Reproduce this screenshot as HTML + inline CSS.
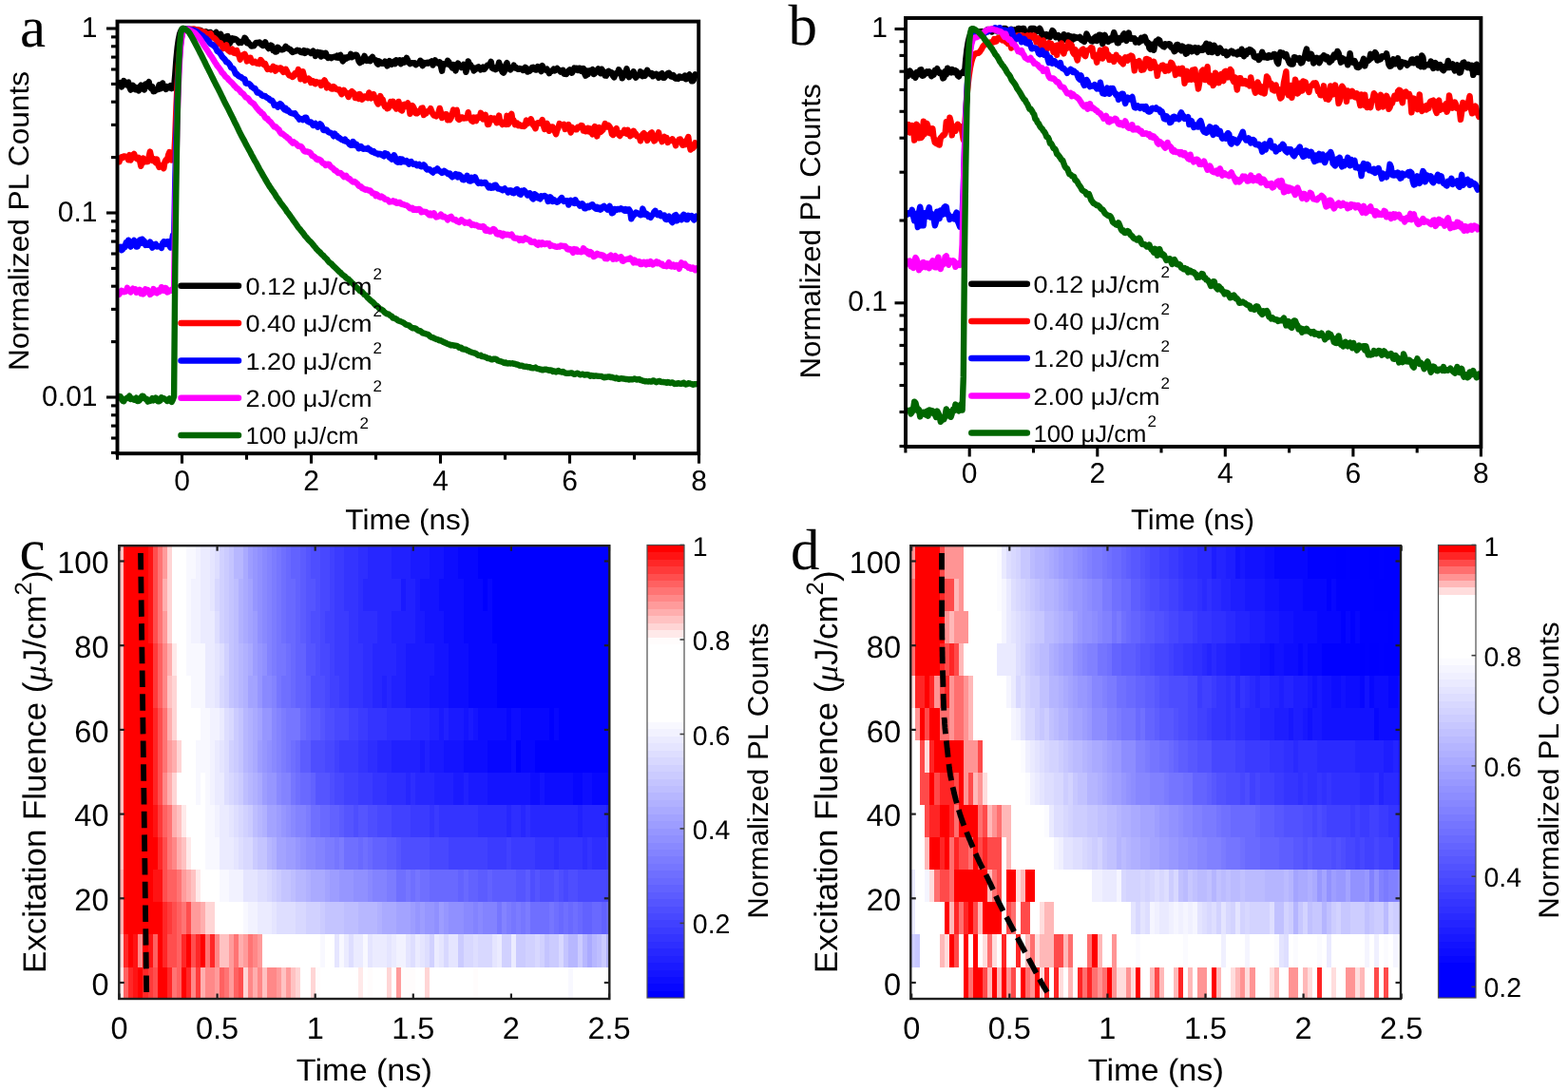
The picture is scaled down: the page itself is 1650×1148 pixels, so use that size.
<!DOCTYPE html>
<html><head><meta charset="utf-8"><title>PL decay figure</title>
<style>
html,body{margin:0;padding:0;background:#fff;}
body{width:1650px;height:1148px;overflow:hidden;}
svg{display:block;}
svg text{font-family:"Liberation Sans",sans-serif;fill:#000;text-rendering:geometricPrecision;}
</style></head><body>
<svg width="1650" height="1148" viewBox="0 0 1650 1148">
<rect width="1650" height="1148" fill="#fff"/>
<polyline points="125.5,88.7 126.7,87.1 127.9,91.5 129.1,88.8 130.3,85.1 131.5,87.7 132.7,89.1 133.9,86.9 135.1,86.6 136.3,91.7 137.5,94.6 138.7,91.4 139.9,89.9 141.1,93.1 142.3,94.2 143.5,92 144.7,94.2 145.9,95.4 147.1,91.5 148.3,89.7 149.5,92.6 150.7,93.8 151.9,94.5 153.1,88.5 154.3,88.4 155.5,87.7 156.7,86.2 157.9,91.5 159.1,93.1 160.3,91.2 161.5,96.2 162.7,96 163.9,94.8 165.1,94.4 166.3,94.2 167.5,89.2 168.7,93.3 169.9,93 171.1,87.4 172.3,91.5 173.5,92.1 174.7,93.8 175.9,91.2 177.1,91.9 178.3,92.4 179.5,90.1 180.7,93.1 181.9,92.5 183.1,92 184.3,78.4 185.5,62 186.7,49.8 187.9,41.3 189.1,35.7 190.3,32.5 191.5,31 192.7,30.5 193.9,30.5 195.1,30.6 196.3,30.6 197.5,30.8 198.7,31 199.9,31 201.1,31.5 202.3,31.8 203.5,31.3 204.7,31.5 205.9,31.5 207.1,32.5 208.3,33.8 209.5,34 210.7,31.8 211.9,32.4 213.1,34.1 214.3,35.3 215.5,34.4 216.7,33.3 217.9,34.3 219.1,34.4 220.3,34.2 221.5,34 222.7,35.7 223.9,36.1 225.1,35.7 226.3,35.2 227.5,34 228.7,35.9 229.9,39 231.1,37.1 232.3,35.9 233.5,40.2 234.7,41.1 235.9,43 237.1,40.2 238.3,38.3 239.5,38 240.7,43.3 241.9,45.6 243.1,40.6 244.3,40.2 245.5,42.1 246.7,40.7 247.9,41.2 249.1,41.8 250.3,43.4 251.5,45 252.7,44.1 253.9,44.9 255.1,43.5 256.3,43.3 257.5,39.7 258.7,41.1 259.9,45.1 261.1,44.4 262.3,46.1 263.5,47.2 264.7,48.6 265.9,48.4 267.1,48.3 268.3,46.3 269.5,44.9 270.7,44.9 271.9,45.2 273.1,44.6 274.3,45.7 275.5,47.2 276.7,47.9 277.9,46.4 279.1,44.3 280.3,47.3 281.5,49.3 282.7,51 283.9,50.1 285.1,47.7 286.3,48.5 287.5,53.1 288.7,52.8 289.9,54.6 291.1,54.4 292.3,49.8 293.5,51 294.7,51.9 295.9,52.3 297.1,52.4 298.3,51.9 299.5,51.1 300.7,48.8 301.9,50.4 303.1,50.6 304.3,51.9 305.5,51.9 306.7,54 307.9,54.9 309.1,54.2 310.3,54.1 311.5,53.6 312.7,52.8 313.9,53.2 315.1,53.3 316.3,54.9 317.5,55.1 318.7,55.3 319.9,53.1 321.1,55.9 322.3,54 323.5,53.7 324.7,54.7 325.9,54.9 327.1,56.1 328.3,54.8 329.5,53.7 330.7,55.1 331.9,59 333.1,57.1 334.3,54.9 335.5,56 336.7,55.3 337.9,59.6 339.1,55.9 340.3,58.4 341.5,58.7 342.7,55.8 343.9,58.8 345.1,60.9 346.3,60.2 347.5,60.1 348.7,61.1 349.9,60.1 351.1,60 352.3,59.6 353.5,60.3 354.7,58.5 355.9,60.7 357.1,58.8 358.3,57.9 359.5,61.3 360.7,64.4 361.9,63 363.1,60.5 364.3,61.7 365.5,60.3 366.7,60.6 367.9,60.1 369.1,56.8 370.3,60.2 371.5,59.3 372.7,59.1 373.9,57.8 375.1,57.7 376.3,59.8 377.5,64.2 378.7,66.1 379.9,63.8 381.1,64.6 382.3,61.7 383.5,58.9 384.7,62.4 385.9,63.8 387.1,62.6 388.3,63.9 389.5,64.2 390.7,61.2 391.9,59.9 393.1,62.3 394.3,63 395.5,63.4 396.7,66.5 397.9,67.7 399.1,64.4 400.3,65.8 401.5,66.8 402.7,66.7 403.9,66.6 405.1,64.5 406.3,66.8 407.5,69.4 408.7,66.9 409.9,64.1 411.1,66.2 412.3,67.8 413.5,65.9 414.7,64.7 415.9,67.1 417.1,63.4 418.3,65.4 419.5,64.7 420.7,63.3 421.9,67.2 423.1,65.9 424.3,63.3 425.5,65.7 426.7,63.8 427.9,60.9 429.1,63.2 430.3,66 431.5,67.1 432.7,66.3 433.9,66.1 435.1,66.6 436.3,66.2 437.5,68.2 438.7,67 439.9,66.9 441.1,66.7 442.3,63.8 443.5,64.9 444.7,69.2 445.9,67.6 447.1,66.1 448.3,66.7 449.5,65.8 450.7,66.6 451.9,65.6 453.1,66.1 454.3,64.4 455.5,68.6 456.7,65.8 457.9,63.4 459.1,65.7 460.3,66.4 461.5,66.9 462.7,65.3 463.9,69.6 465.1,74.7 466.3,67.1 467.5,67.7 468.7,67.5 469.9,67.3 471.1,63.8 472.3,65.1 473.5,68.6 474.7,69.4 475.9,71.5 477.1,68 478.3,70.1 479.5,74.5 480.7,68.2 481.9,66.6 483.1,68.4 484.3,69.4 485.5,71 486.7,69.5 487.9,67.9 489.1,70.8 490.3,75.8 491.5,72.1 492.7,64.4 493.9,67.5 495.1,68.2 496.3,70.6 497.5,70.9 498.7,74.4 499.9,73.4 501.1,72.5 502.3,70.9 503.5,70.3 504.7,71.6 505.9,73.4 507.1,71.9 508.3,70.6 509.5,73 510.7,71.5 511.9,70 513.1,68.5 514.3,68.6 515.5,67.5 516.7,64.9 517.9,71.6 519.1,72.3 520.3,71.1 521.5,73.1 522.7,72.5 523.9,70.6 525.1,65.7 526.3,69.4 527.5,72.8 528.7,75.7 529.9,76.6 531.1,74.5 532.3,68.3 533.5,66.2 534.7,71.3 535.9,72.2 537.1,73.4 538.3,71.8 539.5,71.1 540.7,68.7 541.9,71.5 543.1,71.1 544.3,72.5 545.5,72.9 546.7,72 547.9,72.5 549.1,72.5 550.3,73.9 551.5,73.2 552.7,70.9 553.9,71.5 555.1,75.6 556.3,73.5 557.5,74.6 558.7,73.5 559.9,71.1 561.1,70.7 562.3,72.6 563.5,73.6 564.7,73.5 565.9,70.1 567.1,70.8 568.3,73.2 569.5,75.1 570.7,69.1 571.9,72.5 573.1,72.5 574.3,73.6 575.5,72.7 576.7,74.7 577.9,77.2 579.1,75.3 580.3,74.9 581.5,74.2 582.7,72.6 583.9,74.4 585.1,73.2 586.3,72 587.5,73.3 588.7,73.9 589.9,75.5 591.1,74.2 592.3,73.8 593.5,77.6 594.7,77.9 595.9,78 597.1,76.4 598.3,74.4 599.5,73.4 600.7,74.3 601.9,76.7 603.1,74.7 604.3,71.6 605.5,73.2 606.7,71.9 607.9,73.9 609.1,71.8 610.3,71.8 611.5,74.7 612.7,74.2 613.9,72 615.1,77.3 616.3,79.7 617.5,74.4 618.7,78.3 619.9,74.8 621.1,74.1 622.3,74.3 623.5,73.2 624.7,78.1 625.9,77.3 627.1,74.4 628.3,74.2 629.5,72.4 630.7,75 631.9,77.1 633.1,72.7 634.3,74.5 635.5,77 636.7,79.5 637.9,79.7 639.1,75.8 640.3,74.9 641.5,77 642.7,76 643.9,76.5 645.1,79.9 646.3,81.3 647.5,78.3 648.7,77 649.9,77.2 651.1,73.3 652.3,75.5 653.5,76.2 654.7,82.3 655.9,80.3 657.1,78 658.3,75.7 659.5,72.3 660.7,78.7 661.9,81.2 663.1,77.4 664.3,79.3 665.5,78.9 666.7,75.4 667.9,79.9 669.1,81.6 670.3,79.3 671.5,78.6 672.7,79.1 673.9,75.3 675.1,78.3 676.3,80.1 677.5,76.8 678.7,79.8 679.9,77.1 681.1,73.8 682.3,76.8 683.5,76.8 684.7,78.4 685.9,77.1 687.1,80.3 688.3,78.2 689.5,79.2 690.7,77.9 691.9,78.9 693.1,81.9 694.3,80.3 695.5,78 696.7,77.2 697.9,81.9 699.1,81.8 700.3,79.6 701.5,79.6 702.7,77.2 703.9,76.7 705.1,77.9 706.3,80.6 707.5,80.7 708.7,79.2 709.9,82 711.1,82.7 712.3,81.9 713.5,82.9 714.7,80.5 715.9,80.6 717.1,81.8 718.3,81.5 719.5,82 720.7,79.5 721.9,83.2 723.1,80.2 724.3,79.7 725.5,78.5 726.7,82.7 727.9,85.3 729.1,85.2 730.3,83.3 731.5,78.3 732.7,78.9" fill="none" stroke="#000" stroke-width="6.4" stroke-linejoin="round" stroke-linecap="round"/>
<polyline points="125.5,170.2 126.7,166.4 127.9,165.2 129.1,166 130.3,164.5 131.5,164.4 132.7,165.2 133.9,165.2 135.1,168.2 136.3,163 137.5,168.5 138.7,165.4 139.9,163.6 141.1,161.8 142.3,165.5 143.5,166.6 144.7,167.5 145.9,165.8 147.1,169.1 148.3,174.8 149.5,170.2 150.7,166.6 151.9,170.4 153.1,168.5 154.3,170.2 155.5,170 156.7,164.8 157.9,159.5 159.1,164.9 160.3,168.9 161.5,167 162.7,169.7 163.9,171.1 165.1,167.5 166.3,173.2 167.5,175.8 168.7,174.2 169.9,173.9 171.1,174.9 172.3,177.2 173.5,170.3 174.7,168.2 175.9,168.9 177.1,163.2 178.3,160 179.5,163.1 180.7,168.5 181.9,168.2 183.1,167.5 184.3,143.9 185.5,111.7 186.7,86.9 187.9,67.8 189.1,53.5 190.3,43.5 191.5,36.9 192.7,33 193.9,31.2 195.1,30.6 196.3,30.5 197.5,30.5 198.7,30.6 199.9,30.6 201.1,30.7 202.3,30.8 203.5,30.5 204.7,30.7 205.9,31.3 207.1,31.5 208.3,31.2 209.5,32.5 210.7,32.5 211.9,32.9 213.1,33.8 214.3,34.4 215.5,33.8 216.7,35.9 217.9,36.1 219.1,35.8 220.3,36.3 221.5,35.3 222.7,37.6 223.9,39.6 225.1,39.6 226.3,40.6 227.5,41.9 228.7,43.5 229.9,45.7 231.1,45.1 232.3,45.4 233.5,48.2 234.7,51 235.9,48.6 237.1,48.9 238.3,47.5 239.5,52.3 240.7,53.4 241.9,54.4 243.1,52.4 244.3,51.6 245.5,55.4 246.7,56 247.9,53.4 249.1,53.1 250.3,56.8 251.5,58.6 252.7,62.7 253.9,58.6 255.1,58 256.3,58.7 257.5,56.9 258.7,59.4 259.9,64.4 261.1,62.5 262.3,60.9 263.5,60.8 264.7,64.6 265.9,65.9 267.1,65.3 268.3,64.7 269.5,66.2 270.7,66.7 271.9,65.7 273.1,67 274.3,63 275.5,64.3 276.7,67.3 277.9,68.1 279.1,67.2 280.3,70.5 281.5,72.8 282.7,72.2 283.9,72.1 285.1,73.3 286.3,72.3 287.5,69.8 288.7,72 289.9,74.7 291.1,71.4 292.3,72.7 293.5,72.4 294.7,71.4 295.9,71.8 297.1,74.5 298.3,75.9 299.5,75.4 300.7,72.7 301.9,74.9 303.1,77.5 304.3,79.3 305.5,79.5 306.7,80.2 307.9,81 309.1,80 310.3,77.2 311.5,78.1 312.7,76.4 313.9,73.1 315.1,76.1 316.3,83.3 317.5,78.1 318.7,75.2 319.9,79.7 321.1,84.7 322.3,83 323.5,83.2 324.7,82.5 325.9,83.6 327.1,86.9 328.3,86.5 329.5,85.3 330.7,87.5 331.9,88.2 333.1,86.2 334.3,87 335.5,87.2 336.7,86.7 337.9,90 339.1,88.3 340.3,86.4 341.5,84.4 342.7,86.8 343.9,92.4 345.1,89.2 346.3,91.3 347.5,91.3 348.7,93.3 349.9,93.6 351.1,91.1 352.3,92 353.5,93.6 354.7,94.2 355.9,94.1 357.1,94.2 358.3,97 359.5,99.1 360.7,97.3 361.9,94.8 363.1,96.9 364.3,97.4 365.5,99.3 366.7,102 367.9,98.3 369.1,97.4 370.3,96.1 371.5,97.1 372.7,98.5 373.9,103.1 375.1,101 376.3,100 377.5,103.9 378.7,99.1 379.9,102.8 381.1,104.6 382.3,103.4 383.5,101.5 384.7,101.5 385.9,102 387.1,103.1 388.3,97.5 389.5,100.8 390.7,103.4 391.9,101.5 393.1,99.2 394.3,102.4 395.5,103.3 396.7,107.6 397.9,109.5 399.1,105.6 400.3,101.1 401.5,104.1 402.7,104.6 403.9,109.2 405.1,112.2 406.3,110.7 407.5,114.2 408.7,113.8 409.9,110.7 411.1,107.1 412.3,108.2 413.5,106.8 414.7,111.9 415.9,112.2 417.1,114.5 418.3,111.4 419.5,106.9 420.7,112.6 421.9,115.8 423.1,116.5 424.3,110.4 425.5,109.8 426.7,111.9 427.9,109.7 429.1,108.5 430.3,111.7 431.5,119.8 432.7,113.7 433.9,111.1 435.1,112.9 436.3,115.6 437.5,119.3 438.7,119.4 439.9,118.5 441.1,116.7 442.3,116.2 443.5,113.8 444.7,113.5 445.9,121 447.1,117.9 448.3,119.5 449.5,117.2 450.7,117.1 451.9,116.5 453.1,114.2 454.3,117.4 455.5,120 456.7,121.5 457.9,121.5 459.1,122.4 460.3,120.8 461.5,118.3 462.7,113.9 463.9,118.1 465.1,124 466.3,122.1 467.5,122.5 468.7,120.1 469.9,120.2 471.1,126.3 472.3,124.5 473.5,126 474.7,123.8 475.9,119.6 477.1,115.5 478.3,119.6 479.5,116.3 480.7,115.9 481.9,124.9 483.1,126 484.3,125.1 485.5,123.5 486.7,123.4 487.9,124.6 489.1,124.2 490.3,124.4 491.5,124.2 492.7,118.2 493.9,124.4 495.1,123.7 496.3,127.1 497.5,127.8 498.7,123.6 499.9,127 501.1,127.2 502.3,123.2 503.5,123.2 504.7,123.6 505.9,118.8 507.1,122.7 508.3,125.4 509.5,123.4 510.7,120.7 511.9,124.7 513.1,131 514.3,130.9 515.5,126.3 516.7,124 517.9,125.9 519.1,126.2 520.3,124.6 521.5,125.9 522.7,129.2 523.9,128.5 525.1,121.6 526.3,128.5 527.5,129.4 528.7,131 529.9,128.8 531.1,130.2 532.3,130.8 533.5,121.8 534.7,130.8 535.9,128.7 537.1,121.4 538.3,119.8 539.5,126.9 540.7,126.8 541.9,131.2 543.1,130.3 544.3,129.7 545.5,132.2 546.7,131.2 547.9,132.4 549.1,132.8 550.3,131.9 551.5,133 552.7,131.9 553.9,126.5 555.1,128.4 556.3,129.6 557.5,128.2 558.7,125.3 559.9,128.2 561.1,131.6 562.3,132.9 563.5,135.2 564.7,130.2 565.9,129.2 567.1,129.2 568.3,129.8 569.5,128.3 570.7,126.1 571.9,132.3 573.1,136 574.3,135.4 575.5,129.8 576.7,132.4 577.9,137.8 579.1,133.9 580.3,133.6 581.5,133.4 582.7,136.6 583.9,138.4 585.1,141.2 586.3,136.9 587.5,134.3 588.7,130 589.9,131.1 591.1,131.2 592.3,131.5 593.5,130.8 594.7,136 595.9,132.3 597.1,133.5 598.3,131.2 599.5,136 600.7,139.4 601.9,133.9 603.1,135.4 604.3,135.4 605.5,136.4 606.7,136.4 607.9,133.8 609.1,134.1 610.3,133.2 611.5,132 612.7,132.4 613.9,137.5 615.1,135.2 616.3,138.2 617.5,137.8 618.7,134.7 619.9,138.4 621.1,135.4 622.3,139.2 623.5,141.3 624.7,135.3 625.9,133.1 627.1,135.5 628.3,143.4 629.5,137.1 630.7,134.1 631.9,139.1 633.1,137.9 634.3,136.9 635.5,133.3 636.7,130 637.9,133.5 639.1,133.3 640.3,131.9 641.5,133.3 642.7,135.5 643.9,141 645.1,142 646.3,140.7 647.5,136.9 648.7,135.2 649.9,139.6 651.1,141.8 652.3,143 653.5,140.2 654.7,139.6 655.9,140 657.1,136.8 658.3,137.4 659.5,140.7 660.7,136.9 661.9,139.9 663.1,143.2 664.3,142.4 665.5,141.6 666.7,137.8 667.9,139.7 669.1,140.8 670.3,143.4 671.5,143.4 672.7,143.6 673.9,148.3 675.1,145 676.3,141.2 677.5,140.2 678.7,141.5 679.9,142.1 681.1,147.9 682.3,145.8 683.5,142.1 684.7,140.1 685.9,139.3 687.1,142.9 688.3,148.4 689.5,147.6 690.7,144.7 691.9,143.2 693.1,139.3 694.3,145.4 695.5,145.8 696.7,149.1 697.9,145.4 699.1,143.9 700.3,145.4 701.5,145 702.7,150 703.9,148.5 705.1,148.1 706.3,147.7 707.5,146.3 708.7,148.4 709.9,149.6 711.1,153.2 712.3,149.5 713.5,148.7 714.7,146.6 715.9,146.5 717.1,148.3 718.3,152.8 719.5,151.1 720.7,152.2 721.9,149.1 723.1,146.7 724.3,144 725.5,152.9 726.7,157.6 727.9,152.7 729.1,156 730.3,154.5 731.5,150.3 732.7,152.7" fill="none" stroke="#f00" stroke-width="6.4" stroke-linejoin="round" stroke-linecap="round"/>
<polyline points="125.5,260.2 126.7,259.7 127.9,263.3 129.1,262.3 130.3,259.2 131.5,260 132.7,255.2 133.9,258 135.1,252.7 136.3,256.7 137.5,259.6 138.7,257.2 139.9,254.5 141.1,253 142.3,255.2 143.5,259.6 144.7,259.3 145.9,254.9 147.1,252.5 148.3,256 149.5,251.7 150.7,252.8 151.9,253.9 153.1,257.9 154.3,257.6 155.5,257.8 156.7,256.7 157.9,254.6 159.1,258.2 160.3,260.6 161.5,257.4 162.7,257.8 163.9,256.9 165.1,259.5 166.3,259.4 167.5,259.4 168.7,258.9 169.9,260.9 171.1,255.9 172.3,254.3 173.5,254.4 174.7,256.9 175.9,254.1 177.1,254.1 178.3,258.6 179.5,260.5 180.7,256.6 181.9,247.6 183.1,254.9 184.3,190.4 185.5,142.4 186.7,105.1 187.9,77.2 189.1,57.3 190.3,44 191.5,36.1 192.7,32.1 193.9,30.7 195.1,30.5 196.3,30.5 197.5,30.7 198.7,30.8 199.9,31 201.1,31.3 202.3,31.6 203.5,31.9 204.7,32.2 205.9,32.8 207.1,33.3 208.3,34.1 209.5,35.2 210.7,35.9 211.9,36.9 213.1,37.6 214.3,38.8 215.5,40 216.7,40.3 217.9,41.5 219.1,42.8 220.3,44.3 221.5,46 222.7,46.7 223.9,46.9 225.1,48.4 226.3,49.5 227.5,51.2 228.7,54 229.9,54.1 231.1,55.7 232.3,57 233.5,59.3 234.7,60.7 235.9,61.8 237.1,63.3 238.3,65.3 239.5,65.5 240.7,66.7 241.9,68.3 243.1,71.1 244.3,71.6 245.5,72.3 246.7,74.5 247.9,77.7 249.1,77.8 250.3,79.3 251.5,80.3 252.7,80.8 253.9,81.3 255.1,82.4 256.3,83.1 257.5,83.4 258.7,87.5 259.9,87.9 261.1,87.8 262.3,88.3 263.5,89.2 264.7,91.3 265.9,92 267.1,92.9 268.3,92.9 269.5,95.3 270.7,97.5 271.9,97 273.1,98.1 274.3,98.7 275.5,100.3 276.7,101 277.9,100.8 279.1,101.1 280.3,102.4 281.5,103.1 282.7,103.5 283.9,105.1 285.1,105.9 286.3,105.7 287.5,107.6 288.7,110.8 289.9,110.3 291.1,110.5 292.3,112.6 293.5,110.8 294.7,109.1 295.9,110 297.1,111.6 298.3,114.2 299.5,115.3 300.7,113.9 301.9,116.4 303.1,115.9 304.3,117.5 305.5,118.6 306.7,119.1 307.9,119.3 309.1,119.7 310.3,119.3 311.5,121.1 312.7,122.7 313.9,123.8 315.1,125.6 316.3,125 317.5,125.1 318.7,126.1 319.9,125.1 321.1,123.6 322.3,123.7 323.5,127.4 324.7,128.3 325.9,128.7 327.1,128.4 328.3,129.8 329.5,131.9 330.7,131 331.9,130 333.1,131.5 334.3,133.7 335.5,131.9 336.7,130.4 337.9,131.3 339.1,133.7 340.3,136.8 341.5,137.1 342.7,136.5 343.9,136.7 345.1,138.5 346.3,139.3 347.5,139.6 348.7,140.3 349.9,141.1 351.1,143.3 352.3,140.6 353.5,142.5 354.7,143 355.9,144.9 357.1,145 358.3,146.1 359.5,146.9 360.7,147.3 361.9,148 363.1,146.7 364.3,148.9 365.5,149 366.7,150.2 367.9,152.1 369.1,152.8 370.3,152.9 371.5,149.1 372.7,150.4 373.9,153 375.1,151.8 376.3,153.4 377.5,156.2 378.7,155.7 379.9,154.1 381.1,155.8 382.3,156.8 383.5,156.5 384.7,156.7 385.9,156.9 387.1,155.9 388.3,157.5 389.5,157.5 390.7,159.3 391.9,159.8 393.1,159.1 394.3,160.9 395.5,161.4 396.7,161.5 397.9,162.4 399.1,161.8 400.3,162 401.5,162.8 402.7,163.6 403.9,164.3 405.1,161.3 406.3,162.6 407.5,162 408.7,163.9 409.9,165.7 411.1,166.3 412.3,167.6 413.5,166.5 414.7,163.2 415.9,165.5 417.1,169.8 418.3,170.6 419.5,168.5 420.7,167.4 421.9,170.7 423.1,167.5 424.3,169.5 425.5,170.2 426.7,170.4 427.9,169.2 429.1,170.5 430.3,172.6 431.5,171 432.7,170.1 433.9,172 435.1,172.8 436.3,172.7 437.5,172.5 438.7,174.2 439.9,173.7 441.1,172.9 442.3,174.7 443.5,175.2 444.7,175.1 445.9,173.3 447.1,174.7 448.3,177.2 449.5,178.4 450.7,178 451.9,178.1 453.1,179.3 454.3,180.4 455.5,181.5 456.7,180 457.9,178.8 459.1,179.4 460.3,177.4 461.5,179.5 462.7,180 463.9,180.9 465.1,182 466.3,181.4 467.5,179.8 468.7,181 469.9,181.3 471.1,182.8 472.3,183.4 473.5,182.6 474.7,185.1 475.9,186.3 477.1,184.9 478.3,185.3 479.5,183.1 480.7,184.6 481.9,186.4 483.1,183.8 484.3,184.8 485.5,185.7 486.7,188.9 487.9,189.3 489.1,187.3 490.3,187.1 491.5,184.9 492.7,189.2 493.9,190.4 495.1,190.6 496.3,186.8 497.5,189.5 498.7,189 499.9,186.4 501.1,188.9 502.3,191.2 503.5,192.9 504.7,192.4 505.9,191.7 507.1,193 508.3,192.7 509.5,191.9 510.7,191.9 511.9,193.8 513.1,195.3 514.3,197.3 515.5,195.5 516.7,197.7 517.9,197.2 519.1,197.5 520.3,194.9 521.5,194.7 522.7,196.4 523.9,198.5 525.1,198.4 526.3,199.1 527.5,199.3 528.7,200.2 529.9,199.2 531.1,198.4 532.3,199.9 533.5,200.5 534.7,202.5 535.9,200.5 537.1,200.3 538.3,200.6 539.5,202.9 540.7,203.3 541.9,202.3 543.1,199.4 544.3,199.2 545.5,202.3 546.7,204.3 547.9,204.7 549.1,200.7 550.3,201.6 551.5,200.4 552.7,201.5 553.9,203.7 555.1,205.5 556.3,203.8 557.5,203.3 558.7,204.8 559.9,208.2 561.1,209.4 562.3,204.2 563.5,204.8 564.7,205.9 565.9,208.4 567.1,208.6 568.3,209.3 569.5,206.2 570.7,206.9 571.9,206.5 573.1,205.9 574.3,207 575.5,207.3 576.7,212 577.9,210.1 579.1,207.4 580.3,208.7 581.5,212 582.7,210 583.9,211.2 585.1,212 586.3,212.8 587.5,212.1 588.7,210.6 589.9,209.3 591.1,208.1 592.3,210.8 593.5,211.9 594.7,211.4 595.9,211.3 597.1,211.3 598.3,215.6 599.5,212.5 600.7,210.9 601.9,211.8 603.1,213.3 604.3,213.9 605.5,210.3 606.7,213.7 607.9,213.4 609.1,214.4 610.3,216.7 611.5,216.4 612.7,214.3 613.9,215.7 615.1,219.3 616.3,219.3 617.5,218 618.7,216.9 619.9,218.2 621.1,217.4 622.3,215.5 623.5,215.2 624.7,217.8 625.9,218.7 627.1,219.6 628.3,218 629.5,220 630.7,218.6 631.9,220.6 633.1,219.7 634.3,217.5 635.5,216.9 636.7,218.3 637.9,219.1 639.1,220.6 640.3,218.1 641.5,216.8 642.7,220.1 643.9,224.3 645.1,223.8 646.3,220 647.5,220 648.7,221 649.9,219.9 651.1,220.3 652.3,220.3 653.5,219.3 654.7,219.9 655.9,220.8 657.1,221.7 658.3,220.2 659.5,221.6 660.7,220.5 661.9,220.3 663.1,222.3 664.3,230.3 665.5,227.9 666.7,226.7 667.9,225.5 669.1,223.6 670.3,224 671.5,224.7 672.7,225.3 673.9,226.2 675.1,226.1 676.3,219.6 677.5,222.7 678.7,225.7 679.9,224.6 681.1,225.4 682.3,228 683.5,227.3 684.7,228.9 685.9,226.5 687.1,225.8 688.3,223.2 689.5,221.8 690.7,224.6 691.9,226.1 693.1,225.3 694.3,224.3 695.5,227.4 696.7,227.3 697.9,226.7 699.1,226.5 700.3,230.6 701.5,231 702.7,228.7 703.9,227.7 705.1,229 706.3,232.5 707.5,234 708.7,229.3 709.9,226.6 711.1,226.1 712.3,232.3 713.5,228.3 714.7,230.1 715.9,230.8 717.1,231.3 718.3,227.3 719.5,225.8 720.7,229 721.9,230.8 723.1,231.1 724.3,226.8 725.5,227.9 726.7,228.5 727.9,227.2 729.1,229.4 730.3,231.5 731.5,229.8 732.7,227.7" fill="none" stroke="#00f" stroke-width="6.4" stroke-linejoin="round" stroke-linecap="round"/>
<polyline points="125.5,309.6 126.7,307.3 127.9,305.8 129.1,306.9 130.3,307.2 131.5,306.9 132.7,306.5 133.9,302.9 135.1,306 136.3,305.3 137.5,307.4 138.7,305.8 139.9,303.7 141.1,304.7 142.3,304.3 143.5,307.7 144.7,307 145.9,307.3 147.1,304.9 148.3,308.9 149.5,307 150.7,309.4 151.9,308.1 153.1,304.2 154.3,305.8 155.5,305.2 156.7,307.4 157.9,309.9 159.1,309 160.3,308.1 161.5,304.1 162.7,306 163.9,307.5 165.1,308.3 166.3,305.5 167.5,307.2 168.7,306.4 169.9,302.2 171.1,303 172.3,305.8 173.5,302.9 174.7,303.1 175.9,307.5 177.1,307 178.3,305.7 179.5,305.9 180.7,304.8 181.9,304.3 183.1,304.7 184.3,225.9 185.5,167.2 186.7,121.7 187.9,87.6 189.1,63.2 190.3,47 191.5,37.3 192.7,32.4 193.9,30.7 195.1,30.5 196.3,30.6 197.5,30.9 198.7,31.3 199.9,31.8 201.1,32.4 202.3,33.1 203.5,33.8 204.7,34.5 205.9,35.5 207.1,36.9 208.3,38.2 209.5,39.7 210.7,41.2 211.9,43.1 213.1,45 214.3,47.1 215.5,48.9 216.7,50.7 217.9,52.5 219.1,54.3 220.3,56.3 221.5,58.1 222.7,59.7 223.9,61.6 225.1,63.7 226.3,65.7 227.5,67.3 228.7,69.4 229.9,70.7 231.1,72.3 232.3,73.9 233.5,76.2 234.7,77.2 235.9,78.6 237.1,80.5 238.3,81.3 239.5,82.4 240.7,84.1 241.9,85.1 243.1,86.4 244.3,87.3 245.5,88.9 246.7,90.3 247.9,91.3 249.1,93 250.3,93.4 251.5,94.5 252.7,95.9 253.9,97.5 255.1,98.1 256.3,99.2 257.5,100.8 258.7,102.4 259.9,102.8 261.1,103.5 262.3,105.2 263.5,106.8 264.7,107.6 265.9,108.7 267.1,109.2 268.3,111.1 269.5,112.7 270.7,114.2 271.9,115.5 273.1,116.9 274.3,117.6 275.5,119.3 276.7,119.7 277.9,121.5 279.1,123.8 280.3,124.7 281.5,124.8 282.7,126.8 283.9,127.8 285.1,128.8 286.3,130.4 287.5,131.9 288.7,133.4 289.9,133.2 291.1,134.6 292.3,135.8 293.5,136.4 294.7,139.1 295.9,140.6 297.1,140.5 298.3,141.7 299.5,142.5 300.7,143.6 301.9,144.3 303.1,145.7 304.3,146.1 305.5,148.1 306.7,149.1 307.9,150.5 309.1,149.4 310.3,150.4 311.5,151 312.7,152.5 313.9,153.7 315.1,153.6 316.3,153.8 317.5,154.7 318.7,156.9 319.9,158.8 321.1,159.5 322.3,159.4 323.5,159.4 324.7,160.3 325.9,160.3 327.1,161.4 328.3,163.7 329.5,164.2 330.7,165 331.9,165.8 333.1,167.6 334.3,168.3 335.5,167.6 336.7,168.2 337.9,169.1 339.1,171.2 340.3,172 341.5,172.1 342.7,174 343.9,173.3 345.1,172.6 346.3,172.8 347.5,174.9 348.7,176.1 349.9,176.5 351.1,177.9 352.3,179.3 353.5,179.4 354.7,180.8 355.9,182.1 357.1,182 358.3,181.9 359.5,183.2 360.7,184.6 361.9,186.2 363.1,185 364.3,184.8 365.5,186.8 366.7,187.9 367.9,188.2 369.1,189.6 370.3,190.6 371.5,191.6 372.7,190.9 373.9,191.5 375.1,192.7 376.3,193.6 377.5,195.6 378.7,196 379.9,196.4 381.1,198.1 382.3,198.4 383.5,199.3 384.7,199.7 385.9,199.5 387.1,200 388.3,200.5 389.5,200.4 390.7,201.7 391.9,203.4 393.1,203.5 394.3,203.6 395.5,206.1 396.7,204.7 397.9,206 399.1,207.1 400.3,207.7 401.5,206.6 402.7,207.4 403.9,208.2 405.1,209.7 406.3,209.8 407.5,210.1 408.7,211 409.9,212.5 411.1,212.2 412.3,212.1 413.5,211.3 414.7,212.4 415.9,211.9 417.1,213.7 418.3,213.7 419.5,212.9 420.7,213 421.9,214.4 423.1,215.1 424.3,215 425.5,215.5 426.7,215.9 427.9,216.1 429.1,216.9 430.3,218.1 431.5,219.4 432.7,219.1 433.9,218.7 435.1,220.8 436.3,220.9 437.5,220.1 438.7,221 439.9,220.1 441.1,219.9 442.3,220.8 443.5,223.2 444.7,222.7 445.9,222.8 447.1,222.9 448.3,222.9 449.5,224.1 450.7,225.2 451.9,226.2 453.1,224.6 454.3,226.5 455.5,225.9 456.7,224.3 457.9,227 459.1,228.5 460.3,228.2 461.5,227.6 462.7,227 463.9,225.7 465.1,227.8 466.3,228.3 467.5,227.8 468.7,228.7 469.9,229.2 471.1,231.4 472.3,229 473.5,228.4 474.7,227.9 475.9,229.8 477.1,231.1 478.3,231.3 479.5,231.3 480.7,232.8 481.9,233.1 483.1,233.9 484.3,232.7 485.5,231.3 486.7,232.7 487.9,233 489.1,234.6 490.3,234 491.5,234.4 492.7,234.7 493.9,233.7 495.1,235.2 496.3,236.8 497.5,236 498.7,236.5 499.9,237.1 501.1,236.7 502.3,237.4 503.5,238.5 504.7,238.3 505.9,238.8 507.1,238.8 508.3,238.1 509.5,238.8 510.7,242.6 511.9,242.8 513.1,241.6 514.3,242.8 515.5,243.6 516.7,243.5 517.9,242.1 519.1,240.9 520.3,241.5 521.5,243.5 522.7,246 523.9,246.5 525.1,244.9 526.3,245.1 527.5,247.4 528.7,248.3 529.9,245.9 531.1,246.8 532.3,247.1 533.5,246.8 534.7,246.9 535.9,247.3 537.1,247.6 538.3,246.6 539.5,248.5 540.7,250.2 541.9,250.7 543.1,250.9 544.3,250.6 545.5,251.1 546.7,252.8 547.9,251.2 549.1,251.6 550.3,252.9 551.5,251.7 552.7,250.3 553.9,251.1 555.1,251.8 556.3,252.4 557.5,252.8 558.7,254.7 559.9,255 561.1,254.6 562.3,254.2 563.5,255.9 564.7,256.9 565.9,257.8 567.1,255.2 568.3,255.7 569.5,257.2 570.7,255.3 571.9,256.5 573.1,257 574.3,256.8 575.5,256.1 576.7,256.8 577.9,256.3 579.1,258.8 580.3,258.1 581.5,258.5 582.7,258.8 583.9,259.3 585.1,259.6 586.3,259.9 587.5,259.4 588.7,259.6 589.9,258.5 591.1,258.6 592.3,259 593.5,259 594.7,259 595.9,260.4 597.1,262.4 598.3,262.5 599.5,261.9 600.7,262.8 601.9,264 603.1,265.9 604.3,262 605.5,262.8 606.7,262.4 607.9,264.9 609.1,264.3 610.3,264.9 611.5,265.2 612.7,264.8 613.9,261.2 615.1,262.9 616.3,264.8 617.5,264.2 618.7,266.6 619.9,267.5 621.1,265 622.3,265.9 623.5,268.1 624.7,270 625.9,269.5 627.1,268.6 628.3,266.9 629.5,267.8 630.7,268.2 631.9,267.9 633.1,269 634.3,268.5 635.5,269.2 636.7,272 637.9,270.7 639.1,272.1 640.3,270.1 641.5,269.6 642.7,268.6 643.9,270 645.1,272.8 646.3,271 647.5,269.1 648.7,272.4 649.9,270.9 651.1,271 652.3,271.3 653.5,270.3 654.7,274.4 655.9,274.8 657.1,273 658.3,273.3 659.5,272.8 660.7,272.5 661.9,272.7 663.1,271.7 664.3,272.8 665.5,273.9 666.7,276.3 667.9,273.6 669.1,276.2 670.3,276.3 671.5,275.3 672.7,275.1 673.9,278.1 675.1,278.1 676.3,276.1 677.5,275.7 678.7,276.8 679.9,278.4 681.1,275.7 682.3,276.7 683.5,277.7 684.7,275.2 685.9,276.7 687.1,278.4 688.3,277 689.5,276.5 690.7,275.5 691.9,277.2 693.1,276.1 694.3,277.1 695.5,278.2 696.7,277.8 697.9,279.6 699.1,279.9 700.3,279.8 701.5,280.2 702.7,278.2 703.9,276.2 705.1,279.8 706.3,280.4 707.5,278.6 708.7,278.5 709.9,280.7 711.1,279.3 712.3,278.9 713.5,280 714.7,282.9 715.9,279 717.1,276.3 718.3,278.9 719.5,278.3 720.7,277.7 721.9,279.9 723.1,280.2 724.3,281.6 725.5,281 726.7,282.7 727.9,282.7 729.1,281.7 730.3,282.8 731.5,284.2 732.7,282.4" fill="none" stroke="#f0f" stroke-width="6.4" stroke-linejoin="round" stroke-linecap="round"/>
<polyline points="125.5,417 126.7,417.1 127.9,420 129.1,421.7 130.3,422.2 131.5,419.6 132.7,419.6 133.9,418.6 135.1,418.2 136.3,416.7 137.5,420 138.7,419.2 139.9,419.8 141.1,420.8 142.3,420.2 143.5,418.7 144.7,422.1 145.9,421.9 147.1,420.8 148.3,418.6 149.5,416.7 150.7,416.9 151.9,419.1 153.1,419.9 154.3,419.7 155.5,422.6 156.7,421.5 157.9,422 159.1,421.3 160.3,419.1 161.5,421.3 162.7,420.6 163.9,418.5 165.1,421 166.3,422.3 167.5,422.3 168.7,421.4 169.9,418.2 171.1,418.9 172.3,419.1 173.5,419.9 174.7,420.6 175.9,422 177.1,421.2 178.3,419.4 179.5,421.7 180.7,422.9 181.9,420.5 183.1,417.1 184.3,280.7 185.5,185.9 186.7,118.6 187.9,74.1 189.1,47.7 190.3,34.7 191.5,30.2 192.7,29.8 193.9,30.1 195.1,30.7 196.3,31.6 197.5,32.6 198.7,33.8 199.9,35.6 201.1,37.7 202.3,39.7 203.5,41.9 204.7,44.1 205.9,46.4 207.1,48.7 208.3,51 209.5,53.4 210.7,55.8 211.9,58.1 213.1,60.5 214.3,62.9 215.5,65.3 216.7,67.8 217.9,70.2 219.1,72.6 220.3,75 221.5,77.4 222.7,79.9 223.9,82.3 225.1,84.7 226.3,87.1 227.5,89.5 228.7,91.8 229.9,94.1 231.1,96.4 232.3,98.9 233.5,101.4 234.7,103.8 235.9,106.3 237.1,108.7 238.3,111 239.5,113.3 240.7,115.6 241.9,118.1 243.1,120.5 244.3,122.9 245.5,125.3 246.7,127.8 247.9,130.3 249.1,132.6 250.3,135.1 251.5,137.7 252.7,140.1 253.9,142.4 255.1,144.7 256.3,146.9 257.5,149.1 258.7,151.6 259.9,153.8 261.1,156 262.3,158.1 263.5,160.3 264.7,162.7 265.9,164.9 267.1,167.1 268.3,169.4 269.5,171.3 270.7,173.5 271.9,175.9 273.1,178.1 274.3,180.1 275.5,182.2 276.7,184.3 277.9,186.3 279.1,188.5 280.3,190.5 281.5,192.6 282.7,194.5 283.9,196.5 285.1,198.1 286.3,200.1 287.5,201.7 288.7,203.4 289.9,205.3 291.1,207.4 292.3,209 293.5,210.5 294.7,212.6 295.9,214.2 297.1,215.7 298.3,217.3 299.5,218.9 300.7,220.5 301.9,222.6 303.1,224 304.3,225.6 305.5,227.3 306.7,229 307.9,230.7 309.1,232.6 310.3,234.1 311.5,235.7 312.7,237.5 313.9,239.3 315.1,240.6 316.3,242.1 317.5,243.7 318.7,245 319.9,246.6 321.1,248.3 322.3,249.6 323.5,251 324.7,252.5 325.9,253.6 327.1,254.8 328.3,256 329.5,257.7 330.7,259.1 331.9,260.4 333.1,262.1 334.3,263.3 335.5,264.5 336.7,265.4 337.9,266.8 339.1,268.1 340.3,268.9 341.5,270.4 342.7,271.6 343.9,272.6 345.1,274.3 346.3,275.9 347.5,276.8 348.7,277.5 349.9,278.8 351.1,280.2 352.3,281.1 353.5,282.4 354.7,283.5 355.9,284.7 357.1,286 358.3,286.7 359.5,288.2 360.7,289.2 361.9,290.1 363.1,290.9 364.3,292.4 365.5,293.3 366.7,293.8 367.9,295.1 369.1,296.3 370.3,297.5 371.5,298.6 372.7,299.8 373.9,301.5 375.1,302.5 376.3,303.3 377.5,304.7 378.7,306 379.9,306.6 381.1,307.2 382.3,308.7 383.5,310 384.7,310.6 385.9,311.9 387.1,313.4 388.3,314.6 389.5,315.7 390.7,316.7 391.9,317.6 393.1,318.7 394.3,320.2 395.5,321.3 396.7,321.9 397.9,323 399.1,324.5 400.3,325.4 401.5,325.7 402.7,326.4 403.9,327.7 405.1,328.9 406.3,329.8 407.5,330.4 408.7,330.5 409.9,331.5 411.1,332.2 412.3,333 413.5,334.6 414.7,334.7 415.9,335.2 417.1,335.8 418.3,336.8 419.5,337.6 420.7,337.8 421.9,338.4 423.1,338.9 424.3,339.4 425.5,340.3 426.7,341.2 427.9,341.7 429.1,342.1 430.3,342.3 431.5,343.5 432.7,344.4 433.9,345.2 435.1,345.1 436.3,345.3 437.5,345.7 438.7,346.7 439.9,347.6 441.1,348.2 442.3,348.3 443.5,349.2 444.7,350.3 445.9,350.6 447.1,351 448.3,351.4 449.5,351.6 450.7,352.2 451.9,353.2 453.1,354.4 454.3,355 455.5,355.2 456.7,355.8 457.9,356.4 459.1,357 460.3,357.1 461.5,357.8 462.7,358.4 463.9,358.3 465.1,359.1 466.3,359.8 467.5,360.3 468.7,360.8 469.9,361.3 471.1,361.9 472.3,362.4 473.5,362.7 474.7,363.4 475.9,363 477.1,363.3 478.3,363.8 479.5,363.8 480.7,363.9 481.9,364.5 483.1,365.7 484.3,365.6 485.5,365.9 486.7,367.4 487.9,367.5 489.1,367.7 490.3,367.8 491.5,368.6 492.7,369 493.9,369.7 495.1,370.2 496.3,370.6 497.5,371.1 498.7,371.3 499.9,371.8 501.1,372.3 502.3,373.2 503.5,373.9 504.7,374.1 505.9,373.8 507.1,375.1 508.3,375.1 509.5,375.3 510.7,375.7 511.9,376.2 513.1,377 514.3,377.1 515.5,377.4 516.7,378.1 517.9,378.4 519.1,377.8 520.3,377.7 521.5,377.8 522.7,378.2 523.9,379.4 525.1,379.8 526.3,380.1 527.5,380.5 528.7,380.9 529.9,381.6 531.1,382 532.3,381.5 533.5,382.4 534.7,382.5 535.9,382.1 537.1,382.5 538.3,382.4 539.5,382.3 540.7,382.9 541.9,382.8 543.1,383.5 544.3,383.5 545.5,384 546.7,384.7 547.9,384.7 549.1,384.6 550.3,385.2 551.5,385.7 552.7,385.9 553.9,385.6 555.1,386.3 556.3,386.1 557.5,386.2 558.7,387 559.9,387.2 561.1,387.3 562.3,387.1 563.5,386.6 564.7,387.6 565.9,388 567.1,388.1 568.3,388.8 569.5,388.7 570.7,389.3 571.9,389.3 573.1,388.6 574.3,388.6 575.5,389 576.7,389.4 577.9,389.8 579.1,389.4 580.3,389.6 581.5,390.9 582.7,390.5 583.9,390.7 585.1,391.4 586.3,390.7 587.5,390 588.7,391 589.9,391.1 591.1,391.6 592.3,390.9 593.5,391.7 594.7,392.4 595.9,392.8 597.1,392.9 598.3,392.8 599.5,392.6 600.7,392.5 601.9,392.4 603.1,393.4 604.3,393.9 605.5,393.6 606.7,392.9 607.9,392.7 609.1,393.4 610.3,394.4 611.5,394.1 612.7,393.6 613.9,394 615.1,394.6 616.3,394.2 617.5,394.3 618.7,394.3 619.9,394.6 621.1,395.7 622.3,395 623.5,395.4 624.7,395.9 625.9,395.5 627.1,395.4 628.3,395.6 629.5,395.8 630.7,395.9 631.9,395.9 633.1,396 634.3,396.6 635.5,397.2 636.7,396.7 637.9,397 639.1,396.7 640.3,396.4 641.5,396.5 642.7,397 643.9,396.8 645.1,397.4 646.3,397.6 647.5,398.2 648.7,397.6 649.9,398.4 651.1,398.8 652.3,398.6 653.5,398.1 654.7,398.4 655.9,398.5 657.1,398.6 658.3,399 659.5,398.9 660.7,399.1 661.9,399.5 663.1,399.1 664.3,399.1 665.5,399.3 666.7,399 667.9,398.4 669.1,399.1 670.3,399.5 671.5,399.1 672.7,399 673.9,400 675.1,400 676.3,400.6 677.5,400.9 678.7,401.3 679.9,401.2 681.1,401.4 682.3,401.5 683.5,401.1 684.7,401.6 685.9,401.6 687.1,400.4 688.3,400.7 689.5,401.6 690.7,402.3 691.9,401.6 693.1,400.9 694.3,401 695.5,401.9 696.7,402.1 697.9,401.9 699.1,402.3 700.3,402.3 701.5,402.8 702.7,402 703.9,402.4 705.1,403.1 706.3,402.6 707.5,402.4 708.7,403 709.9,404 711.1,403.7 712.3,403.9 713.5,403.1 714.7,403.4 715.9,403.9 717.1,403.8 718.3,403.3 719.5,402.8 720.7,404 721.9,404.5 723.1,404.2 724.3,403.3 725.5,403.4 726.7,403.8 727.9,404.1 729.1,404.8 730.3,404.2 731.5,404.3 732.7,404.1" fill="none" stroke="#060" stroke-width="6.4" stroke-linejoin="round" stroke-linecap="round"/>
<line x1="190.5" y1="300.8" x2="251" y2="300.8" stroke="#000" stroke-width="6.5" stroke-linecap="round"/>
<text x="258.5" y="310" font-size="25" textLength="133" lengthAdjust="spacingAndGlyphs">0.12 μJ/cm</text>
<text x="392.5" y="293.8" font-size="17">2</text>
<line x1="190.5" y1="340.1" x2="251" y2="340.1" stroke="#f00" stroke-width="6.5" stroke-linecap="round"/>
<text x="258.5" y="349.3" font-size="25" textLength="133" lengthAdjust="spacingAndGlyphs">0.40 μJ/cm</text>
<text x="392.5" y="333.1" font-size="17">2</text>
<line x1="190.5" y1="379.4" x2="251" y2="379.4" stroke="#00f" stroke-width="6.5" stroke-linecap="round"/>
<text x="258.5" y="388.6" font-size="25" textLength="133" lengthAdjust="spacingAndGlyphs">1.20 μJ/cm</text>
<text x="392.5" y="372.4" font-size="17">2</text>
<line x1="190.5" y1="418.7" x2="251" y2="418.7" stroke="#f0f" stroke-width="6.5" stroke-linecap="round"/>
<text x="258.5" y="427.9" font-size="25" textLength="133" lengthAdjust="spacingAndGlyphs">2.00 μJ/cm</text>
<text x="392.5" y="411.7" font-size="17">2</text>
<line x1="190.5" y1="458" x2="251" y2="458" stroke="#060" stroke-width="6.5" stroke-linecap="round"/>
<text x="258.5" y="467.2" font-size="25" textLength="119" lengthAdjust="spacingAndGlyphs">100 μJ/cm</text>
<text x="378.5" y="451" font-size="17">2</text>
<rect x="123.5" y="22.6" width="611.7" height="454.6" fill="none" stroke="#000" stroke-width="3.9"/>
<line x1="117" y1="476.4" x2="123.5" y2="476.4" stroke="#000" stroke-width="3.1"/>
<line x1="117" y1="461" x2="123.5" y2="461" stroke="#000" stroke-width="3.1"/>
<line x1="117" y1="448.1" x2="123.5" y2="448.1" stroke="#000" stroke-width="3.1"/>
<line x1="117" y1="436.8" x2="123.5" y2="436.8" stroke="#000" stroke-width="3.1"/>
<line x1="117" y1="426.9" x2="123.5" y2="426.9" stroke="#000" stroke-width="3.1"/>
<line x1="112" y1="418" x2="123.5" y2="418" stroke="#000" stroke-width="3.1"/>
<line x1="117" y1="359.6" x2="123.5" y2="359.6" stroke="#000" stroke-width="3.1"/>
<line x1="117" y1="325.4" x2="123.5" y2="325.4" stroke="#000" stroke-width="3.1"/>
<line x1="117" y1="301.2" x2="123.5" y2="301.2" stroke="#000" stroke-width="3.1"/>
<line x1="117" y1="282.4" x2="123.5" y2="282.4" stroke="#000" stroke-width="3.1"/>
<line x1="117" y1="267" x2="123.5" y2="267" stroke="#000" stroke-width="3.1"/>
<line x1="117" y1="254.1" x2="123.5" y2="254.1" stroke="#000" stroke-width="3.1"/>
<line x1="117" y1="242.8" x2="123.5" y2="242.8" stroke="#000" stroke-width="3.1"/>
<line x1="117" y1="232.9" x2="123.5" y2="232.9" stroke="#000" stroke-width="3.1"/>
<line x1="112" y1="224" x2="123.5" y2="224" stroke="#000" stroke-width="3.1"/>
<line x1="117" y1="165.6" x2="123.5" y2="165.6" stroke="#000" stroke-width="3.1"/>
<line x1="117" y1="131.4" x2="123.5" y2="131.4" stroke="#000" stroke-width="3.1"/>
<line x1="117" y1="107.2" x2="123.5" y2="107.2" stroke="#000" stroke-width="3.1"/>
<line x1="117" y1="88.4" x2="123.5" y2="88.4" stroke="#000" stroke-width="3.1"/>
<line x1="117" y1="73" x2="123.5" y2="73" stroke="#000" stroke-width="3.1"/>
<line x1="117" y1="60.1" x2="123.5" y2="60.1" stroke="#000" stroke-width="3.1"/>
<line x1="117" y1="48.8" x2="123.5" y2="48.8" stroke="#000" stroke-width="3.1"/>
<line x1="117" y1="38.9" x2="123.5" y2="38.9" stroke="#000" stroke-width="3.1"/>
<line x1="112" y1="30" x2="123.5" y2="30" stroke="#000" stroke-width="3.1"/>
<line x1="123.5" y1="477.2" x2="123.5" y2="483.7" stroke="#000" stroke-width="3.1"/>
<line x1="191.5" y1="477.2" x2="191.5" y2="487.7" stroke="#000" stroke-width="3.1"/>
<text x="191.5" y="516.2" font-size="30" text-anchor="middle">0</text>
<line x1="259.5" y1="477.2" x2="259.5" y2="483.7" stroke="#000" stroke-width="3.1"/>
<line x1="327.5" y1="477.2" x2="327.5" y2="487.7" stroke="#000" stroke-width="3.1"/>
<text x="327.5" y="516.2" font-size="30" text-anchor="middle">2</text>
<line x1="395.5" y1="477.2" x2="395.5" y2="483.7" stroke="#000" stroke-width="3.1"/>
<line x1="463.5" y1="477.2" x2="463.5" y2="487.7" stroke="#000" stroke-width="3.1"/>
<text x="463.5" y="516.2" font-size="30" text-anchor="middle">4</text>
<line x1="531.5" y1="477.2" x2="531.5" y2="483.7" stroke="#000" stroke-width="3.1"/>
<line x1="599.5" y1="477.2" x2="599.5" y2="487.7" stroke="#000" stroke-width="3.1"/>
<text x="599.5" y="516.2" font-size="30" text-anchor="middle">6</text>
<line x1="667.5" y1="477.2" x2="667.5" y2="483.7" stroke="#000" stroke-width="3.1"/>
<line x1="735.5" y1="477.2" x2="735.5" y2="487.7" stroke="#000" stroke-width="3.1"/>
<text x="735.5" y="516.2" font-size="30" text-anchor="middle">8</text>
<text x="102.5" y="39" font-size="30" text-anchor="end">1</text>
<text x="102.5" y="233" font-size="30" text-anchor="end">0.1</text>
<text x="102.5" y="427" font-size="30" text-anchor="end">0.01</text>
<text x="429.3" y="557" font-size="30" text-anchor="middle" textLength="132" lengthAdjust="spacingAndGlyphs">Time (ns)</text>
<text transform="translate(29.6,232.5) rotate(-90)" font-size="30" text-anchor="middle" textLength="315" lengthAdjust="spacingAndGlyphs">Normalized PL  Counts</text>
<text x="21" y="49" font-size="61" style="font-family:'Liberation Serif',serif">a</text>
<polyline points="955,80.3 956.2,77.6 957.4,74.5 958.6,76.2 959.8,77.3 961,79.9 962.2,79.4 963.4,81.7 964.6,76.1 965.8,78.3 967,78.3 968.2,73.6 969.4,73.2 970.6,79.8 971.8,79.4 973,77.2 974.2,77.6 975.4,75.3 976.6,76.7 977.8,75.4 979,77.9 980.2,80.1 981.4,77.4 982.6,78.7 983.8,74 985,74.1 986.2,72.2 987.4,75.6 988.6,77 989.8,76.2 991,77.1 992.2,82.4 993.4,81.8 994.6,75.1 995.8,78.5 997,71.7 998.2,73 999.4,75.9 1000.6,76.4 1001.8,73 1003,73.8 1004.2,76.1 1005.4,74.2 1006.6,74.9 1007.8,79.4 1009,80.6 1010.2,77.6 1011.4,77 1012.6,76.6 1013.8,75.1 1015,77 1016.2,63.2 1017.4,52.6 1018.6,44.9 1019.8,39.6 1021,36.3 1022.2,34.4 1023.4,33.7 1024.6,33.5 1025.8,33.5 1027,33.4 1028.2,33.3 1029.4,33.3 1030.6,33.4 1031.8,33.3 1033,33 1034.2,33.3 1035.4,33.6 1036.6,33.2 1037.8,32.1 1039,31.1 1040.2,33 1041.4,32.1 1042.6,31.5 1043.8,33.5 1045,32.7 1046.2,30.1 1047.4,31.4 1048.6,32.2 1049.8,33.2 1051,30 1052.2,30.2 1053.4,32.5 1054.6,34.9 1055.8,30 1057,30 1058.2,30 1059.4,32.4 1060.6,35.9 1061.8,37.9 1063,33.9 1064.2,30.7 1065.4,34 1066.6,32.5 1067.8,31.4 1069,32.8 1070.2,35 1071.4,30 1072.6,30 1073.8,31 1075,31.2 1076.2,30 1077.4,30 1078.6,33.8 1079.8,37.2 1081,36.3 1082.2,36.4 1083.4,35.9 1084.6,30 1085.8,30 1087,30 1088.2,30 1089.4,30.8 1090.6,33.3 1091.8,31 1093,31.6 1094.2,30 1095.4,32.4 1096.6,38.8 1097.8,35.7 1099,37.4 1100.2,38.4 1101.4,36.2 1102.6,38.4 1103.8,38.6 1105,39 1106.2,35 1107.4,32.1 1108.6,33.3 1109.8,36 1111,39.2 1112.2,37.8 1113.4,37 1114.6,38.6 1115.8,41.5 1117,39.1 1118.2,42.2 1119.4,36.2 1120.6,37.3 1121.8,41.9 1123,41 1124.2,37.3 1125.4,38.2 1126.6,38.2 1127.8,42.2 1129,41.6 1130.2,38.5 1131.4,40.4 1132.6,39.2 1133.8,39.7 1135,39.9 1136.2,38.9 1137.4,41.5 1138.6,42.4 1139.8,42.8 1141,43.9 1142.2,39.4 1143.4,35.6 1144.6,38.2 1145.8,40.9 1147,41.3 1148.2,43.1 1149.4,43.5 1150.6,41 1151.8,39.7 1153,38.7 1154.2,43.1 1155.4,40.2 1156.6,36.8 1157.8,36.7 1159,40.3 1160.2,46.2 1161.4,43.5 1162.6,36.8 1163.8,40 1165,42.6 1166.2,43.9 1167.4,42.6 1168.6,40.3 1169.8,42.1 1171,38.8 1172.2,34.2 1173.4,37.7 1174.6,40.2 1175.8,45.3 1177,45.3 1178.2,40.1 1179.4,42.2 1180.6,41.8 1181.8,36.8 1183,35.4 1184.2,41.1 1185.4,42.8 1186.6,39.3 1187.8,34.5 1189,40.7 1190.2,40.9 1191.4,40.1 1192.6,41.1 1193.8,40.4 1195,44.6 1196.2,43.9 1197.4,42.6 1198.6,44.6 1199.8,43.2 1201,39.7 1202.2,42.6 1203.4,41.9 1204.6,38.7 1205.8,42 1207,45.5 1208.2,44.9 1209.4,50.7 1210.6,51.8 1211.8,46.7 1213,49.1 1214.2,52.6 1215.4,46.4 1216.6,43.4 1217.8,43.9 1219,41.6 1220.2,42.4 1221.4,46.9 1222.6,46.9 1223.8,48.9 1225,49.4 1226.2,46.3 1227.4,47.3 1228.6,47.4 1229.8,46.2 1231,46.4 1232.2,49.7 1233.4,49.8 1234.6,51.6 1235.8,54.2 1237,53.3 1238.2,47.1 1239.4,46.9 1240.6,49.4 1241.8,51.8 1243,53.3 1244.2,48.6 1245.4,49.4 1246.6,52.8 1247.8,56.6 1249,56.1 1250.2,49.5 1251.4,49.7 1252.6,49.8 1253.8,54.3 1255,53.8 1256.2,50.8 1257.4,50.2 1258.6,53.4 1259.8,55 1261,50.4 1262.2,50.9 1263.4,52.6 1264.6,52.9 1265.8,52.8 1267,49.3 1268.2,48.4 1269.4,45.7 1270.6,52.1 1271.8,54.6 1273,46.7 1274.2,50 1275.4,55.1 1276.6,51.8 1277.8,47.9 1279,54.1 1280.2,50.6 1281.4,55.9 1282.6,51.9 1283.8,50.6 1285,52.8 1286.2,53.8 1287.4,55.7 1288.6,55.4 1289.8,54.5 1291,58.2 1292.2,57.2 1293.4,55.3 1294.6,54.4 1295.8,53.6 1297,54.2 1298.2,56.4 1299.4,56.2 1300.6,55.5 1301.8,57.3 1303,54.7 1304.2,56.4 1305.4,56.8 1306.6,51.7 1307.8,54.5 1309,59.3 1310.2,54.3 1311.4,57.3 1312.6,53.3 1313.8,55.1 1315,52.1 1316.2,52.7 1317.4,53.8 1318.6,54.8 1319.8,59.6 1321,60.5 1322.2,60.1 1323.4,59.3 1324.6,63 1325.8,61.8 1327,58.1 1328.2,54.7 1329.4,59.2 1330.6,60.2 1331.8,59 1333,60.7 1334.2,60.7 1335.4,58.1 1336.6,60 1337.8,60 1339,59.3 1340.2,57.2 1341.4,56.9 1342.6,59.8 1343.8,65.3 1345,67.1 1346.2,58.7 1347.4,55 1348.6,56.4 1349.8,55.8 1351,57.5 1352.2,59.5 1353.4,57.2 1354.6,61.2 1355.8,63.7 1357,66.5 1358.2,67.4 1359.4,66.1 1360.6,67.4 1361.8,60.2 1363,60.4 1364.2,61 1365.4,62.3 1366.6,63.4 1367.8,61.2 1369,66.4 1370.2,65.9 1371.4,62.7 1372.6,61.3 1373.8,55.5 1375,51.5 1376.2,58.4 1377.4,61.6 1378.6,60.6 1379.8,56.8 1381,59.7 1382.2,66.5 1383.4,65 1384.6,63.1 1385.8,60.9 1387,64 1388.2,66.2 1389.4,64.1 1390.6,60.5 1391.8,60.9 1393,58.2 1394.2,59.9 1395.4,62.4 1396.6,59.8 1397.8,61.3 1399,65.6 1400.2,62.6 1401.4,63.5 1402.6,60.2 1403.8,57.6 1405,60.4 1406.2,58.8 1407.4,53.9 1408.6,55.9 1409.8,60.6 1411,65.7 1412.2,61.1 1413.4,61.8 1414.6,64.1 1415.8,63.1 1417,62.5 1418.2,68.3 1419.4,65.8 1420.6,56.1 1421.8,63.7 1423,65.5 1424.2,65.9 1425.4,64 1426.6,66.6 1427.8,70.7 1429,71 1430.2,70.5 1431.4,68.1 1432.6,67.2 1433.8,65.5 1435,61.7 1436.2,69.4 1437.4,65.7 1438.6,64.2 1439.8,64 1441,62.9 1442.2,56.8 1443.4,61.1 1444.6,58.5 1445.8,57.5 1447,55.1 1448.2,56.8 1449.4,63.6 1450.6,62.3 1451.8,62.7 1453,62.1 1454.2,59.2 1455.4,59.5 1456.6,58.9 1457.8,60.1 1459,56.2 1460.2,61.7 1461.4,67.8 1462.6,69.8 1463.8,69.4 1465,66.1 1466.2,62.3 1467.4,67.1 1468.6,67.3 1469.8,65 1471,61.4 1472.2,66.3 1473.4,70.5 1474.6,68.4 1475.8,65.4 1477,66.8 1478.2,65.9 1479.4,66.7 1480.6,68.7 1481.8,67.5 1483,66.5 1484.2,66.4 1485.4,62.7 1486.6,62.4 1487.8,66.3 1489,65 1490.2,66.1 1491.4,61.7 1492.6,68.8 1493.8,68.5 1495,70 1496.2,58.5 1497.4,60.4 1498.6,70.3 1499.8,68.9 1501,68.3 1502.2,68 1503.4,68.4 1504.6,68.5 1505.8,64.5 1507,67.3 1508.2,72 1509.4,69 1510.6,66.1 1511.8,68.7 1513,71.5 1514.2,68.3 1515.4,68 1516.6,70.7 1517.8,73.1 1519,74.2 1520.2,69.9 1521.4,70.9 1522.6,71.3 1523.8,63.9 1525,68.6 1526.2,71 1527.4,69 1528.6,67.3 1529.8,72.1 1531,74.5 1532.2,70.4 1533.4,68.3 1534.6,70.5 1535.8,76.5 1537,76.1 1538.2,71 1539.4,66.2 1540.6,65.6 1541.8,68.7 1543,70.2 1544.2,71.1 1545.4,67.9 1546.6,70.8 1547.8,72.1 1549,68.7 1550.2,78.9 1551.4,76.6 1552.6,73.5 1553.8,67.7 1555,69 1556.2,76.1" fill="none" stroke="#000" stroke-width="6.4" stroke-linejoin="round" stroke-linecap="round"/>
<polyline points="955,135.7 956.2,131 957.4,139.6 958.6,136.7 959.8,132.1 961,134.6 962.2,147.6 963.4,139.5 964.6,130.8 965.8,132.9 967,145.2 968.2,138 969.4,144.9 970.6,143.5 971.8,127.8 973,141.1 974.2,136.2 975.4,129.8 976.6,133.2 977.8,139.9 979,140.5 980.2,138.9 981.4,135.3 982.6,145.3 983.8,149.9 985,150.9 986.2,147.9 987.4,152.1 988.6,152.5 989.8,145.2 991,143.8 992.2,142.3 993.4,142.2 994.6,140.3 995.8,128.1 997,133.4 998.2,136.3 999.4,123.7 1000.6,128.1 1001.8,142.4 1003,132.6 1004.2,133.4 1005.4,137.8 1006.6,133.6 1007.8,130.7 1009,132.3 1010.2,133 1011.4,133.4 1012.6,139.5 1013.8,146.9 1015,137 1016.2,117.9 1017.4,102.1 1018.6,89.2 1019.8,79 1021,71.1 1022.2,65.3 1023.4,61.2 1024.6,58.5 1025.8,57 1027,56.2 1028.2,56 1029.4,55.9 1030.6,55 1031.8,53.4 1033,51.5 1034.2,49.1 1035.4,47.7 1036.6,46.5 1037.8,46.4 1039,45.8 1040.2,46.1 1041.4,45 1042.6,44.3 1043.8,44 1045,44.4 1046.2,41 1047.4,43.9 1048.6,43.3 1049.8,40.2 1051,40.1 1052.2,39.3 1053.4,40.7 1054.6,42.3 1055.8,39 1057,42.3 1058.2,44 1059.4,44.1 1060.6,45.9 1061.8,41.4 1063,44.8 1064.2,50.5 1065.4,42 1066.6,39 1067.8,40.1 1069,41.4 1070.2,37.5 1071.4,37.4 1072.6,37.4 1073.8,37.4 1075,37.4 1076.2,37.4 1077.4,37.9 1078.6,42.4 1079.8,38.2 1081,37.4 1082.2,40.7 1083.4,40.6 1084.6,37.4 1085.8,39.6 1087,37.4 1088.2,37.5 1089.4,39.4 1090.6,44.5 1091.8,40 1093,41.2 1094.2,45 1095.4,49.6 1096.6,49.1 1097.8,42.5 1099,48.9 1100.2,48.8 1101.4,51.8 1102.6,50.8 1103.8,44.9 1105,45.6 1106.2,45.9 1107.4,50.2 1108.6,55.1 1109.8,49.2 1111,48.2 1112.2,57.9 1113.4,47.5 1114.6,48.4 1115.8,48.4 1117,45.5 1118.2,53.8 1119.4,56.3 1120.6,52.1 1121.8,51.5 1123,49.3 1124.2,44.5 1125.4,50.2 1126.6,46.4 1127.8,47.8 1129,54.9 1130.2,57 1131.4,52.1 1132.6,59.9 1133.8,63.4 1135,57 1136.2,54.6 1137.4,55.2 1138.6,52.5 1139.8,51.7 1141,58.2 1142.2,59.1 1143.4,54.1 1144.6,53.1 1145.8,52.4 1147,51.8 1148.2,50.1 1149.4,50.3 1150.6,59.4 1151.8,57.2 1153,59.8 1154.2,65.7 1155.4,58.9 1156.6,59.2 1157.8,52.8 1159,55.6 1160.2,61.5 1161.4,57.6 1162.6,51.4 1163.8,51.9 1165,59 1166.2,57.4 1167.4,63 1168.6,62.6 1169.8,59.9 1171,61.5 1172.2,64.8 1173.4,61.6 1174.6,57.9 1175.8,62 1177,60.6 1178.2,61.4 1179.4,65.1 1180.6,65.8 1181.8,67.4 1183,62.6 1184.2,60.3 1185.4,61.4 1186.6,63.6 1187.8,59.7 1189,60 1190.2,58.5 1191.4,59.1 1192.6,64.9 1193.8,74.4 1195,65.5 1196.2,65.2 1197.4,65.1 1198.6,64.1 1199.8,67.1 1201,73.8 1202.2,68.2 1203.4,73.3 1204.6,69.7 1205.8,62.2 1207,62 1208.2,62.7 1209.4,62.9 1210.6,71.8 1211.8,71.5 1213,69.7 1214.2,64.8 1215.4,69.1 1216.6,69.9 1217.8,79.9 1219,72.5 1220.2,71.9 1221.4,72.3 1222.6,68.8 1223.8,68.5 1225,70.4 1226.2,74.8 1227.4,69.9 1228.6,71.7 1229.8,74.1 1231,70.5 1232.2,65.8 1233.4,66.7 1234.6,70.3 1235.8,71.2 1237,78.9 1238.2,77 1239.4,74.8 1240.6,72.3 1241.8,77.6 1243,74.9 1244.2,71.7 1245.4,76.3 1246.6,87.7 1247.8,77 1249,74.9 1250.2,83.9 1251.4,83.4 1252.6,80.2 1253.8,83.8 1255,73.6 1256.2,73.7 1257.4,73.1 1258.6,84.7 1259.8,85.2 1261,93.5 1262.2,86.6 1263.4,82.4 1264.6,74.9 1265.8,73.7 1267,78.8 1268.2,84.1 1269.4,75 1270.6,70.2 1271.8,84.4 1273,86.5 1274.2,79.6 1275.4,84.9 1276.6,90 1277.8,87.9 1279,76.8 1280.2,80.6 1281.4,80.7 1282.6,87.2 1283.8,83.6 1285,78 1286.2,83.5 1287.4,85 1288.6,75.5 1289.8,74.8 1291,78.9 1292.2,81.3 1293.4,79.1 1294.6,73 1295.8,74.7 1297,83.2 1298.2,85.8 1299.4,81.4 1300.6,87.2 1301.8,94.5 1303,86.1 1304.2,82.2 1305.4,82.2 1306.6,87.5 1307.8,87.9 1309,87.1 1310.2,85.1 1311.4,88.4 1312.6,88.8 1313.8,87.7 1315,90.3 1316.2,81.4 1317.4,88.3 1318.6,88.3 1319.8,93.4 1321,97.7 1322.2,89.7 1323.4,86.5 1324.6,88.9 1325.8,96.4 1327,97.3 1328.2,91.4 1329.4,93.6 1330.6,98.5 1331.8,91.2 1333,80.5 1334.2,81.9 1335.4,85.6 1336.6,89.3 1337.8,88.1 1339,94.5 1340.2,90.3 1341.4,95.5 1342.6,89.5 1343.8,95.5 1345,93.9 1346.2,99.4 1347.4,103.5 1348.6,102.4 1349.8,96.5 1351,86.7 1352.2,81.2 1353.4,75.2 1354.6,95.6 1355.8,100.2 1357,96.1 1358.2,90 1359.4,102.8 1360.6,92.4 1361.8,92.9 1363,83.6 1364.2,88 1365.4,98.5 1366.6,97.3 1367.8,87.7 1369,91.8 1370.2,95.5 1371.4,85.4 1372.6,92.1 1373.8,86.5 1375,93.7 1376.2,93.6 1377.4,97 1378.6,91.3 1379.8,90.3 1381,89.8 1382.2,87.7 1383.4,89.5 1384.6,87.3 1385.8,90.4 1387,96.2 1388.2,94.5 1389.4,100.1 1390.6,100.3 1391.8,98.1 1393,90.3 1394.2,97.2 1395.4,104 1396.6,103.2 1397.8,104.7 1399,102.9 1400.2,90.4 1401.4,97.5 1402.6,99.3 1403.8,94.2 1405,89.5 1406.2,95.5 1407.4,98.7 1408.6,108.8 1409.8,106.2 1411,95.8 1412.2,90.7 1413.4,92.3 1414.6,96.1 1415.8,97.4 1417,106.9 1418.2,95.5 1419.4,97.7 1420.6,101 1421.8,101.3 1423,95.8 1424.2,98.5 1425.4,102.1 1426.6,102.4 1427.8,98.4 1429,99.6 1430.2,105.3 1431.4,111.1 1432.6,99.5 1433.8,106.9 1435,110.4 1436.2,99.7 1437.4,111 1438.6,113 1439.8,107.2 1441,111.1 1442.2,113.1 1443.4,105.7 1444.6,104 1445.8,98.2 1447,99.7 1448.2,104.2 1449.4,106.8 1450.6,113.4 1451.8,104.7 1453,99.8 1454.2,110 1455.4,112.4 1456.6,109 1457.8,104.7 1459,100.8 1460.2,103.7 1461.4,114.7 1462.6,112.8 1463.8,108.7 1465,108.6 1466.2,104.2 1467.4,100.7 1468.6,103.1 1469.8,103.9 1471,96.2 1472.2,94.8 1473.4,95.3 1474.6,103.3 1475.8,108.2 1477,99.4 1478.2,97.2 1479.4,96.5 1480.6,101.2 1481.8,99.1 1483,99 1484.2,103.3 1485.4,118.4 1486.6,109.5 1487.8,103.6 1489,105.8 1490.2,113.5 1491.4,115 1492.6,108.4 1493.8,99.4 1495,112.7 1496.2,116.9 1497.4,115.1 1498.6,112.7 1499.8,111.7 1501,115.4 1502.2,110.7 1503.4,114.1 1504.6,107.8 1505.8,106.3 1507,106.1 1508.2,105.6 1509.4,107.7 1510.6,115.8 1511.8,119 1513,107.3 1514.2,105.6 1515.4,115.7 1516.6,111.1 1517.8,112.2 1519,113.6 1520.2,115.2 1521.4,109.3 1522.6,117.7 1523.8,114.6 1525,100.5 1526.2,107.4 1527.4,110.2 1528.6,113.6 1529.8,111.4 1531,107.6 1532.2,110 1533.4,114.1 1534.6,113.3 1535.8,115.2 1537,125.9 1538.2,117.6 1539.4,108 1540.6,113 1541.8,114.2 1543,108.8 1544.2,111.9 1545.4,106.4 1546.6,101 1547.8,114 1549,119.3 1550.2,118.7 1551.4,113.9 1552.6,111.7 1553.8,116.1 1555,119.1 1556.2,122.9" fill="none" stroke="#f00" stroke-width="6.4" stroke-linejoin="round" stroke-linecap="round"/>
<polyline points="955,225.5 956.2,224.3 957.4,223.8 958.6,225.1 959.8,220.8 961,227.2 962.2,232.3 963.4,224.9 964.6,229.2 965.8,239.1 967,223.7 968.2,217.7 969.4,225.2 970.6,237.4 971.8,237.3 973,224.3 974.2,228.3 975.4,227 976.6,221.9 977.8,218.3 979,228.5 980.2,224.5 981.4,227.5 982.6,229.9 983.8,237.3 985,233.4 986.2,222.6 987.4,225.6 988.6,230 989.8,221.5 991,223.9 992.2,225.7 993.4,218.2 994.6,217.3 995.8,217.8 997,225.7 998.2,225.8 999.4,230.9 1000.6,229.3 1001.8,229.7 1003,228.2 1004.2,230.3 1005.4,226.2 1006.6,223.6 1007.8,232.6 1009,235.7 1010.2,238.7 1011.4,228.3 1012.6,227 1013.8,198.3 1015,155.8 1016.2,123.1 1017.4,97 1018.6,76.9 1019.8,61.8 1021,51.1 1022.2,44.1 1023.4,39.9 1024.6,37.8 1025.8,37.1 1027,37 1028.2,36.8 1029.4,36.5 1030.6,36.2 1031.8,35.9 1033,35.4 1034.2,35.3 1035.4,35 1036.6,34.7 1037.8,33.6 1039,33.5 1040.2,32.8 1041.4,31.3 1042.6,31.4 1043.8,31 1045,30.2 1046.2,29.8 1047.4,29.2 1048.6,30.1 1049.8,31 1051,29.7 1052.2,29.2 1053.4,32.2 1054.6,31.5 1055.8,31.7 1057,31.7 1058.2,31.9 1059.4,33.7 1060.6,32.9 1061.8,33.2 1063,31.1 1064.2,31.2 1065.4,35.1 1066.6,39.7 1067.8,39 1069,41.4 1070.2,40 1071.4,39.4 1072.6,38.2 1073.8,40.2 1075,44.3 1076.2,43.8 1077.4,40.8 1078.6,41.8 1079.8,45.3 1081,44.1 1082.2,46 1083.4,44.7 1084.6,48.2 1085.8,51.3 1087,51 1088.2,50.4 1089.4,50.7 1090.6,51.2 1091.8,52.7 1093,56.1 1094.2,57.2 1095.4,55.7 1096.6,53.2 1097.8,55.1 1099,57.9 1100.2,57.9 1101.4,56.7 1102.6,62.1 1103.8,66 1105,60.6 1106.2,62.9 1107.4,66.7 1108.6,64.1 1109.8,64.2 1111,66.4 1112.2,67.9 1113.4,67.6 1114.6,69.4 1115.8,66.1 1117,70.8 1118.2,72.1 1119.4,71.9 1120.6,73.4 1121.8,74.4 1123,76.8 1124.2,74.6 1125.4,74.6 1126.6,72.8 1127.8,73.9 1129,76 1130.2,74.8 1131.4,76.1 1132.6,76.6 1133.8,79.3 1135,82.4 1136.2,83.7 1137.4,79.3 1138.6,83 1139.8,87.4 1141,89.9 1142.2,89.3 1143.4,83.9 1144.6,85.7 1145.8,89.5 1147,91.2 1148.2,90.4 1149.4,90.5 1150.6,90.4 1151.8,89.1 1153,91.5 1154.2,93.4 1155.4,92.4 1156.6,93.4 1157.8,86.7 1159,92 1160.2,98.2 1161.4,98.3 1162.6,98.8 1163.8,95.7 1165,92.6 1166.2,95.1 1167.4,98.8 1168.6,93 1169.8,93.1 1171,93 1172.2,96 1173.4,98.1 1174.6,100.2 1175.8,99.5 1177,104.8 1178.2,103.6 1179.4,100.4 1180.6,98.7 1181.8,98.7 1183,104.1 1184.2,108.9 1185.4,104.8 1186.6,102.5 1187.8,104.6 1189,104.4 1190.2,103.1 1191.4,102 1192.6,107.5 1193.8,112.9 1195,113.6 1196.2,112.9 1197.4,111.4 1198.6,112.4 1199.8,113.8 1201,112.1 1202.2,112.3 1203.4,112.2 1204.6,114.8 1205.8,112 1207,115.3 1208.2,117.2 1209.4,117.6 1210.6,117 1211.8,114.2 1213,113.7 1214.2,114.4 1215.4,114.5 1216.6,113.4 1217.8,115 1219,115.1 1220.2,115.4 1221.4,118.3 1222.6,117.3 1223.8,120.4 1225,124.8 1226.2,125.4 1227.4,122.2 1228.6,123.6 1229.8,124.1 1231,129.1 1232.2,128.6 1233.4,126.2 1234.6,122.8 1235.8,122.6 1237,124.7 1238.2,123.9 1239.4,124 1240.6,125.4 1241.8,120.7 1243,118.4 1244.2,120.8 1245.4,122.2 1246.6,124.9 1247.8,124.4 1249,124.8 1250.2,123.1 1251.4,131.1 1252.6,130.1 1253.8,127.1 1255,130.5 1256.2,134 1257.4,133.4 1258.6,131.5 1259.8,133.4 1261,133.6 1262.2,128.3 1263.4,127.2 1264.6,130.9 1265.8,136.7 1267,138.7 1268.2,136.7 1269.4,139.7 1270.6,139 1271.8,135.6 1273,133.4 1274.2,134.2 1275.4,137.7 1276.6,142 1277.8,140.2 1279,134.2 1280.2,134.8 1281.4,140.7 1282.6,140 1283.8,137.8 1285,142.6 1286.2,145.7 1287.4,144.5 1288.6,143.4 1289.8,145.6 1291,141.8 1292.2,140 1293.4,141.4 1294.6,149.9 1295.8,151.4 1297,146.1 1298.2,146.6 1299.4,147.3 1300.6,149.2 1301.8,150.3 1303,148.7 1304.2,146.1 1305.4,144.2 1306.6,141.6 1307.8,138.7 1309,144.7 1310.2,145.4 1311.4,147.6 1312.6,147.5 1313.8,145.3 1315,147.2 1316.2,150.4 1317.4,149.9 1318.6,147 1319.8,147.8 1321,151.9 1322.2,152.3 1323.4,152.2 1324.6,151.8 1325.8,154 1327,154.8 1328.2,159.7 1329.4,152.6 1330.6,151.7 1331.8,157.6 1333,153.9 1334.2,151.7 1335.4,153 1336.6,148 1337.8,154.2 1339,155.5 1340.2,155.4 1341.4,154.2 1342.6,159.4 1343.8,157.9 1345,156.7 1346.2,157 1347.4,154.4 1348.6,154.9 1349.8,151.8 1351,153.3 1352.2,158 1353.4,159.3 1354.6,160.3 1355.8,157.1 1357,157.5 1358.2,157.2 1359.4,160.3 1360.6,163.1 1361.8,164.3 1363,162.1 1364.2,158.6 1365.4,159.9 1366.6,156.4 1367.8,154.5 1369,160.5 1370.2,162.6 1371.4,164.9 1372.6,164.4 1373.8,158.5 1375,158.9 1376.2,162.2 1377.4,163.7 1378.6,163.8 1379.8,159.7 1381,162.7 1382.2,167.6 1383.4,170 1384.6,163.6 1385.8,169 1387,164.6 1388.2,161.9 1389.4,168.2 1390.6,162.9 1391.8,162.5 1393,169 1394.2,171 1395.4,167.8 1396.6,164.2 1397.8,162.7 1399,165.5 1400.2,159.9 1401.4,163.1 1402.6,171.8 1403.8,173.2 1405,174.4 1406.2,171.3 1407.4,167.2 1408.6,169.6 1409.8,165.8 1411,172.8 1412.2,175.4 1413.4,170.1 1414.6,174.3 1415.8,172.8 1417,170.1 1418.2,165.8 1419.4,171.3 1420.6,174.3 1421.8,167.9 1423,169.9 1424.2,169.6 1425.4,168.9 1426.6,176.3 1427.8,175.4 1429,175.6 1430.2,177.5 1431.4,176.1 1432.6,185.1 1433.8,175.8 1435,172.1 1436.2,177.5 1437.4,177.3 1438.6,172.9 1439.8,173.7 1441,179.3 1442.2,179.3 1443.4,179.8 1444.6,180.5 1445.8,177.7 1447,181.9 1448.2,180.2 1449.4,180.3 1450.6,177 1451.8,181.1 1453,182.9 1454.2,187.9 1455.4,182.5 1456.6,185.5 1457.8,184.9 1459,186.3 1460.2,183.1 1461.4,180.7 1462.6,172.8 1463.8,175.9 1465,184.1 1466.2,184.5 1467.4,184.5 1468.6,182.4 1469.8,184.3 1471,181.7 1472.2,183.1 1473.4,187.7 1474.6,187.3 1475.8,182.6 1477,183.4 1478.2,184.3 1479.4,183.5 1480.6,182.8 1481.8,181.5 1483,184.8 1484.2,180.9 1485.4,181.9 1486.6,190.4 1487.8,194.4 1489,194 1490.2,188.4 1491.4,185.4 1492.6,190 1493.8,192.9 1495,188.5 1496.2,184.6 1497.4,180.1 1498.6,182.1 1499.8,191.3 1501,184.2 1502.2,184.7 1503.4,187.4 1504.6,188.5 1505.8,185.4 1507,190.8 1508.2,192.2 1509.4,190 1510.6,187.6 1511.8,186.6 1513,183.8 1514.2,190.5 1515.4,188.1 1516.6,185.4 1517.8,189.9 1519,192.9 1520.2,193.3 1521.4,194.7 1522.6,195.4 1523.8,190.7 1525,191.9 1526.2,191.3 1527.4,187.7 1528.6,194 1529.8,191.9 1531,192.8 1532.2,192.6 1533.4,190.3 1534.6,195.3 1535.8,196.7 1537,191.4 1538.2,183.8 1539.4,194.9 1540.6,193.1 1541.8,190.2 1543,189.7 1544.2,188.8 1545.4,191.9 1546.6,194.8 1547.8,190.9 1549,193.6 1550.2,192.5 1551.4,193.1 1552.6,193.9 1553.8,197.1 1555,199.6 1556.2,197.7" fill="none" stroke="#00f" stroke-width="6.4" stroke-linejoin="round" stroke-linecap="round"/>
<polyline points="955,275.2 956.2,277.6 957.4,274.5 958.6,280.4 959.8,280.9 961,281.9 962.2,275.9 963.4,271 964.6,272.9 965.8,278.1 967,284.2 968.2,282.3 969.4,281.9 970.6,276.5 971.8,276 973,277.9 974.2,281.1 975.4,277.4 976.6,278.3 977.8,282.2 979,277.1 980.2,276.7 981.4,274.4 982.6,277.4 983.8,281.4 985,281.4 986.2,273.5 987.4,270.7 988.6,279.3 989.8,283 991,277.8 992.2,278.7 993.4,277.1 994.6,270.4 995.8,269.3 997,276.7 998.2,278.7 999.4,274.2 1000.6,275.8 1001.8,275.2 1003,274.2 1004.2,274.9 1005.4,280.8 1006.6,279.1 1007.8,277.4 1009,277.1 1010.2,278.8 1011.4,277.3 1012.6,257.5 1013.8,201.4 1015,160.6 1016.2,127.2 1017.4,100.7 1018.6,80 1019.8,64.7 1021,53.8 1022.2,46.6 1023.4,42.3 1024.6,40.2 1025.8,39.5 1027,39.4 1028.2,39 1029.4,38.4 1030.6,37.7 1031.8,36.8 1033,35.8 1034.2,34.9 1035.4,33.9 1036.6,33 1037.8,31.9 1039,31.4 1040.2,30.9 1041.4,30.6 1042.6,30.9 1043.8,30.3 1045,30.9 1046.2,31.3 1047.4,31.7 1048.6,31.6 1049.8,32.9 1051,32.6 1052.2,33 1053.4,33.5 1054.6,34.7 1055.8,36.9 1057,39 1058.2,35.6 1059.4,38.7 1060.6,40.7 1061.8,41.9 1063,41.8 1064.2,43.4 1065.4,46.1 1066.6,46.1 1067.8,47.3 1069,48.9 1070.2,51.5 1071.4,54 1072.6,53.1 1073.8,54.9 1075,53.2 1076.2,56.4 1077.4,57.8 1078.6,60.5 1079.8,61.4 1081,62.2 1082.2,62.7 1083.4,62.5 1084.6,61 1085.8,63.6 1087,63.9 1088.2,66.8 1089.4,66.4 1090.6,67.5 1091.8,68.1 1093,69.6 1094.2,71 1095.4,71.9 1096.6,71.5 1097.8,74.8 1099,73.5 1100.2,74 1101.4,73 1102.6,77.5 1103.8,80.7 1105,82.1 1106.2,82.4 1107.4,82.8 1108.6,82.4 1109.8,83.6 1111,85.2 1112.2,86.4 1113.4,86.2 1114.6,88.2 1115.8,90.7 1117,91.4 1118.2,91.7 1119.4,92 1120.6,94.3 1121.8,96 1123,98.3 1124.2,97.9 1125.4,98.9 1126.6,97.8 1127.8,101.3 1129,99.1 1130.2,100.6 1131.4,101.4 1132.6,101.9 1133.8,103 1135,103.8 1136.2,105.6 1137.4,107.3 1138.6,109.5 1139.8,111 1141,112.2 1142.2,110.7 1143.4,110.2 1144.6,114.7 1145.8,112.7 1147,109.2 1148.2,113.6 1149.4,114.1 1150.6,113.6 1151.8,114.6 1153,116.1 1154.2,116.1 1155.4,118.1 1156.6,118.6 1157.8,119.4 1159,121.1 1160.2,122.4 1161.4,124.7 1162.6,123.5 1163.8,121.8 1165,124.2 1166.2,128.1 1167.4,128.4 1168.6,125.5 1169.8,127.1 1171,126.5 1172.2,126.4 1173.4,124.8 1174.6,125.2 1175.8,128.2 1177,130.3 1178.2,130.9 1179.4,129.4 1180.6,130.6 1181.8,131.8 1183,130.8 1184.2,127.4 1185.4,130.2 1186.6,133.6 1187.8,134.7 1189,133.6 1190.2,135.1 1191.4,131.3 1192.6,136.5 1193.8,135.7 1195,136.2 1196.2,135.2 1197.4,135.2 1198.6,137.3 1199.8,138.4 1201,137.8 1202.2,140.7 1203.4,140.2 1204.6,140.7 1205.8,140.1 1207,140.7 1208.2,141.8 1209.4,141.2 1210.6,143.9 1211.8,142.7 1213,144.7 1214.2,143.7 1215.4,145 1216.6,146 1217.8,150.1 1219,151.5 1220.2,148.8 1221.4,150 1222.6,150.8 1223.8,152.4 1225,154.2 1226.2,155.6 1227.4,152.5 1228.6,150 1229.8,153.9 1231,153.7 1232.2,154.9 1233.4,158.4 1234.6,159.6 1235.8,158.2 1237,160 1238.2,159.8 1239.4,160.3 1240.6,160 1241.8,162.1 1243,160 1244.2,161.4 1245.4,163.1 1246.6,161.1 1247.8,163.4 1249,165 1250.2,166.9 1251.4,167.6 1252.6,162.7 1253.8,167.2 1255,168.6 1256.2,170.4 1257.4,169.9 1258.6,167.8 1259.8,167.8 1261,168.8 1262.2,172.8 1263.4,171.4 1264.6,172.8 1265.8,171.9 1267,169.5 1268.2,172.8 1269.4,175.5 1270.6,178.7 1271.8,176.3 1273,174.5 1274.2,176.5 1275.4,180.1 1276.6,180.9 1277.8,181.3 1279,181.3 1280.2,179.7 1281.4,182.7 1282.6,181.6 1283.8,177.4 1285,180.5 1286.2,184.7 1287.4,182.2 1288.6,182.2 1289.8,183.5 1291,184.2 1292.2,184.5 1293.4,185.2 1294.6,182.7 1295.8,181.5 1297,184.4 1298.2,185.9 1299.4,188.9 1300.6,191.3 1301.8,188.9 1303,189.6 1304.2,191.3 1305.4,190 1306.6,188.6 1307.8,185.6 1309,185.9 1310.2,185.8 1311.4,187.4 1312.6,190.6 1313.8,190.4 1315,187.9 1316.2,184.5 1317.4,189.4 1318.6,190.1 1319.8,187.2 1321,189 1322.2,189.6 1323.4,190.1 1324.6,185.4 1325.8,187.3 1327,192.3 1328.2,188.9 1329.4,188.6 1330.6,190.1 1331.8,192.7 1333,194.9 1334.2,193.3 1335.4,194.8 1336.6,194 1337.8,193.1 1339,197.4 1340.2,196.9 1341.4,193.9 1342.6,193.4 1343.8,191.6 1345,190.7 1346.2,195 1347.4,196.7 1348.6,190.1 1349.8,194.9 1351,202.3 1352.2,201.8 1353.4,196.5 1354.6,197.2 1355.8,201 1357,197.6 1358.2,198.5 1359.4,198.4 1360.6,201.1 1361.8,202.6 1363,204.9 1364.2,199.4 1365.4,197.5 1366.6,200.8 1367.8,203 1369,204 1370.2,208.8 1371.4,204 1372.6,204 1373.8,207.6 1375,209.6 1376.2,207.2 1377.4,206.7 1378.6,202.9 1379.8,203.5 1381,207.3 1382.2,209.4 1383.4,209.5 1384.6,209.8 1385.8,210.3 1387,208.6 1388.2,207.8 1389.4,207.5 1390.6,205.8 1391.8,206.9 1393,208.2 1394.2,212.9 1395.4,217.5 1396.6,215.6 1397.8,216.2 1399,210.7 1400.2,210.6 1401.4,212.6 1402.6,216.8 1403.8,219.4 1405,217.3 1406.2,215.7 1407.4,214.7 1408.6,213.6 1409.8,216 1411,216.6 1412.2,215.4 1413.4,213.9 1414.6,215.9 1415.8,215.7 1417,215.4 1418.2,219.3 1419.4,218.1 1420.6,218.3 1421.8,215.1 1423,215.9 1424.2,215.7 1425.4,215.6 1426.6,218.4 1427.8,217.9 1429,216 1430.2,217.4 1431.4,219.7 1432.6,221.3 1433.8,223.7 1435,216.8 1436.2,222.3 1437.4,224 1438.6,222.8 1439.8,220 1441,218.7 1442.2,217.4 1443.4,222.3 1444.6,221.4 1445.8,222.4 1447,226.6 1448.2,222.3 1449.4,223.6 1450.6,225.7 1451.8,224.8 1453,225.8 1454.2,226 1455.4,225.3 1456.6,221.9 1457.8,222.6 1459,228.3 1460.2,228.1 1461.4,225.9 1462.6,225.8 1463.8,229.9 1465,226.6 1466.2,225.4 1467.4,229 1468.6,225.6 1469.8,226.6 1471,227.6 1472.2,225.9 1473.4,228.9 1474.6,230.2 1475.8,230.5 1477,230.2 1478.2,233.4 1479.4,230.4 1480.6,229.1 1481.8,230.5 1483,227.9 1484.2,224.9 1485.4,231.2 1486.6,226.1 1487.8,225.3 1489,230.6 1490.2,230.7 1491.4,234.7 1492.6,235.9 1493.8,235.3 1495,232.6 1496.2,232.3 1497.4,230.1 1498.6,233.7 1499.8,233.1 1501,232.7 1502.2,233.5 1503.4,233.9 1504.6,235.1 1505.8,236 1507,233.9 1508.2,231.9 1509.4,231.5 1510.6,237.9 1511.8,236.2 1513,232.9 1514.2,230.8 1515.4,234.4 1516.6,232.2 1517.8,234.7 1519,235.1 1520.2,237.7 1521.4,234.4 1522.6,231.2 1523.8,229.4 1525,234.3 1526.2,240.2 1527.4,237.8 1528.6,236.4 1529.8,239 1531,236.6 1532.2,238.4 1533.4,233.8 1534.6,234.1 1535.8,238.2 1537,235.5 1538.2,239.9 1539.4,240 1540.6,242.8 1541.8,238.1 1543,238.7 1544.2,242.5 1545.4,238.7 1546.6,238.9 1547.8,237.9 1549,241.7 1550.2,240 1551.4,237.5 1552.6,239.2 1553.8,238.6 1555,241.4 1556.2,240.1" fill="none" stroke="#f0f" stroke-width="6.4" stroke-linejoin="round" stroke-linecap="round"/>
<polyline points="955,431.9 956.2,432.4 957.4,431.7 958.6,435.4 959.8,433.5 961,430.5 962.2,422.7 963.4,423.8 964.6,428.5 965.8,432.4 967,430.9 968.2,438.4 969.4,435 970.6,433.9 971.8,433.8 973,435.7 974.2,436.4 975.4,432.8 976.6,437.7 977.8,431.4 979,433.7 980.2,432 981.4,432.3 982.6,435.4 983.8,435.8 985,439 986.2,432.6 987.4,434.8 988.6,437.8 989.8,443.8 991,442.3 992.2,439 993.4,441.2 994.6,437 995.8,430.4 997,434.4 998.2,437.5 999.4,433.2 1000.6,438.8 1001.8,435 1003,430.7 1004.2,432.1 1005.4,425.6 1006.6,426.8 1007.8,427.9 1009,432.4 1010.2,427 1011.4,425.1 1012.6,431.6 1013.8,396.9 1015,265.8 1016.2,176.8 1017.4,113.5 1018.6,71.7 1019.8,47 1021,34.7 1022.2,30.5 1023.4,30.1 1024.6,30.4 1025.8,31 1027,31.8 1028.2,32.6 1029.4,33.6 1030.6,34.7 1031.8,36 1033,37.4 1034.2,38.5 1035.4,40.2 1036.6,42.1 1037.8,43.3 1039,44.8 1040.2,46.6 1041.4,48.2 1042.6,49.8 1043.8,51.2 1045,53.2 1046.2,55 1047.4,57.4 1048.6,58.5 1049.8,60.4 1051,62.3 1052.2,64.8 1053.4,66.4 1054.6,68.4 1055.8,69.6 1057,71.4 1058.2,73.1 1059.4,75.5 1060.6,77.3 1061.8,78.6 1063,80.5 1064.2,83.4 1065.4,85.2 1066.6,86.6 1067.8,88.3 1069,90.2 1070.2,92.9 1071.4,94.5 1072.6,96.3 1073.8,98.2 1075,100.3 1076.2,102.4 1077.4,104.3 1078.6,105.1 1079.8,107.7 1081,109.3 1082.2,112 1083.4,114.7 1084.6,114.6 1085.8,116.5 1087,118.8 1088.2,120.4 1089.4,125.2 1090.6,126.1 1091.8,128.9 1093,130.1 1094.2,132.7 1095.4,134.4 1096.6,135.4 1097.8,137.5 1099,138.7 1100.2,140.9 1101.4,144.1 1102.6,144.3 1103.8,146.5 1105,150.9 1106.2,151 1107.4,153.2 1108.6,156.1 1109.8,156.3 1111,158.2 1112.2,162 1113.4,162.8 1114.6,164.5 1115.8,166.1 1117,168.2 1118.2,168.7 1119.4,172 1120.6,175.2 1121.8,176.8 1123,177.4 1124.2,180.3 1125.4,183.4 1126.6,183.6 1127.8,185.1 1129,185.5 1130.2,186 1131.4,189.5 1132.6,190 1133.8,191.6 1135,194 1136.2,195.7 1137.4,197.4 1138.6,200 1139.8,200.7 1141,201.4 1142.2,202.1 1143.4,204.8 1144.6,203.9 1145.8,203.9 1147,207.1 1148.2,210.4 1149.4,211.9 1150.6,213.9 1151.8,214.3 1153,215.2 1154.2,216 1155.4,216 1156.6,217.1 1157.8,218.6 1159,220.2 1160.2,220.4 1161.4,222.1 1162.6,224.3 1163.8,225.3 1165,226.1 1166.2,227.1 1167.4,226.9 1168.6,227.8 1169.8,230.1 1171,233.6 1172.2,234.8 1173.4,235.2 1174.6,236.5 1175.8,236.8 1177,234.3 1178.2,237 1179.4,240.6 1180.6,242.7 1181.8,242.3 1183,244.6 1184.2,245 1185.4,244 1186.6,243 1187.8,243.9 1189,246.2 1190.2,247.7 1191.4,248.5 1192.6,250.3 1193.8,251.2 1195,251.4 1196.2,252.6 1197.4,252.6 1198.6,250.6 1199.8,252 1201,255.4 1202.2,257.1 1203.4,257 1204.6,257.1 1205.8,258.5 1207,259.6 1208.2,259.2 1209.4,257.6 1210.6,260.9 1211.8,262.8 1213,263.5 1214.2,265.7 1215.4,261.7 1216.6,262.4 1217.8,268.8 1219,264.5 1220.2,262.1 1221.4,265.5 1222.6,268.4 1223.8,267.4 1225,268.4 1226.2,271.4 1227.4,273.9 1228.6,273.1 1229.8,272.4 1231,272.3 1232.2,275.3 1233.4,278 1234.6,273.6 1235.8,273.1 1237,275.3 1238.2,277.9 1239.4,278.6 1240.6,277.9 1241.8,278.5 1243,281.6 1244.2,282 1245.4,283.1 1246.6,282.2 1247.8,283.7 1249,283 1250.2,286.5 1251.4,284.5 1252.6,284.6 1253.8,286.3 1255,286.2 1256.2,286.4 1257.4,288.2 1258.6,288.6 1259.8,291.9 1261,290.1 1262.2,291.6 1263.4,289.9 1264.6,288.1 1265.8,288.4 1267,292.2 1268.2,292.1 1269.4,294.4 1270.6,294.5 1271.8,296.1 1273,298 1274.2,301 1275.4,298.7 1276.6,296.2 1277.8,296.2 1279,301.7 1280.2,303 1281.4,304.4 1282.6,301.2 1283.8,302.8 1285,303.6 1286.2,306 1287.4,306.7 1288.6,309.3 1289.8,307.7 1291,307.9 1292.2,308.4 1293.4,311.2 1294.6,313.3 1295.8,312.8 1297,311.1 1298.2,310.5 1299.4,311.8 1300.6,314.2 1301.8,314.3 1303,315.8 1304.2,318.7 1305.4,318.6 1306.6,318.2 1307.8,317.6 1309,318.4 1310.2,319.1 1311.4,320.2 1312.6,320.7 1313.8,321.5 1315,321.7 1316.2,325 1317.4,324.8 1318.6,325.1 1319.8,325.8 1321,323 1322.2,322.3 1323.4,322.6 1324.6,325 1325.8,328.2 1327,329.3 1328.2,330.9 1329.4,327.3 1330.6,329.2 1331.8,327.3 1333,327 1334.2,328.8 1335.4,333.5 1336.6,333.6 1337.8,335.3 1339,334.4 1340.2,335.5 1341.4,336.2 1342.6,336.3 1343.8,336.4 1345,337.9 1346.2,337.3 1347.4,337.1 1348.6,337.2 1349.8,336 1351,334.7 1352.2,337.5 1353.4,342.5 1354.6,340.5 1355.8,338.2 1357,340.2 1358.2,344 1359.4,344.9 1360.6,338.6 1361.8,337.4 1363,337.7 1364.2,340.8 1365.4,342.4 1366.6,346.6 1367.8,346.5 1369,345.7 1370.2,349.8 1371.4,346.3 1372.6,347.4 1373.8,348.3 1375,345.9 1376.2,347.8 1377.4,348.9 1378.6,348.9 1379.8,350.5 1381,349.3 1382.2,349 1383.4,351.6 1384.6,350.5 1385.8,351.7 1387,351.2 1388.2,353.1 1389.4,352.4 1390.6,350.6 1391.8,353.3 1393,353.9 1394.2,357.2 1395.4,354.7 1396.6,355.1 1397.8,350.7 1399,352.4 1400.2,352 1401.4,355.1 1402.6,355.8 1403.8,360 1405,360.6 1406.2,361 1407.4,356 1408.6,353.5 1409.8,358.6 1411,362.7 1412.2,362.3 1413.4,364.4 1414.6,360.8 1415.8,359.8 1417,362.8 1418.2,364.3 1419.4,361.6 1420.6,360.6 1421.8,362.2 1423,366.1 1424.2,360.9 1425.4,365.5 1426.6,365.7 1427.8,368.6 1429,367.2 1430.2,363.6 1431.4,365.5 1432.6,365 1433.8,364.4 1435,364.3 1436.2,368.4 1437.4,364.3 1438.6,368.7 1439.8,373.4 1441,371.9 1442.2,373.5 1443.4,373.1 1444.6,372.8 1445.8,369.1 1447,370.7 1448.2,372.2 1449.4,371.5 1450.6,369 1451.8,369.1 1453,371.9 1454.2,373.7 1455.4,372.8 1456.6,369.4 1457.8,371.1 1459,372.5 1460.2,374.3 1461.4,372.8 1462.6,373.9 1463.8,372.2 1465,374.2 1466.2,377.6 1467.4,377.7 1468.6,374.1 1469.8,375.9 1471,376.6 1472.2,381.5 1473.4,379.8 1474.6,379.5 1475.8,381.1 1477,372.5 1478.2,375.7 1479.4,380.2 1480.6,380.1 1481.8,380.5 1483,378.9 1484.2,379.8 1485.4,382 1486.6,385.3 1487.8,386.6 1489,380.7 1490.2,381.4 1491.4,377.4 1492.6,380.5 1493.8,382.9 1495,381.6 1496.2,383.5 1497.4,384.5 1498.6,388.1 1499.8,385.2 1501,382.2 1502.2,380.4 1503.4,383.6 1504.6,388.2 1505.8,391.7 1507,387.5 1508.2,385.6 1509.4,386.2 1510.6,388.1 1511.8,390.1 1513,390.2 1514.2,388.6 1515.4,388.6 1516.6,388.3 1517.8,389.9 1519,386.1 1520.2,390 1521.4,389.5 1522.6,389.2 1523.8,389.7 1525,388.9 1526.2,387.6 1527.4,389.4 1528.6,390.5 1529.8,391.6 1531,392.6 1532.2,389.4 1533.4,386.1 1534.6,389.9 1535.8,392 1537,391.3 1538.2,387.9 1539.4,393.9 1540.6,396.6 1541.8,394 1543,395.7 1544.2,397.2 1545.4,396.5 1546.6,391.4 1547.8,394.5 1549,392.5 1550.2,390.2 1551.4,393.4 1552.6,394.4 1553.8,397.2 1555,396.6 1556.2,393.5" fill="none" stroke="#060" stroke-width="6.4" stroke-linejoin="round" stroke-linecap="round"/>
<line x1="1022.3" y1="298.8" x2="1080.8" y2="298.8" stroke="#000" stroke-width="6.5" stroke-linecap="round"/>
<text x="1087.5" y="307.9" font-size="25" textLength="133" lengthAdjust="spacingAndGlyphs">0.12 μJ/cm</text>
<text x="1221.5" y="291.8" font-size="17">2</text>
<line x1="1022.3" y1="337.9" x2="1080.8" y2="337.9" stroke="#f00" stroke-width="6.5" stroke-linecap="round"/>
<text x="1087.5" y="347.1" font-size="25" textLength="133" lengthAdjust="spacingAndGlyphs">0.40 μJ/cm</text>
<text x="1221.5" y="330.9" font-size="17">2</text>
<line x1="1022.3" y1="377.1" x2="1080.8" y2="377.1" stroke="#00f" stroke-width="6.5" stroke-linecap="round"/>
<text x="1087.5" y="386.3" font-size="25" textLength="133" lengthAdjust="spacingAndGlyphs">1.20 μJ/cm</text>
<text x="1221.5" y="370.1" font-size="17">2</text>
<line x1="1022.3" y1="416.4" x2="1080.8" y2="416.4" stroke="#f0f" stroke-width="6.5" stroke-linecap="round"/>
<text x="1087.5" y="425.6" font-size="25" textLength="133" lengthAdjust="spacingAndGlyphs">2.00 μJ/cm</text>
<text x="1221.5" y="409.4" font-size="17">2</text>
<line x1="1022.3" y1="455.6" x2="1080.8" y2="455.6" stroke="#060" stroke-width="6.5" stroke-linecap="round"/>
<text x="1087.5" y="464.8" font-size="25" textLength="119" lengthAdjust="spacingAndGlyphs">100 μJ/cm</text>
<text x="1207.5" y="448.6" font-size="17">2</text>
<rect x="953" y="19" width="605.4" height="451" fill="none" stroke="#000" stroke-width="3.9"/>
<line x1="946.5" y1="469.5" x2="953" y2="469.5" stroke="#000" stroke-width="3.1"/>
<line x1="946.5" y1="433.5" x2="953" y2="433.5" stroke="#000" stroke-width="3.1"/>
<line x1="946.5" y1="405.5" x2="953" y2="405.5" stroke="#000" stroke-width="3.1"/>
<line x1="946.5" y1="382.7" x2="953" y2="382.7" stroke="#000" stroke-width="3.1"/>
<line x1="946.5" y1="363.4" x2="953" y2="363.4" stroke="#000" stroke-width="3.1"/>
<line x1="946.5" y1="346.7" x2="953" y2="346.7" stroke="#000" stroke-width="3.1"/>
<line x1="946.5" y1="331.9" x2="953" y2="331.9" stroke="#000" stroke-width="3.1"/>
<line x1="941.5" y1="318.8" x2="953" y2="318.8" stroke="#000" stroke-width="3.1"/>
<line x1="946.5" y1="232" x2="953" y2="232" stroke="#000" stroke-width="3.1"/>
<line x1="946.5" y1="181.2" x2="953" y2="181.2" stroke="#000" stroke-width="3.1"/>
<line x1="946.5" y1="145.2" x2="953" y2="145.2" stroke="#000" stroke-width="3.1"/>
<line x1="946.5" y1="117.3" x2="953" y2="117.3" stroke="#000" stroke-width="3.1"/>
<line x1="946.5" y1="94.4" x2="953" y2="94.4" stroke="#000" stroke-width="3.1"/>
<line x1="946.5" y1="75.2" x2="953" y2="75.2" stroke="#000" stroke-width="3.1"/>
<line x1="946.5" y1="58.4" x2="953" y2="58.4" stroke="#000" stroke-width="3.1"/>
<line x1="946.5" y1="43.7" x2="953" y2="43.7" stroke="#000" stroke-width="3.1"/>
<line x1="941.5" y1="30.5" x2="953" y2="30.5" stroke="#000" stroke-width="3.1"/>
<line x1="952.9" y1="470" x2="952.9" y2="476.5" stroke="#000" stroke-width="3.1"/>
<line x1="1020.2" y1="470" x2="1020.2" y2="480.5" stroke="#000" stroke-width="3.1"/>
<text x="1020.2" y="508.2" font-size="30" text-anchor="middle">0</text>
<line x1="1087.5" y1="470" x2="1087.5" y2="476.5" stroke="#000" stroke-width="3.1"/>
<line x1="1154.8" y1="470" x2="1154.8" y2="480.5" stroke="#000" stroke-width="3.1"/>
<text x="1154.8" y="508.2" font-size="30" text-anchor="middle">2</text>
<line x1="1222" y1="470" x2="1222" y2="476.5" stroke="#000" stroke-width="3.1"/>
<line x1="1289.3" y1="470" x2="1289.3" y2="480.5" stroke="#000" stroke-width="3.1"/>
<text x="1289.3" y="508.2" font-size="30" text-anchor="middle">4</text>
<line x1="1356.6" y1="470" x2="1356.6" y2="476.5" stroke="#000" stroke-width="3.1"/>
<line x1="1423.9" y1="470" x2="1423.9" y2="480.5" stroke="#000" stroke-width="3.1"/>
<text x="1423.9" y="508.2" font-size="30" text-anchor="middle">6</text>
<line x1="1491.2" y1="470" x2="1491.2" y2="476.5" stroke="#000" stroke-width="3.1"/>
<line x1="1558.4" y1="470" x2="1558.4" y2="480.5" stroke="#000" stroke-width="3.1"/>
<text x="1558.4" y="508.2" font-size="30" text-anchor="middle">8</text>
<text x="934" y="38.8" font-size="30" text-anchor="end">1</text>
<text x="934" y="327.1" font-size="30" text-anchor="end">0.1</text>
<text x="1255" y="557" font-size="30" text-anchor="middle" textLength="130" lengthAdjust="spacingAndGlyphs">Time (ns)</text>
<text transform="translate(863,243.4) rotate(-90)" font-size="30" text-anchor="middle" textLength="310.4" lengthAdjust="spacingAndGlyphs">Normalized PL  Counts</text>
<text x="829.5" y="47" font-size="61" style="font-family:'Liberation Serif',serif">b</text>
<g shape-rendering="crispEdges">
<rect x="125.3" y="1016.9" width="5.5" height="34.6" fill="#ffe9e9"/>
<rect x="130.3" y="1016.9" width="5.5" height="34.6" fill="#ff6161"/>
<rect x="135.4" y="1016.9" width="5.5" height="34.6" fill="#ff2727"/>
<rect x="140.4" y="1016.9" width="5.5" height="34.6" fill="#ff1313"/>
<rect x="145.4" y="1016.9" width="5.5" height="34.6" fill="#ff0000"/>
<rect x="150.4" y="1016.9" width="5.5" height="34.6" fill="#ff2727"/>
<rect x="155.5" y="1016.9" width="5.5" height="34.6" fill="#ff3a3a"/>
<rect x="160.5" y="1016.9" width="5.5" height="34.6" fill="#ff4e4e"/>
<rect x="165.5" y="1016.9" width="10.6" height="34.6" fill="#ff0000"/>
<rect x="175.6" y="1016.9" width="5.5" height="34.6" fill="#ff2727"/>
<rect x="180.6" y="1016.9" width="5.5" height="34.6" fill="#ff7474"/>
<rect x="185.7" y="1016.9" width="5.5" height="34.6" fill="#ff6161"/>
<rect x="190.7" y="1016.9" width="5.5" height="34.6" fill="#ff0000"/>
<rect x="195.7" y="1016.9" width="5.5" height="34.6" fill="#ff2727"/>
<rect x="200.8" y="1016.9" width="5.5" height="34.6" fill="#ff8888"/>
<rect x="205.8" y="1016.9" width="5.5" height="34.6" fill="#ff3a3a"/>
<rect x="210.8" y="1016.9" width="5.5" height="34.6" fill="#ffaeae"/>
<rect x="215.8" y="1016.9" width="10.6" height="34.6" fill="#ff8888"/>
<rect x="225.9" y="1016.9" width="5.5" height="34.6" fill="#ff9b9b"/>
<rect x="230.9" y="1016.9" width="5.5" height="34.6" fill="#ff6161"/>
<rect x="236" y="1016.9" width="5.5" height="34.6" fill="#ff7474"/>
<rect x="241" y="1016.9" width="5.5" height="34.6" fill="#ff9b9b"/>
<rect x="246" y="1016.9" width="5.5" height="34.6" fill="#ff6161"/>
<rect x="251.1" y="1016.9" width="5.5" height="34.6" fill="#ff4e4e"/>
<rect x="256.1" y="1016.9" width="5.5" height="34.6" fill="#ffd5d5"/>
<rect x="261.1" y="1016.9" width="5.5" height="34.6" fill="#ff8888"/>
<rect x="266.1" y="1016.9" width="5.5" height="34.6" fill="#ffaeae"/>
<rect x="271.2" y="1016.9" width="5.5" height="34.6" fill="#ff8888"/>
<rect x="276.2" y="1016.9" width="5.5" height="34.6" fill="#ffc2c2"/>
<rect x="281.2" y="1016.9" width="10.6" height="34.6" fill="#ff8888"/>
<rect x="291.3" y="1016.9" width="5.5" height="34.6" fill="#ff9b9b"/>
<rect x="296.3" y="1016.9" width="5.5" height="34.6" fill="#ffc2c2"/>
<rect x="301.4" y="1016.9" width="5.5" height="34.6" fill="#ff9b9b"/>
<rect x="306.4" y="1016.9" width="5.5" height="34.6" fill="#ffc2c2"/>
<rect x="311.4" y="1016.9" width="5.5" height="34.6" fill="#ffd5d5"/>
<rect x="316.4" y="1016.9" width="10.6" height="34.6" fill="#ffffff"/>
<rect x="326.5" y="1016.9" width="5.5" height="34.6" fill="#ffd5d5"/>
<rect x="331.5" y="1016.9" width="5.5" height="34.6" fill="#fffcfc"/>
<rect x="336.6" y="1016.9" width="40.7" height="34.6" fill="#ffffff"/>
<rect x="376.8" y="1016.9" width="5.5" height="34.6" fill="#ffe9e9"/>
<rect x="381.8" y="1016.9" width="5.5" height="34.6" fill="#ffffff"/>
<rect x="386.9" y="1016.9" width="5.5" height="34.6" fill="#fffcfc"/>
<rect x="391.9" y="1016.9" width="15.6" height="34.6" fill="#ffffff"/>
<rect x="407" y="1016.9" width="5.5" height="34.6" fill="#ffd5d5"/>
<rect x="412" y="1016.9" width="5.5" height="34.6" fill="#ffffff"/>
<rect x="417" y="1016.9" width="5.5" height="34.6" fill="#ff9b9b"/>
<rect x="422.1" y="1016.9" width="15.6" height="34.6" fill="#fffcfc"/>
<rect x="437.2" y="1016.9" width="10.6" height="34.6" fill="#ffffff"/>
<rect x="447.2" y="1016.9" width="5.5" height="34.6" fill="#ffd5d5"/>
<rect x="452.2" y="1016.9" width="45.8" height="34.6" fill="#ffffff"/>
<rect x="497.5" y="1016.9" width="5.5" height="34.6" fill="#fffcfc"/>
<rect x="502.6" y="1016.9" width="96.1" height="34.6" fill="#ffffff"/>
<rect x="598.1" y="1016.9" width="5.5" height="34.6" fill="#f8f8ff"/>
<rect x="603.1" y="1016.9" width="38.6" height="34.6" fill="#ffffff"/>
<rect x="125.3" y="982.9" width="5.5" height="34.6" fill="#ffd5d5"/>
<rect x="130.3" y="982.9" width="5.5" height="34.6" fill="#ff2727"/>
<rect x="135.4" y="982.9" width="5.5" height="34.6" fill="#ff0000"/>
<rect x="140.4" y="982.9" width="5.5" height="34.6" fill="#ff1313"/>
<rect x="145.4" y="982.9" width="5.5" height="34.6" fill="#ff8888"/>
<rect x="150.4" y="982.9" width="5.5" height="34.6" fill="#ff0000"/>
<rect x="155.5" y="982.9" width="5.5" height="34.6" fill="#ff1313"/>
<rect x="160.5" y="982.9" width="5.5" height="34.6" fill="#ff6161"/>
<rect x="165.5" y="982.9" width="5.5" height="34.6" fill="#ff0000"/>
<rect x="170.6" y="982.9" width="5.5" height="34.6" fill="#ff2727"/>
<rect x="175.6" y="982.9" width="10.6" height="34.6" fill="#ff4e4e"/>
<rect x="185.7" y="982.9" width="5.5" height="34.6" fill="#ff6161"/>
<rect x="190.7" y="982.9" width="5.5" height="34.6" fill="#ff2727"/>
<rect x="195.7" y="982.9" width="5.5" height="34.6" fill="#ff0000"/>
<rect x="200.8" y="982.9" width="5.5" height="34.6" fill="#ff4e4e"/>
<rect x="205.8" y="982.9" width="5.5" height="34.6" fill="#ff2727"/>
<rect x="210.8" y="982.9" width="5.5" height="34.6" fill="#ff0000"/>
<rect x="215.8" y="982.9" width="5.5" height="34.6" fill="#ff7474"/>
<rect x="220.9" y="982.9" width="5.5" height="34.6" fill="#ff2727"/>
<rect x="225.9" y="982.9" width="5.5" height="34.6" fill="#ff8888"/>
<rect x="230.9" y="982.9" width="10.6" height="34.6" fill="#ffc2c2"/>
<rect x="241" y="982.9" width="5.5" height="34.6" fill="#ff9b9b"/>
<rect x="246" y="982.9" width="5.5" height="34.6" fill="#ff7474"/>
<rect x="251.1" y="982.9" width="5.5" height="34.6" fill="#ffaeae"/>
<rect x="256.1" y="982.9" width="5.5" height="34.6" fill="#ff9b9b"/>
<rect x="261.1" y="982.9" width="5.5" height="34.6" fill="#ff7474"/>
<rect x="266.1" y="982.9" width="5.5" height="34.6" fill="#ff8888"/>
<rect x="271.2" y="982.9" width="5.5" height="34.6" fill="#ff9b9b"/>
<rect x="276.2" y="982.9" width="60.9" height="34.6" fill="#ffffff"/>
<rect x="336.6" y="982.9" width="5.5" height="34.6" fill="#f8f8ff"/>
<rect x="341.6" y="982.9" width="10.6" height="34.6" fill="#ffffff"/>
<rect x="351.7" y="982.9" width="5.5" height="34.6" fill="#e5e5ff"/>
<rect x="356.7" y="982.9" width="5.5" height="34.6" fill="#f8f8ff"/>
<rect x="361.7" y="982.9" width="5.5" height="34.6" fill="#ebebff"/>
<rect x="366.7" y="982.9" width="5.5" height="34.6" fill="#dedeff"/>
<rect x="371.8" y="982.9" width="10.6" height="34.6" fill="#ebebff"/>
<rect x="381.8" y="982.9" width="5.5" height="34.6" fill="#f8f8ff"/>
<rect x="386.9" y="982.9" width="5.5" height="34.6" fill="#e5e5ff"/>
<rect x="391.9" y="982.9" width="15.6" height="34.6" fill="#ebebff"/>
<rect x="407" y="982.9" width="5.5" height="34.6" fill="#e5e5ff"/>
<rect x="412" y="982.9" width="5.5" height="34.6" fill="#ebebff"/>
<rect x="417" y="982.9" width="10.6" height="34.6" fill="#f2f2ff"/>
<rect x="427.1" y="982.9" width="5.5" height="34.6" fill="#e5e5ff"/>
<rect x="432.1" y="982.9" width="5.5" height="34.6" fill="#dedeff"/>
<rect x="437.2" y="982.9" width="5.5" height="34.6" fill="#ebebff"/>
<rect x="442.2" y="982.9" width="5.5" height="34.6" fill="#e5e5ff"/>
<rect x="447.2" y="982.9" width="5.5" height="34.6" fill="#dedeff"/>
<rect x="452.2" y="982.9" width="5.5" height="34.6" fill="#d1d1ff"/>
<rect x="457.3" y="982.9" width="5.5" height="34.6" fill="#ebebff"/>
<rect x="462.3" y="982.9" width="5.5" height="34.6" fill="#e5e5ff"/>
<rect x="467.3" y="982.9" width="5.5" height="34.6" fill="#d8d8ff"/>
<rect x="472.4" y="982.9" width="10.6" height="34.6" fill="#e5e5ff"/>
<rect x="482.4" y="982.9" width="5.5" height="34.6" fill="#cbcbff"/>
<rect x="487.5" y="982.9" width="10.6" height="34.6" fill="#d8d8ff"/>
<rect x="497.5" y="982.9" width="5.5" height="34.6" fill="#dedeff"/>
<rect x="502.6" y="982.9" width="15.6" height="34.6" fill="#d8d8ff"/>
<rect x="517.6" y="982.9" width="5.5" height="34.6" fill="#e5e5ff"/>
<rect x="522.7" y="982.9" width="5.5" height="34.6" fill="#ebebff"/>
<rect x="527.7" y="982.9" width="10.6" height="34.6" fill="#d1d1ff"/>
<rect x="537.8" y="982.9" width="5.5" height="34.6" fill="#ebebff"/>
<rect x="542.8" y="982.9" width="10.6" height="34.6" fill="#cbcbff"/>
<rect x="552.9" y="982.9" width="10.6" height="34.6" fill="#d1d1ff"/>
<rect x="562.9" y="982.9" width="5.5" height="34.6" fill="#d8d8ff"/>
<rect x="567.9" y="982.9" width="5.5" height="34.6" fill="#d1d1ff"/>
<rect x="573" y="982.9" width="5.5" height="34.6" fill="#c4c4ff"/>
<rect x="578" y="982.9" width="10.6" height="34.6" fill="#cbcbff"/>
<rect x="588.1" y="982.9" width="5.5" height="34.6" fill="#d8d8ff"/>
<rect x="593.1" y="982.9" width="5.5" height="34.6" fill="#c4c4ff"/>
<rect x="598.1" y="982.9" width="10.6" height="34.6" fill="#b7b7ff"/>
<rect x="608.2" y="982.9" width="5.5" height="34.6" fill="#cbcbff"/>
<rect x="613.2" y="982.9" width="5.5" height="34.6" fill="#b7b7ff"/>
<rect x="618.2" y="982.9" width="5.5" height="34.6" fill="#aaaaff"/>
<rect x="623.3" y="982.9" width="5.5" height="34.6" fill="#b7b7ff"/>
<rect x="628.3" y="982.9" width="5.5" height="34.6" fill="#bebeff"/>
<rect x="633.3" y="982.9" width="5.5" height="34.6" fill="#cbcbff"/>
<rect x="638.4" y="982.9" width="3.4" height="34.6" fill="#b1b1ff"/>
<rect x="125.3" y="948.8" width="5.5" height="34.6" fill="#ffaeae"/>
<rect x="130.3" y="948.8" width="40.7" height="34.6" fill="#ff0000"/>
<rect x="170.6" y="948.8" width="5.5" height="34.6" fill="#ff2727"/>
<rect x="175.6" y="948.8" width="5.5" height="34.6" fill="#ff3a3a"/>
<rect x="180.6" y="948.8" width="5.5" height="34.6" fill="#ff4e4e"/>
<rect x="185.7" y="948.8" width="5.5" height="34.6" fill="#ff6161"/>
<rect x="190.7" y="948.8" width="5.5" height="34.6" fill="#ff7474"/>
<rect x="195.7" y="948.8" width="5.5" height="34.6" fill="#ff4e4e"/>
<rect x="200.8" y="948.8" width="10.6" height="34.6" fill="#ff9b9b"/>
<rect x="210.8" y="948.8" width="5.5" height="34.6" fill="#ffaeae"/>
<rect x="215.8" y="948.8" width="10.6" height="34.6" fill="#ffd5d5"/>
<rect x="225.9" y="948.8" width="30.7" height="34.6" fill="#ffffff"/>
<rect x="256.1" y="948.8" width="5.5" height="34.6" fill="#f8f8ff"/>
<rect x="261.1" y="948.8" width="10.6" height="34.6" fill="#f2f2ff"/>
<rect x="271.2" y="948.8" width="15.6" height="34.6" fill="#ebebff"/>
<rect x="286.3" y="948.8" width="5.5" height="34.6" fill="#e5e5ff"/>
<rect x="291.3" y="948.8" width="20.6" height="34.6" fill="#dedeff"/>
<rect x="311.4" y="948.8" width="10.6" height="34.6" fill="#d8d8ff"/>
<rect x="321.5" y="948.8" width="15.6" height="34.6" fill="#d1d1ff"/>
<rect x="336.6" y="948.8" width="5.5" height="34.6" fill="#cbcbff"/>
<rect x="341.6" y="948.8" width="20.6" height="34.6" fill="#c4c4ff"/>
<rect x="361.7" y="948.8" width="15.6" height="34.6" fill="#bebeff"/>
<rect x="376.8" y="948.8" width="20.6" height="34.6" fill="#b7b7ff"/>
<rect x="396.9" y="948.8" width="5.5" height="34.6" fill="#b1b1ff"/>
<rect x="402" y="948.8" width="15.6" height="34.6" fill="#aaaaff"/>
<rect x="417" y="948.8" width="15.6" height="34.6" fill="#a3a3ff"/>
<rect x="432.1" y="948.8" width="5.5" height="34.6" fill="#9d9dff"/>
<rect x="437.2" y="948.8" width="5.5" height="34.6" fill="#9696ff"/>
<rect x="442.2" y="948.8" width="5.5" height="34.6" fill="#9d9dff"/>
<rect x="447.2" y="948.8" width="10.6" height="34.6" fill="#9696ff"/>
<rect x="457.3" y="948.8" width="5.5" height="34.6" fill="#9090ff"/>
<rect x="462.3" y="948.8" width="5.5" height="34.6" fill="#9d9dff"/>
<rect x="467.3" y="948.8" width="5.5" height="34.6" fill="#9696ff"/>
<rect x="472.4" y="948.8" width="15.6" height="34.6" fill="#9090ff"/>
<rect x="487.5" y="948.8" width="10.6" height="34.6" fill="#8989ff"/>
<rect x="497.5" y="948.8" width="5.5" height="34.6" fill="#8383ff"/>
<rect x="502.6" y="948.8" width="5.5" height="34.6" fill="#8989ff"/>
<rect x="507.6" y="948.8" width="15.6" height="34.6" fill="#8383ff"/>
<rect x="522.7" y="948.8" width="5.5" height="34.6" fill="#7676ff"/>
<rect x="527.7" y="948.8" width="5.5" height="34.6" fill="#8383ff"/>
<rect x="532.7" y="948.8" width="5.5" height="34.6" fill="#7c7cff"/>
<rect x="537.8" y="948.8" width="5.5" height="34.6" fill="#7676ff"/>
<rect x="542.8" y="948.8" width="5.5" height="34.6" fill="#7c7cff"/>
<rect x="547.8" y="948.8" width="5.5" height="34.6" fill="#7676ff"/>
<rect x="552.9" y="948.8" width="5.5" height="34.6" fill="#7c7cff"/>
<rect x="557.9" y="948.8" width="20.6" height="34.6" fill="#6f6fff"/>
<rect x="578" y="948.8" width="5.5" height="34.6" fill="#7676ff"/>
<rect x="583" y="948.8" width="5.5" height="34.6" fill="#6f6fff"/>
<rect x="588.1" y="948.8" width="5.5" height="34.6" fill="#6969ff"/>
<rect x="593.1" y="948.8" width="5.5" height="34.6" fill="#6f6fff"/>
<rect x="598.1" y="948.8" width="5.5" height="34.6" fill="#6969ff"/>
<rect x="603.1" y="948.8" width="5.5" height="34.6" fill="#6f6fff"/>
<rect x="608.2" y="948.8" width="5.5" height="34.6" fill="#6969ff"/>
<rect x="613.2" y="948.8" width="10.6" height="34.6" fill="#6262ff"/>
<rect x="623.3" y="948.8" width="10.6" height="34.6" fill="#6969ff"/>
<rect x="633.3" y="948.8" width="5.5" height="34.6" fill="#6262ff"/>
<rect x="638.4" y="948.8" width="3.4" height="34.6" fill="#6969ff"/>
<rect x="125.3" y="914.8" width="5.5" height="34.6" fill="#ffaeae"/>
<rect x="130.3" y="914.8" width="30.7" height="34.6" fill="#ff0000"/>
<rect x="160.5" y="914.8" width="10.6" height="34.6" fill="#ff1313"/>
<rect x="170.6" y="914.8" width="5.5" height="34.6" fill="#ff4e4e"/>
<rect x="175.6" y="914.8" width="10.6" height="34.6" fill="#ff6161"/>
<rect x="185.7" y="914.8" width="5.5" height="34.6" fill="#ff7474"/>
<rect x="190.7" y="914.8" width="5.5" height="34.6" fill="#ff9b9b"/>
<rect x="195.7" y="914.8" width="5.5" height="34.6" fill="#ffaeae"/>
<rect x="200.8" y="914.8" width="5.5" height="34.6" fill="#ffc2c2"/>
<rect x="205.8" y="914.8" width="5.5" height="34.6" fill="#ffe9e9"/>
<rect x="210.8" y="914.8" width="20.6" height="34.6" fill="#ffffff"/>
<rect x="230.9" y="914.8" width="10.6" height="34.6" fill="#f8f8ff"/>
<rect x="241" y="914.8" width="15.6" height="34.6" fill="#f2f2ff"/>
<rect x="256.1" y="914.8" width="15.6" height="34.6" fill="#e5e5ff"/>
<rect x="271.2" y="914.8" width="10.6" height="34.6" fill="#dedeff"/>
<rect x="281.2" y="914.8" width="5.5" height="34.6" fill="#d8d8ff"/>
<rect x="286.3" y="914.8" width="5.5" height="34.6" fill="#d1d1ff"/>
<rect x="291.3" y="914.8" width="5.5" height="34.6" fill="#cbcbff"/>
<rect x="296.3" y="914.8" width="10.6" height="34.6" fill="#c4c4ff"/>
<rect x="306.4" y="914.8" width="5.5" height="34.6" fill="#bebeff"/>
<rect x="311.4" y="914.8" width="10.6" height="34.6" fill="#b7b7ff"/>
<rect x="321.5" y="914.8" width="5.5" height="34.6" fill="#b1b1ff"/>
<rect x="326.5" y="914.8" width="15.6" height="34.6" fill="#aaaaff"/>
<rect x="341.6" y="914.8" width="5.5" height="34.6" fill="#a3a3ff"/>
<rect x="346.6" y="914.8" width="10.6" height="34.6" fill="#9d9dff"/>
<rect x="356.7" y="914.8" width="15.6" height="34.6" fill="#9696ff"/>
<rect x="371.8" y="914.8" width="15.6" height="34.6" fill="#9090ff"/>
<rect x="386.9" y="914.8" width="5.5" height="34.6" fill="#8989ff"/>
<rect x="391.9" y="914.8" width="15.6" height="34.6" fill="#8383ff"/>
<rect x="407" y="914.8" width="10.6" height="34.6" fill="#7c7cff"/>
<rect x="417" y="914.8" width="10.6" height="34.6" fill="#6f6fff"/>
<rect x="427.1" y="914.8" width="5.5" height="34.6" fill="#7676ff"/>
<rect x="432.1" y="914.8" width="5.5" height="34.6" fill="#6f6fff"/>
<rect x="437.2" y="914.8" width="5.5" height="34.6" fill="#7676ff"/>
<rect x="442.2" y="914.8" width="10.6" height="34.6" fill="#6f6fff"/>
<rect x="452.2" y="914.8" width="30.7" height="34.6" fill="#6969ff"/>
<rect x="482.4" y="914.8" width="5.5" height="34.6" fill="#6262ff"/>
<rect x="487.5" y="914.8" width="5.5" height="34.6" fill="#6969ff"/>
<rect x="492.5" y="914.8" width="10.6" height="34.6" fill="#6262ff"/>
<rect x="502.6" y="914.8" width="10.6" height="34.6" fill="#5c5cff"/>
<rect x="512.6" y="914.8" width="5.5" height="34.6" fill="#6262ff"/>
<rect x="517.6" y="914.8" width="25.6" height="34.6" fill="#5c5cff"/>
<rect x="542.8" y="914.8" width="10.6" height="34.6" fill="#5555ff"/>
<rect x="552.9" y="914.8" width="5.5" height="34.6" fill="#5c5cff"/>
<rect x="557.9" y="914.8" width="5.5" height="34.6" fill="#4e4eff"/>
<rect x="562.9" y="914.8" width="5.5" height="34.6" fill="#5555ff"/>
<rect x="567.9" y="914.8" width="15.6" height="34.6" fill="#4e4eff"/>
<rect x="583" y="914.8" width="5.5" height="34.6" fill="#5555ff"/>
<rect x="588.1" y="914.8" width="5.5" height="34.6" fill="#4e4eff"/>
<rect x="593.1" y="914.8" width="5.5" height="34.6" fill="#4848ff"/>
<rect x="598.1" y="914.8" width="10.6" height="34.6" fill="#4e4eff"/>
<rect x="608.2" y="914.8" width="33.6" height="34.6" fill="#4848ff"/>
<rect x="125.3" y="880.7" width="5.5" height="34.6" fill="#ffc2c2"/>
<rect x="130.3" y="880.7" width="35.7" height="34.6" fill="#ff0000"/>
<rect x="165.5" y="880.7" width="5.5" height="34.6" fill="#ff2727"/>
<rect x="170.6" y="880.7" width="5.5" height="34.6" fill="#ff4e4e"/>
<rect x="175.6" y="880.7" width="5.5" height="34.6" fill="#ff7474"/>
<rect x="180.6" y="880.7" width="5.5" height="34.6" fill="#ff8888"/>
<rect x="185.7" y="880.7" width="5.5" height="34.6" fill="#ffaeae"/>
<rect x="190.7" y="880.7" width="5.5" height="34.6" fill="#ffc2c2"/>
<rect x="195.7" y="880.7" width="5.5" height="34.6" fill="#ffe9e9"/>
<rect x="200.8" y="880.7" width="15.6" height="34.6" fill="#ffffff"/>
<rect x="215.8" y="880.7" width="15.6" height="34.6" fill="#f8f8ff"/>
<rect x="230.9" y="880.7" width="15.6" height="34.6" fill="#ebebff"/>
<rect x="246" y="880.7" width="5.5" height="34.6" fill="#e5e5ff"/>
<rect x="251.1" y="880.7" width="5.5" height="34.6" fill="#dedeff"/>
<rect x="256.1" y="880.7" width="10.6" height="34.6" fill="#d8d8ff"/>
<rect x="266.1" y="880.7" width="5.5" height="34.6" fill="#cbcbff"/>
<rect x="271.2" y="880.7" width="10.6" height="34.6" fill="#c4c4ff"/>
<rect x="281.2" y="880.7" width="5.5" height="34.6" fill="#b7b7ff"/>
<rect x="286.3" y="880.7" width="5.5" height="34.6" fill="#b1b1ff"/>
<rect x="291.3" y="880.7" width="10.6" height="34.6" fill="#a3a3ff"/>
<rect x="301.4" y="880.7" width="10.6" height="34.6" fill="#9d9dff"/>
<rect x="311.4" y="880.7" width="5.5" height="34.6" fill="#9696ff"/>
<rect x="316.4" y="880.7" width="5.5" height="34.6" fill="#9090ff"/>
<rect x="321.5" y="880.7" width="10.6" height="34.6" fill="#8989ff"/>
<rect x="331.5" y="880.7" width="10.6" height="34.6" fill="#8383ff"/>
<rect x="341.6" y="880.7" width="10.6" height="34.6" fill="#7c7cff"/>
<rect x="351.7" y="880.7" width="5.5" height="34.6" fill="#7676ff"/>
<rect x="356.7" y="880.7" width="5.5" height="34.6" fill="#7c7cff"/>
<rect x="361.7" y="880.7" width="15.6" height="34.6" fill="#6f6fff"/>
<rect x="376.8" y="880.7" width="5.5" height="34.6" fill="#6969ff"/>
<rect x="381.8" y="880.7" width="5.5" height="34.6" fill="#6f6fff"/>
<rect x="386.9" y="880.7" width="5.5" height="34.6" fill="#6969ff"/>
<rect x="391.9" y="880.7" width="15.6" height="34.6" fill="#6262ff"/>
<rect x="407" y="880.7" width="10.6" height="34.6" fill="#5c5cff"/>
<rect x="417" y="880.7" width="5.5" height="34.6" fill="#5555ff"/>
<rect x="422.1" y="880.7" width="30.7" height="34.6" fill="#4e4eff"/>
<rect x="452.2" y="880.7" width="20.6" height="34.6" fill="#4848ff"/>
<rect x="472.4" y="880.7" width="40.7" height="34.6" fill="#4141ff"/>
<rect x="512.6" y="880.7" width="20.6" height="34.6" fill="#3b3bff"/>
<rect x="532.7" y="880.7" width="5.5" height="34.6" fill="#4141ff"/>
<rect x="537.8" y="880.7" width="25.6" height="34.6" fill="#3b3bff"/>
<rect x="562.9" y="880.7" width="20.6" height="34.6" fill="#3434ff"/>
<rect x="583" y="880.7" width="5.5" height="34.6" fill="#2e2eff"/>
<rect x="588.1" y="880.7" width="25.6" height="34.6" fill="#3434ff"/>
<rect x="613.2" y="880.7" width="5.5" height="34.6" fill="#2e2eff"/>
<rect x="618.2" y="880.7" width="5.5" height="34.6" fill="#3434ff"/>
<rect x="623.3" y="880.7" width="15.6" height="34.6" fill="#2e2eff"/>
<rect x="638.4" y="880.7" width="3.4" height="34.6" fill="#3434ff"/>
<rect x="125.3" y="846.7" width="5.5" height="34.6" fill="#ffc2c2"/>
<rect x="130.3" y="846.7" width="30.7" height="34.6" fill="#ff0000"/>
<rect x="160.5" y="846.7" width="5.5" height="34.6" fill="#ff1313"/>
<rect x="165.5" y="846.7" width="5.5" height="34.6" fill="#ff3a3a"/>
<rect x="170.6" y="846.7" width="5.5" height="34.6" fill="#ff6161"/>
<rect x="175.6" y="846.7" width="5.5" height="34.6" fill="#ff7474"/>
<rect x="180.6" y="846.7" width="5.5" height="34.6" fill="#ffaeae"/>
<rect x="185.7" y="846.7" width="5.5" height="34.6" fill="#ffc2c2"/>
<rect x="190.7" y="846.7" width="5.5" height="34.6" fill="#ffe9e9"/>
<rect x="195.7" y="846.7" width="20.6" height="34.6" fill="#ffffff"/>
<rect x="215.8" y="846.7" width="10.6" height="34.6" fill="#f8f8ff"/>
<rect x="225.9" y="846.7" width="5.5" height="34.6" fill="#f2f2ff"/>
<rect x="230.9" y="846.7" width="10.6" height="34.6" fill="#ebebff"/>
<rect x="241" y="846.7" width="5.5" height="34.6" fill="#e5e5ff"/>
<rect x="246" y="846.7" width="5.5" height="34.6" fill="#dedeff"/>
<rect x="251.1" y="846.7" width="5.5" height="34.6" fill="#d8d8ff"/>
<rect x="256.1" y="846.7" width="5.5" height="34.6" fill="#d1d1ff"/>
<rect x="261.1" y="846.7" width="5.5" height="34.6" fill="#cbcbff"/>
<rect x="266.1" y="846.7" width="5.5" height="34.6" fill="#bebeff"/>
<rect x="271.2" y="846.7" width="5.5" height="34.6" fill="#b7b7ff"/>
<rect x="276.2" y="846.7" width="5.5" height="34.6" fill="#b1b1ff"/>
<rect x="281.2" y="846.7" width="10.6" height="34.6" fill="#a3a3ff"/>
<rect x="291.3" y="846.7" width="5.5" height="34.6" fill="#9d9dff"/>
<rect x="296.3" y="846.7" width="5.5" height="34.6" fill="#9696ff"/>
<rect x="301.4" y="846.7" width="5.5" height="34.6" fill="#9090ff"/>
<rect x="306.4" y="846.7" width="5.5" height="34.6" fill="#8989ff"/>
<rect x="311.4" y="846.7" width="10.6" height="34.6" fill="#8383ff"/>
<rect x="321.5" y="846.7" width="5.5" height="34.6" fill="#7c7cff"/>
<rect x="326.5" y="846.7" width="10.6" height="34.6" fill="#6f6fff"/>
<rect x="336.6" y="846.7" width="10.6" height="34.6" fill="#6969ff"/>
<rect x="346.6" y="846.7" width="10.6" height="34.6" fill="#6262ff"/>
<rect x="356.7" y="846.7" width="5.5" height="34.6" fill="#5c5cff"/>
<rect x="361.7" y="846.7" width="10.6" height="34.6" fill="#5555ff"/>
<rect x="371.8" y="846.7" width="5.5" height="34.6" fill="#4e4eff"/>
<rect x="376.8" y="846.7" width="10.6" height="34.6" fill="#5555ff"/>
<rect x="386.9" y="846.7" width="10.6" height="34.6" fill="#4e4eff"/>
<rect x="396.9" y="846.7" width="15.6" height="34.6" fill="#4848ff"/>
<rect x="412" y="846.7" width="20.6" height="34.6" fill="#4141ff"/>
<rect x="432.1" y="846.7" width="20.6" height="34.6" fill="#3b3bff"/>
<rect x="452.2" y="846.7" width="5.5" height="34.6" fill="#3434ff"/>
<rect x="457.3" y="846.7" width="5.5" height="34.6" fill="#3b3bff"/>
<rect x="462.3" y="846.7" width="40.7" height="34.6" fill="#3434ff"/>
<rect x="502.6" y="846.7" width="30.7" height="34.6" fill="#2e2eff"/>
<rect x="532.7" y="846.7" width="5.5" height="34.6" fill="#2727ff"/>
<rect x="537.8" y="846.7" width="10.6" height="34.6" fill="#2e2eff"/>
<rect x="547.8" y="846.7" width="5.5" height="34.6" fill="#2727ff"/>
<rect x="552.9" y="846.7" width="5.5" height="34.6" fill="#2e2eff"/>
<rect x="557.9" y="846.7" width="50.8" height="34.6" fill="#2727ff"/>
<rect x="608.2" y="846.7" width="5.5" height="34.6" fill="#2121ff"/>
<rect x="613.2" y="846.7" width="25.6" height="34.6" fill="#2727ff"/>
<rect x="638.4" y="846.7" width="3.4" height="34.6" fill="#2121ff"/>
<rect x="125.3" y="812.6" width="5.5" height="34.6" fill="#ffc2c2"/>
<rect x="130.3" y="812.6" width="30.7" height="34.6" fill="#ff0000"/>
<rect x="160.5" y="812.6" width="5.5" height="34.6" fill="#ff2727"/>
<rect x="165.5" y="812.6" width="5.5" height="34.6" fill="#ff4e4e"/>
<rect x="170.6" y="812.6" width="5.5" height="34.6" fill="#ff8888"/>
<rect x="175.6" y="812.6" width="5.5" height="34.6" fill="#ffaeae"/>
<rect x="180.6" y="812.6" width="5.5" height="34.6" fill="#ffd5d5"/>
<rect x="185.7" y="812.6" width="20.6" height="34.6" fill="#ffffff"/>
<rect x="205.8" y="812.6" width="5.5" height="34.6" fill="#f8f8ff"/>
<rect x="210.8" y="812.6" width="5.5" height="34.6" fill="#ffffff"/>
<rect x="215.8" y="812.6" width="5.5" height="34.6" fill="#f8f8ff"/>
<rect x="220.9" y="812.6" width="5.5" height="34.6" fill="#f2f2ff"/>
<rect x="225.9" y="812.6" width="10.6" height="34.6" fill="#ebebff"/>
<rect x="236" y="812.6" width="5.5" height="34.6" fill="#dedeff"/>
<rect x="241" y="812.6" width="5.5" height="34.6" fill="#d8d8ff"/>
<rect x="246" y="812.6" width="5.5" height="34.6" fill="#d1d1ff"/>
<rect x="251.1" y="812.6" width="5.5" height="34.6" fill="#cbcbff"/>
<rect x="256.1" y="812.6" width="5.5" height="34.6" fill="#bebeff"/>
<rect x="261.1" y="812.6" width="5.5" height="34.6" fill="#b7b7ff"/>
<rect x="266.1" y="812.6" width="5.5" height="34.6" fill="#b1b1ff"/>
<rect x="271.2" y="812.6" width="5.5" height="34.6" fill="#aaaaff"/>
<rect x="276.2" y="812.6" width="5.5" height="34.6" fill="#9d9dff"/>
<rect x="281.2" y="812.6" width="10.6" height="34.6" fill="#9696ff"/>
<rect x="291.3" y="812.6" width="5.5" height="34.6" fill="#8989ff"/>
<rect x="296.3" y="812.6" width="10.6" height="34.6" fill="#8383ff"/>
<rect x="306.4" y="812.6" width="5.5" height="34.6" fill="#7676ff"/>
<rect x="311.4" y="812.6" width="5.5" height="34.6" fill="#6f6fff"/>
<rect x="316.4" y="812.6" width="10.6" height="34.6" fill="#6969ff"/>
<rect x="326.5" y="812.6" width="5.5" height="34.6" fill="#6262ff"/>
<rect x="331.5" y="812.6" width="15.6" height="34.6" fill="#5555ff"/>
<rect x="346.6" y="812.6" width="5.5" height="34.6" fill="#4e4eff"/>
<rect x="351.7" y="812.6" width="10.6" height="34.6" fill="#4848ff"/>
<rect x="361.7" y="812.6" width="15.6" height="34.6" fill="#4141ff"/>
<rect x="376.8" y="812.6" width="15.6" height="34.6" fill="#3b3bff"/>
<rect x="391.9" y="812.6" width="15.6" height="34.6" fill="#3434ff"/>
<rect x="407" y="812.6" width="20.6" height="34.6" fill="#2e2eff"/>
<rect x="427.1" y="812.6" width="5.5" height="34.6" fill="#2727ff"/>
<rect x="432.1" y="812.6" width="5.5" height="34.6" fill="#2e2eff"/>
<rect x="437.2" y="812.6" width="20.6" height="34.6" fill="#2727ff"/>
<rect x="457.3" y="812.6" width="20.6" height="34.6" fill="#2121ff"/>
<rect x="477.4" y="812.6" width="10.6" height="34.6" fill="#1a1aff"/>
<rect x="487.5" y="812.6" width="5.5" height="34.6" fill="#2121ff"/>
<rect x="492.5" y="812.6" width="20.6" height="34.6" fill="#1a1aff"/>
<rect x="512.6" y="812.6" width="45.8" height="34.6" fill="#1414ff"/>
<rect x="557.9" y="812.6" width="10.6" height="34.6" fill="#0d0dff"/>
<rect x="567.9" y="812.6" width="5.5" height="34.6" fill="#1414ff"/>
<rect x="573" y="812.6" width="30.7" height="34.6" fill="#0d0dff"/>
<rect x="603.1" y="812.6" width="10.6" height="34.6" fill="#0707ff"/>
<rect x="613.2" y="812.6" width="10.6" height="34.6" fill="#0d0dff"/>
<rect x="623.3" y="812.6" width="18.5" height="34.6" fill="#0707ff"/>
<rect x="125.3" y="778.5" width="5.5" height="34.6" fill="#ffc2c2"/>
<rect x="130.3" y="778.5" width="30.7" height="34.6" fill="#ff0000"/>
<rect x="160.5" y="778.5" width="5.5" height="34.6" fill="#ff2727"/>
<rect x="165.5" y="778.5" width="5.5" height="34.6" fill="#ff4e4e"/>
<rect x="170.6" y="778.5" width="5.5" height="34.6" fill="#ff7474"/>
<rect x="175.6" y="778.5" width="5.5" height="34.6" fill="#ff9b9b"/>
<rect x="180.6" y="778.5" width="5.5" height="34.6" fill="#ffaeae"/>
<rect x="185.7" y="778.5" width="5.5" height="34.6" fill="#ffd5d5"/>
<rect x="190.7" y="778.5" width="15.6" height="34.6" fill="#ffffff"/>
<rect x="205.8" y="778.5" width="15.6" height="34.6" fill="#f8f8ff"/>
<rect x="220.9" y="778.5" width="5.5" height="34.6" fill="#f2f2ff"/>
<rect x="225.9" y="778.5" width="5.5" height="34.6" fill="#ebebff"/>
<rect x="230.9" y="778.5" width="5.5" height="34.6" fill="#e5e5ff"/>
<rect x="236" y="778.5" width="5.5" height="34.6" fill="#dedeff"/>
<rect x="241" y="778.5" width="5.5" height="34.6" fill="#d1d1ff"/>
<rect x="246" y="778.5" width="5.5" height="34.6" fill="#cbcbff"/>
<rect x="251.1" y="778.5" width="5.5" height="34.6" fill="#c4c4ff"/>
<rect x="256.1" y="778.5" width="5.5" height="34.6" fill="#b7b7ff"/>
<rect x="261.1" y="778.5" width="5.5" height="34.6" fill="#b1b1ff"/>
<rect x="266.1" y="778.5" width="5.5" height="34.6" fill="#aaaaff"/>
<rect x="271.2" y="778.5" width="5.5" height="34.6" fill="#9d9dff"/>
<rect x="276.2" y="778.5" width="5.5" height="34.6" fill="#9696ff"/>
<rect x="281.2" y="778.5" width="5.5" height="34.6" fill="#9090ff"/>
<rect x="286.3" y="778.5" width="5.5" height="34.6" fill="#8989ff"/>
<rect x="291.3" y="778.5" width="5.5" height="34.6" fill="#8383ff"/>
<rect x="296.3" y="778.5" width="5.5" height="34.6" fill="#7c7cff"/>
<rect x="301.4" y="778.5" width="5.5" height="34.6" fill="#7676ff"/>
<rect x="306.4" y="778.5" width="5.5" height="34.6" fill="#6f6fff"/>
<rect x="311.4" y="778.5" width="5.5" height="34.6" fill="#6969ff"/>
<rect x="316.4" y="778.5" width="10.6" height="34.6" fill="#5c5cff"/>
<rect x="326.5" y="778.5" width="15.6" height="34.6" fill="#4e4eff"/>
<rect x="341.6" y="778.5" width="10.6" height="34.6" fill="#4848ff"/>
<rect x="351.7" y="778.5" width="5.5" height="34.6" fill="#4141ff"/>
<rect x="356.7" y="778.5" width="20.6" height="34.6" fill="#3b3bff"/>
<rect x="376.8" y="778.5" width="10.6" height="34.6" fill="#3434ff"/>
<rect x="386.9" y="778.5" width="10.6" height="34.6" fill="#2e2eff"/>
<rect x="396.9" y="778.5" width="15.6" height="34.6" fill="#2727ff"/>
<rect x="412" y="778.5" width="30.7" height="34.6" fill="#2121ff"/>
<rect x="442.2" y="778.5" width="5.5" height="34.6" fill="#1a1aff"/>
<rect x="447.2" y="778.5" width="5.5" height="34.6" fill="#2121ff"/>
<rect x="452.2" y="778.5" width="15.6" height="34.6" fill="#1a1aff"/>
<rect x="467.3" y="778.5" width="20.6" height="34.6" fill="#1414ff"/>
<rect x="487.5" y="778.5" width="25.6" height="34.6" fill="#0d0dff"/>
<rect x="512.6" y="778.5" width="25.6" height="34.6" fill="#0707ff"/>
<rect x="537.8" y="778.5" width="5.5" height="34.6" fill="#0d0dff"/>
<rect x="542.8" y="778.5" width="5.5" height="34.6" fill="#0000ff"/>
<rect x="547.8" y="778.5" width="15.6" height="34.6" fill="#0707ff"/>
<rect x="562.9" y="778.5" width="78.9" height="34.6" fill="#0000ff"/>
<rect x="125.3" y="744.5" width="5.5" height="34.6" fill="#ffc2c2"/>
<rect x="130.3" y="744.5" width="30.7" height="34.6" fill="#ff0000"/>
<rect x="160.5" y="744.5" width="5.5" height="34.6" fill="#ff2727"/>
<rect x="165.5" y="744.5" width="5.5" height="34.6" fill="#ff4e4e"/>
<rect x="170.6" y="744.5" width="5.5" height="34.6" fill="#ff7474"/>
<rect x="175.6" y="744.5" width="5.5" height="34.6" fill="#ffaeae"/>
<rect x="180.6" y="744.5" width="5.5" height="34.6" fill="#ffd5d5"/>
<rect x="185.7" y="744.5" width="25.7" height="34.6" fill="#ffffff"/>
<rect x="210.8" y="744.5" width="10.6" height="34.6" fill="#f8f8ff"/>
<rect x="220.9" y="744.5" width="10.6" height="34.6" fill="#f2f2ff"/>
<rect x="230.9" y="744.5" width="5.5" height="34.6" fill="#ebebff"/>
<rect x="236" y="744.5" width="5.5" height="34.6" fill="#dedeff"/>
<rect x="241" y="744.5" width="5.5" height="34.6" fill="#d8d8ff"/>
<rect x="246" y="744.5" width="5.5" height="34.6" fill="#cbcbff"/>
<rect x="251.1" y="744.5" width="5.5" height="34.6" fill="#c4c4ff"/>
<rect x="256.1" y="744.5" width="5.5" height="34.6" fill="#b7b7ff"/>
<rect x="261.1" y="744.5" width="5.5" height="34.6" fill="#b1b1ff"/>
<rect x="266.1" y="744.5" width="5.5" height="34.6" fill="#aaaaff"/>
<rect x="271.2" y="744.5" width="5.5" height="34.6" fill="#a3a3ff"/>
<rect x="276.2" y="744.5" width="10.6" height="34.6" fill="#9696ff"/>
<rect x="286.3" y="744.5" width="5.5" height="34.6" fill="#8989ff"/>
<rect x="291.3" y="744.5" width="5.5" height="34.6" fill="#8383ff"/>
<rect x="296.3" y="744.5" width="5.5" height="34.6" fill="#7c7cff"/>
<rect x="301.4" y="744.5" width="15.6" height="34.6" fill="#7676ff"/>
<rect x="316.4" y="744.5" width="5.5" height="34.6" fill="#6969ff"/>
<rect x="321.5" y="744.5" width="5.5" height="34.6" fill="#6262ff"/>
<rect x="326.5" y="744.5" width="10.6" height="34.6" fill="#5c5cff"/>
<rect x="336.6" y="744.5" width="5.5" height="34.6" fill="#5555ff"/>
<rect x="341.6" y="744.5" width="10.6" height="34.6" fill="#4e4eff"/>
<rect x="351.7" y="744.5" width="15.6" height="34.6" fill="#4848ff"/>
<rect x="366.7" y="744.5" width="10.6" height="34.6" fill="#4141ff"/>
<rect x="376.8" y="744.5" width="10.6" height="34.6" fill="#3b3bff"/>
<rect x="386.9" y="744.5" width="20.6" height="34.6" fill="#3434ff"/>
<rect x="407" y="744.5" width="25.7" height="34.6" fill="#2e2eff"/>
<rect x="432.1" y="744.5" width="20.6" height="34.6" fill="#2727ff"/>
<rect x="452.2" y="744.5" width="10.6" height="34.6" fill="#2121ff"/>
<rect x="462.3" y="744.5" width="5.5" height="34.6" fill="#1a1aff"/>
<rect x="467.3" y="744.5" width="5.5" height="34.6" fill="#2121ff"/>
<rect x="472.4" y="744.5" width="15.6" height="34.6" fill="#1a1aff"/>
<rect x="487.5" y="744.5" width="5.5" height="34.6" fill="#1414ff"/>
<rect x="492.5" y="744.5" width="5.5" height="34.6" fill="#1a1aff"/>
<rect x="497.5" y="744.5" width="5.5" height="34.6" fill="#1414ff"/>
<rect x="502.6" y="744.5" width="30.7" height="34.6" fill="#0d0dff"/>
<rect x="532.7" y="744.5" width="5.5" height="34.6" fill="#0707ff"/>
<rect x="537.8" y="744.5" width="10.6" height="34.6" fill="#0d0dff"/>
<rect x="547.8" y="744.5" width="30.7" height="34.6" fill="#0707ff"/>
<rect x="578" y="744.5" width="5.5" height="34.6" fill="#0000ff"/>
<rect x="583" y="744.5" width="5.5" height="34.6" fill="#0707ff"/>
<rect x="588.1" y="744.5" width="53.7" height="34.6" fill="#0000ff"/>
<rect x="125.3" y="710.4" width="5.5" height="34.6" fill="#ffc2c2"/>
<rect x="130.3" y="710.4" width="30.7" height="34.6" fill="#ff0000"/>
<rect x="160.5" y="710.4" width="5.5" height="34.6" fill="#ff3a3a"/>
<rect x="165.5" y="710.4" width="5.5" height="34.6" fill="#ff6161"/>
<rect x="170.6" y="710.4" width="5.5" height="34.6" fill="#ff8888"/>
<rect x="175.6" y="710.4" width="5.5" height="34.6" fill="#ffc2c2"/>
<rect x="180.6" y="710.4" width="5.5" height="34.6" fill="#ffd5d5"/>
<rect x="185.7" y="710.4" width="15.6" height="34.6" fill="#ffffff"/>
<rect x="200.8" y="710.4" width="15.6" height="34.6" fill="#f8f8ff"/>
<rect x="215.8" y="710.4" width="10.6" height="34.6" fill="#ebebff"/>
<rect x="225.9" y="710.4" width="5.5" height="34.6" fill="#e5e5ff"/>
<rect x="230.9" y="710.4" width="5.5" height="34.6" fill="#d8d8ff"/>
<rect x="236" y="710.4" width="5.5" height="34.6" fill="#d1d1ff"/>
<rect x="241" y="710.4" width="5.5" height="34.6" fill="#c4c4ff"/>
<rect x="246" y="710.4" width="5.5" height="34.6" fill="#bebeff"/>
<rect x="251.1" y="710.4" width="5.5" height="34.6" fill="#b7b7ff"/>
<rect x="256.1" y="710.4" width="5.5" height="34.6" fill="#b1b1ff"/>
<rect x="261.1" y="710.4" width="10.6" height="34.6" fill="#a3a3ff"/>
<rect x="271.2" y="710.4" width="5.5" height="34.6" fill="#9696ff"/>
<rect x="276.2" y="710.4" width="10.6" height="34.6" fill="#8989ff"/>
<rect x="286.3" y="710.4" width="5.5" height="34.6" fill="#8383ff"/>
<rect x="291.3" y="710.4" width="5.5" height="34.6" fill="#7676ff"/>
<rect x="296.3" y="710.4" width="10.6" height="34.6" fill="#6f6fff"/>
<rect x="306.4" y="710.4" width="5.5" height="34.6" fill="#6969ff"/>
<rect x="311.4" y="710.4" width="10.6" height="34.6" fill="#6262ff"/>
<rect x="321.5" y="710.4" width="5.5" height="34.6" fill="#5c5cff"/>
<rect x="326.5" y="710.4" width="15.6" height="34.6" fill="#4e4eff"/>
<rect x="341.6" y="710.4" width="5.5" height="34.6" fill="#4848ff"/>
<rect x="346.6" y="710.4" width="10.6" height="34.6" fill="#4141ff"/>
<rect x="356.7" y="710.4" width="10.6" height="34.6" fill="#3b3bff"/>
<rect x="366.7" y="710.4" width="15.6" height="34.6" fill="#3434ff"/>
<rect x="381.8" y="710.4" width="10.6" height="34.6" fill="#2e2eff"/>
<rect x="391.9" y="710.4" width="10.6" height="34.6" fill="#2727ff"/>
<rect x="402" y="710.4" width="5.5" height="34.6" fill="#2121ff"/>
<rect x="407" y="710.4" width="5.5" height="34.6" fill="#2727ff"/>
<rect x="412" y="710.4" width="15.6" height="34.6" fill="#2121ff"/>
<rect x="427.1" y="710.4" width="25.6" height="34.6" fill="#1a1aff"/>
<rect x="452.2" y="710.4" width="20.6" height="34.6" fill="#1414ff"/>
<rect x="472.4" y="710.4" width="20.6" height="34.6" fill="#0d0dff"/>
<rect x="492.5" y="710.4" width="30.7" height="34.6" fill="#0707ff"/>
<rect x="522.7" y="710.4" width="119.1" height="34.6" fill="#0000ff"/>
<rect x="125.3" y="676.4" width="5.5" height="34.6" fill="#ffc2c2"/>
<rect x="130.3" y="676.4" width="30.7" height="34.6" fill="#ff0000"/>
<rect x="160.5" y="676.4" width="5.5" height="34.6" fill="#ff3a3a"/>
<rect x="165.5" y="676.4" width="5.5" height="34.6" fill="#ff6161"/>
<rect x="170.6" y="676.4" width="5.5" height="34.6" fill="#ff8888"/>
<rect x="175.6" y="676.4" width="5.5" height="34.6" fill="#ffaeae"/>
<rect x="180.6" y="676.4" width="5.5" height="34.6" fill="#ffe9e9"/>
<rect x="185.7" y="676.4" width="10.6" height="34.6" fill="#ffffff"/>
<rect x="195.7" y="676.4" width="20.6" height="34.6" fill="#f8f8ff"/>
<rect x="215.8" y="676.4" width="10.6" height="34.6" fill="#ebebff"/>
<rect x="225.9" y="676.4" width="5.5" height="34.6" fill="#e5e5ff"/>
<rect x="230.9" y="676.4" width="5.5" height="34.6" fill="#dedeff"/>
<rect x="236" y="676.4" width="5.5" height="34.6" fill="#d1d1ff"/>
<rect x="241" y="676.4" width="5.5" height="34.6" fill="#c4c4ff"/>
<rect x="246" y="676.4" width="5.5" height="34.6" fill="#bebeff"/>
<rect x="251.1" y="676.4" width="5.5" height="34.6" fill="#b7b7ff"/>
<rect x="256.1" y="676.4" width="5.5" height="34.6" fill="#b1b1ff"/>
<rect x="261.1" y="676.4" width="5.5" height="34.6" fill="#aaaaff"/>
<rect x="266.1" y="676.4" width="5.5" height="34.6" fill="#9d9dff"/>
<rect x="271.2" y="676.4" width="5.5" height="34.6" fill="#9696ff"/>
<rect x="276.2" y="676.4" width="5.5" height="34.6" fill="#9090ff"/>
<rect x="281.2" y="676.4" width="5.5" height="34.6" fill="#8383ff"/>
<rect x="286.3" y="676.4" width="5.5" height="34.6" fill="#7c7cff"/>
<rect x="291.3" y="676.4" width="10.6" height="34.6" fill="#7676ff"/>
<rect x="301.4" y="676.4" width="5.5" height="34.6" fill="#6f6fff"/>
<rect x="306.4" y="676.4" width="5.5" height="34.6" fill="#6969ff"/>
<rect x="311.4" y="676.4" width="10.6" height="34.6" fill="#6262ff"/>
<rect x="321.5" y="676.4" width="10.6" height="34.6" fill="#5555ff"/>
<rect x="331.5" y="676.4" width="5.5" height="34.6" fill="#4e4eff"/>
<rect x="336.6" y="676.4" width="10.6" height="34.6" fill="#4848ff"/>
<rect x="346.6" y="676.4" width="5.5" height="34.6" fill="#4141ff"/>
<rect x="351.7" y="676.4" width="15.6" height="34.6" fill="#3b3bff"/>
<rect x="366.7" y="676.4" width="15.6" height="34.6" fill="#3434ff"/>
<rect x="381.8" y="676.4" width="10.6" height="34.6" fill="#2e2eff"/>
<rect x="391.9" y="676.4" width="25.6" height="34.6" fill="#2727ff"/>
<rect x="417" y="676.4" width="10.6" height="34.6" fill="#2121ff"/>
<rect x="427.1" y="676.4" width="30.7" height="34.6" fill="#1a1aff"/>
<rect x="457.3" y="676.4" width="15.6" height="34.6" fill="#1414ff"/>
<rect x="472.4" y="676.4" width="20.6" height="34.6" fill="#0d0dff"/>
<rect x="492.5" y="676.4" width="30.7" height="34.6" fill="#0707ff"/>
<rect x="522.7" y="676.4" width="119.1" height="34.6" fill="#0000ff"/>
<rect x="125.3" y="642.3" width="5.5" height="34.6" fill="#ffc2c2"/>
<rect x="130.3" y="642.3" width="25.7" height="34.6" fill="#ff0000"/>
<rect x="155.5" y="642.3" width="5.5" height="34.6" fill="#ff1313"/>
<rect x="160.5" y="642.3" width="5.5" height="34.6" fill="#ff4e4e"/>
<rect x="165.5" y="642.3" width="5.5" height="34.6" fill="#ff7474"/>
<rect x="170.6" y="642.3" width="5.5" height="34.6" fill="#ff9b9b"/>
<rect x="175.6" y="642.3" width="5.5" height="34.6" fill="#ffd5d5"/>
<rect x="180.6" y="642.3" width="15.6" height="34.6" fill="#ffffff"/>
<rect x="195.7" y="642.3" width="5.5" height="34.6" fill="#f8f8ff"/>
<rect x="200.8" y="642.3" width="10.6" height="34.6" fill="#f2f2ff"/>
<rect x="210.8" y="642.3" width="15.6" height="34.6" fill="#ebebff"/>
<rect x="225.9" y="642.3" width="5.5" height="34.6" fill="#dedeff"/>
<rect x="230.9" y="642.3" width="5.5" height="34.6" fill="#d1d1ff"/>
<rect x="236" y="642.3" width="5.5" height="34.6" fill="#cbcbff"/>
<rect x="241" y="642.3" width="5.5" height="34.6" fill="#c4c4ff"/>
<rect x="246" y="642.3" width="5.5" height="34.6" fill="#bebeff"/>
<rect x="251.1" y="642.3" width="5.5" height="34.6" fill="#b1b1ff"/>
<rect x="256.1" y="642.3" width="5.5" height="34.6" fill="#aaaaff"/>
<rect x="261.1" y="642.3" width="5.5" height="34.6" fill="#a3a3ff"/>
<rect x="266.1" y="642.3" width="5.5" height="34.6" fill="#9d9dff"/>
<rect x="271.2" y="642.3" width="5.5" height="34.6" fill="#9090ff"/>
<rect x="276.2" y="642.3" width="5.5" height="34.6" fill="#8989ff"/>
<rect x="281.2" y="642.3" width="5.5" height="34.6" fill="#8383ff"/>
<rect x="286.3" y="642.3" width="5.5" height="34.6" fill="#7c7cff"/>
<rect x="291.3" y="642.3" width="5.5" height="34.6" fill="#7676ff"/>
<rect x="296.3" y="642.3" width="5.5" height="34.6" fill="#6f6fff"/>
<rect x="301.4" y="642.3" width="10.6" height="34.6" fill="#6969ff"/>
<rect x="311.4" y="642.3" width="5.5" height="34.6" fill="#6262ff"/>
<rect x="316.4" y="642.3" width="5.5" height="34.6" fill="#5c5cff"/>
<rect x="321.5" y="642.3" width="5.5" height="34.6" fill="#5555ff"/>
<rect x="326.5" y="642.3" width="10.6" height="34.6" fill="#4e4eff"/>
<rect x="336.6" y="642.3" width="5.5" height="34.6" fill="#4848ff"/>
<rect x="341.6" y="642.3" width="10.6" height="34.6" fill="#4141ff"/>
<rect x="351.7" y="642.3" width="15.6" height="34.6" fill="#3b3bff"/>
<rect x="366.7" y="642.3" width="10.6" height="34.6" fill="#3434ff"/>
<rect x="376.8" y="642.3" width="20.6" height="34.6" fill="#2e2eff"/>
<rect x="396.9" y="642.3" width="15.6" height="34.6" fill="#2727ff"/>
<rect x="412" y="642.3" width="25.6" height="34.6" fill="#2121ff"/>
<rect x="437.2" y="642.3" width="10.6" height="34.6" fill="#1a1aff"/>
<rect x="447.2" y="642.3" width="20.6" height="34.6" fill="#1414ff"/>
<rect x="467.3" y="642.3" width="20.6" height="34.6" fill="#0d0dff"/>
<rect x="487.5" y="642.3" width="30.7" height="34.6" fill="#0707ff"/>
<rect x="517.6" y="642.3" width="124.2" height="34.6" fill="#0000ff"/>
<rect x="125.3" y="608.3" width="5.5" height="34.6" fill="#ffc2c2"/>
<rect x="130.3" y="608.3" width="25.7" height="34.6" fill="#ff0000"/>
<rect x="155.5" y="608.3" width="5.5" height="34.6" fill="#ff1313"/>
<rect x="160.5" y="608.3" width="5.5" height="34.6" fill="#ff4e4e"/>
<rect x="165.5" y="608.3" width="5.5" height="34.6" fill="#ff7474"/>
<rect x="170.6" y="608.3" width="5.5" height="34.6" fill="#ffaeae"/>
<rect x="175.6" y="608.3" width="5.5" height="34.6" fill="#ffd5d5"/>
<rect x="180.6" y="608.3" width="15.6" height="34.6" fill="#ffffff"/>
<rect x="195.7" y="608.3" width="5.5" height="34.6" fill="#f8f8ff"/>
<rect x="200.8" y="608.3" width="10.6" height="34.6" fill="#f2f2ff"/>
<rect x="210.8" y="608.3" width="10.6" height="34.6" fill="#ebebff"/>
<rect x="220.9" y="608.3" width="5.5" height="34.6" fill="#e5e5ff"/>
<rect x="225.9" y="608.3" width="5.5" height="34.6" fill="#d8d8ff"/>
<rect x="230.9" y="608.3" width="5.5" height="34.6" fill="#d1d1ff"/>
<rect x="236" y="608.3" width="5.5" height="34.6" fill="#cbcbff"/>
<rect x="241" y="608.3" width="5.5" height="34.6" fill="#c4c4ff"/>
<rect x="246" y="608.3" width="5.5" height="34.6" fill="#bebeff"/>
<rect x="251.1" y="608.3" width="5.5" height="34.6" fill="#b1b1ff"/>
<rect x="256.1" y="608.3" width="5.5" height="34.6" fill="#aaaaff"/>
<rect x="261.1" y="608.3" width="5.5" height="34.6" fill="#a3a3ff"/>
<rect x="266.1" y="608.3" width="5.5" height="34.6" fill="#9696ff"/>
<rect x="271.2" y="608.3" width="5.5" height="34.6" fill="#9090ff"/>
<rect x="276.2" y="608.3" width="5.5" height="34.6" fill="#8989ff"/>
<rect x="281.2" y="608.3" width="5.5" height="34.6" fill="#8383ff"/>
<rect x="286.3" y="608.3" width="5.5" height="34.6" fill="#7c7cff"/>
<rect x="291.3" y="608.3" width="5.5" height="34.6" fill="#7676ff"/>
<rect x="296.3" y="608.3" width="5.5" height="34.6" fill="#6f6fff"/>
<rect x="301.4" y="608.3" width="10.6" height="34.6" fill="#6969ff"/>
<rect x="311.4" y="608.3" width="5.5" height="34.6" fill="#6262ff"/>
<rect x="316.4" y="608.3" width="5.5" height="34.6" fill="#5c5cff"/>
<rect x="321.5" y="608.3" width="10.6" height="34.6" fill="#5555ff"/>
<rect x="331.5" y="608.3" width="5.5" height="34.6" fill="#4e4eff"/>
<rect x="336.6" y="608.3" width="10.6" height="34.6" fill="#4848ff"/>
<rect x="346.6" y="608.3" width="5.5" height="34.6" fill="#4141ff"/>
<rect x="351.7" y="608.3" width="10.6" height="34.6" fill="#3b3bff"/>
<rect x="361.7" y="608.3" width="15.6" height="34.6" fill="#3434ff"/>
<rect x="376.8" y="608.3" width="5.5" height="34.6" fill="#2e2eff"/>
<rect x="381.8" y="608.3" width="40.7" height="34.6" fill="#2727ff"/>
<rect x="422.1" y="608.3" width="5.5" height="34.6" fill="#1a1aff"/>
<rect x="427.1" y="608.3" width="10.6" height="34.6" fill="#2121ff"/>
<rect x="437.2" y="608.3" width="5.5" height="34.6" fill="#1a1aff"/>
<rect x="442.2" y="608.3" width="20.6" height="34.6" fill="#1414ff"/>
<rect x="462.3" y="608.3" width="25.7" height="34.6" fill="#0d0dff"/>
<rect x="487.5" y="608.3" width="20.6" height="34.6" fill="#0707ff"/>
<rect x="507.6" y="608.3" width="5.5" height="34.6" fill="#0000ff"/>
<rect x="512.6" y="608.3" width="5.5" height="34.6" fill="#0707ff"/>
<rect x="517.6" y="608.3" width="124.2" height="34.6" fill="#0000ff"/>
<rect x="125.3" y="574.2" width="5.5" height="34.6" fill="#ffc2c2"/>
<rect x="130.3" y="574.2" width="25.7" height="34.6" fill="#ff0000"/>
<rect x="155.5" y="574.2" width="5.5" height="34.6" fill="#ff1313"/>
<rect x="160.5" y="574.2" width="5.5" height="34.6" fill="#ff4e4e"/>
<rect x="165.5" y="574.2" width="5.5" height="34.6" fill="#ff7474"/>
<rect x="170.6" y="574.2" width="5.5" height="34.6" fill="#ff9b9b"/>
<rect x="175.6" y="574.2" width="5.5" height="34.6" fill="#ffd5d5"/>
<rect x="180.6" y="574.2" width="15.6" height="34.6" fill="#ffffff"/>
<rect x="195.7" y="574.2" width="10.6" height="34.6" fill="#f8f8ff"/>
<rect x="205.8" y="574.2" width="5.5" height="34.6" fill="#f2f2ff"/>
<rect x="210.8" y="574.2" width="10.6" height="34.6" fill="#ebebff"/>
<rect x="220.9" y="574.2" width="5.5" height="34.6" fill="#e5e5ff"/>
<rect x="225.9" y="574.2" width="5.5" height="34.6" fill="#dedeff"/>
<rect x="230.9" y="574.2" width="5.5" height="34.6" fill="#d1d1ff"/>
<rect x="236" y="574.2" width="5.5" height="34.6" fill="#cbcbff"/>
<rect x="241" y="574.2" width="5.5" height="34.6" fill="#c4c4ff"/>
<rect x="246" y="574.2" width="10.6" height="34.6" fill="#b7b7ff"/>
<rect x="256.1" y="574.2" width="5.5" height="34.6" fill="#aaaaff"/>
<rect x="261.1" y="574.2" width="5.5" height="34.6" fill="#9d9dff"/>
<rect x="266.1" y="574.2" width="5.5" height="34.6" fill="#9696ff"/>
<rect x="271.2" y="574.2" width="5.5" height="34.6" fill="#9090ff"/>
<rect x="276.2" y="574.2" width="5.5" height="34.6" fill="#8989ff"/>
<rect x="281.2" y="574.2" width="5.5" height="34.6" fill="#8383ff"/>
<rect x="286.3" y="574.2" width="5.5" height="34.6" fill="#7c7cff"/>
<rect x="291.3" y="574.2" width="5.5" height="34.6" fill="#7676ff"/>
<rect x="296.3" y="574.2" width="5.5" height="34.6" fill="#6f6fff"/>
<rect x="301.4" y="574.2" width="5.5" height="34.6" fill="#6969ff"/>
<rect x="306.4" y="574.2" width="10.6" height="34.6" fill="#6262ff"/>
<rect x="316.4" y="574.2" width="5.5" height="34.6" fill="#5c5cff"/>
<rect x="321.5" y="574.2" width="5.5" height="34.6" fill="#5555ff"/>
<rect x="326.5" y="574.2" width="10.6" height="34.6" fill="#4e4eff"/>
<rect x="336.6" y="574.2" width="10.6" height="34.6" fill="#4848ff"/>
<rect x="346.6" y="574.2" width="5.5" height="34.6" fill="#4141ff"/>
<rect x="351.7" y="574.2" width="10.6" height="34.6" fill="#3b3bff"/>
<rect x="361.7" y="574.2" width="15.6" height="34.6" fill="#3434ff"/>
<rect x="376.8" y="574.2" width="10.6" height="34.6" fill="#2e2eff"/>
<rect x="386.9" y="574.2" width="25.7" height="34.6" fill="#2727ff"/>
<rect x="412" y="574.2" width="20.6" height="34.6" fill="#2121ff"/>
<rect x="432.1" y="574.2" width="20.6" height="34.6" fill="#1a1aff"/>
<rect x="452.2" y="574.2" width="15.6" height="34.6" fill="#1414ff"/>
<rect x="467.3" y="574.2" width="15.6" height="34.6" fill="#0d0dff"/>
<rect x="482.4" y="574.2" width="20.6" height="34.6" fill="#0707ff"/>
<rect x="502.6" y="574.2" width="139.2" height="34.6" fill="#0000ff"/>
</g>
<path d="M148,582 L154.2,1044.5" fill="none" stroke="#000" stroke-width="5.8" stroke-dasharray="17.5 7.2"/>
<rect x="125.3" y="574.2" width="516" height="476.8" fill="none" stroke="#1f1f1f" stroke-width="2.4"/>
<line x1="125.5" y1="1051" x2="125.5" y2="1045.5" stroke="#1f1f1f" stroke-width="2.2"/>
<line x1="125.5" y1="574.2" x2="125.5" y2="579.7" stroke="#1f1f1f" stroke-width="2.2"/>
<text x="125.5" y="1093.4" font-size="32.5" text-anchor="middle">0</text>
<line x1="228.6" y1="1051" x2="228.6" y2="1045.5" stroke="#1f1f1f" stroke-width="2.2"/>
<line x1="228.6" y1="574.2" x2="228.6" y2="579.7" stroke="#1f1f1f" stroke-width="2.2"/>
<text x="228.6" y="1093.4" font-size="32.5" text-anchor="middle">0.5</text>
<line x1="331.7" y1="1051" x2="331.7" y2="1045.5" stroke="#1f1f1f" stroke-width="2.2"/>
<line x1="331.7" y1="574.2" x2="331.7" y2="579.7" stroke="#1f1f1f" stroke-width="2.2"/>
<text x="331.7" y="1093.4" font-size="32.5" text-anchor="middle">1</text>
<line x1="434.8" y1="1051" x2="434.8" y2="1045.5" stroke="#1f1f1f" stroke-width="2.2"/>
<line x1="434.8" y1="574.2" x2="434.8" y2="579.7" stroke="#1f1f1f" stroke-width="2.2"/>
<text x="434.8" y="1093.4" font-size="32.5" text-anchor="middle">1.5</text>
<line x1="537.9" y1="1051" x2="537.9" y2="1045.5" stroke="#1f1f1f" stroke-width="2.2"/>
<line x1="537.9" y1="574.2" x2="537.9" y2="579.7" stroke="#1f1f1f" stroke-width="2.2"/>
<text x="537.9" y="1093.4" font-size="32.5" text-anchor="middle">2</text>
<line x1="641" y1="1051" x2="641" y2="1045.5" stroke="#1f1f1f" stroke-width="2.2"/>
<line x1="641" y1="574.2" x2="641" y2="579.7" stroke="#1f1f1f" stroke-width="2.2"/>
<text x="641" y="1093.4" font-size="32.5" text-anchor="middle">2.5</text>
<line x1="125.3" y1="1034" x2="130.8" y2="1034" stroke="#1f1f1f" stroke-width="2.2"/>
<line x1="641.3" y1="1034" x2="635.8" y2="1034" stroke="#1f1f1f" stroke-width="2.2"/>
<text x="114.5" y="1046.8" font-size="32.5" text-anchor="end">0</text>
<line x1="125.3" y1="945.3" x2="130.8" y2="945.3" stroke="#1f1f1f" stroke-width="2.2"/>
<line x1="641.3" y1="945.3" x2="635.8" y2="945.3" stroke="#1f1f1f" stroke-width="2.2"/>
<text x="114.5" y="958.1" font-size="32.5" text-anchor="end">20</text>
<line x1="125.3" y1="856.6" x2="130.8" y2="856.6" stroke="#1f1f1f" stroke-width="2.2"/>
<line x1="641.3" y1="856.6" x2="635.8" y2="856.6" stroke="#1f1f1f" stroke-width="2.2"/>
<text x="114.5" y="869.4" font-size="32.5" text-anchor="end">40</text>
<line x1="125.3" y1="767.9" x2="130.8" y2="767.9" stroke="#1f1f1f" stroke-width="2.2"/>
<line x1="641.3" y1="767.9" x2="635.8" y2="767.9" stroke="#1f1f1f" stroke-width="2.2"/>
<text x="114.5" y="780.7" font-size="32.5" text-anchor="end">60</text>
<line x1="125.3" y1="679.2" x2="130.8" y2="679.2" stroke="#1f1f1f" stroke-width="2.2"/>
<line x1="641.3" y1="679.2" x2="635.8" y2="679.2" stroke="#1f1f1f" stroke-width="2.2"/>
<text x="114.5" y="692" font-size="32.5" text-anchor="end">80</text>
<line x1="125.3" y1="590.5" x2="130.8" y2="590.5" stroke="#1f1f1f" stroke-width="2.2"/>
<line x1="641.3" y1="590.5" x2="635.8" y2="590.5" stroke="#1f1f1f" stroke-width="2.2"/>
<text x="114.5" y="603.3" font-size="32.5" text-anchor="end">100</text>
<text x="383.3" y="1136.5" font-size="32.5" text-anchor="middle" textLength="143" lengthAdjust="spacingAndGlyphs">Time (ns)</text>
<text transform="translate(48.3,812.2) rotate(-90) scale(1.026,1)" font-size="34" text-anchor="middle">Excitation Fluence (<tspan style="font-family:'Liberation Serif',serif;font-style:italic">μ</tspan>J/cm<tspan font-size="25" dy="-15">2</tspan><tspan dy="15">)</tspan></text>
<g shape-rendering="crispEdges">
<rect x="681" y="1042.3" width="39" height="8" fill="#0000ff"/>
<rect x="681" y="1034.8" width="39" height="8" fill="#0707ff"/>
<rect x="681" y="1027.4" width="39" height="8" fill="#0d0dff"/>
<rect x="681" y="1019.9" width="39" height="8" fill="#1414ff"/>
<rect x="681" y="1012.5" width="39" height="8" fill="#1a1aff"/>
<rect x="681" y="1005" width="39" height="8" fill="#2121ff"/>
<rect x="681" y="997.6" width="39" height="8" fill="#2727ff"/>
<rect x="681" y="990.1" width="39" height="8" fill="#2e2eff"/>
<rect x="681" y="982.7" width="39" height="8" fill="#3434ff"/>
<rect x="681" y="975.2" width="39" height="8" fill="#3b3bff"/>
<rect x="681" y="967.8" width="39" height="8" fill="#4141ff"/>
<rect x="681" y="960.4" width="39" height="8" fill="#4848ff"/>
<rect x="681" y="952.9" width="39" height="8" fill="#4e4eff"/>
<rect x="681" y="945.5" width="39" height="8" fill="#5555ff"/>
<rect x="681" y="938" width="39" height="8" fill="#5c5cff"/>
<rect x="681" y="930.6" width="39" height="8" fill="#6262ff"/>
<rect x="681" y="923.1" width="39" height="8" fill="#6969ff"/>
<rect x="681" y="915.7" width="39" height="8" fill="#6f6fff"/>
<rect x="681" y="908.2" width="39" height="8" fill="#7676ff"/>
<rect x="681" y="900.8" width="39" height="8" fill="#7c7cff"/>
<rect x="681" y="893.3" width="39" height="8" fill="#8383ff"/>
<rect x="681" y="885.9" width="39" height="8" fill="#8989ff"/>
<rect x="681" y="878.5" width="39" height="8" fill="#9090ff"/>
<rect x="681" y="871" width="39" height="8" fill="#9696ff"/>
<rect x="681" y="863.6" width="39" height="8" fill="#9d9dff"/>
<rect x="681" y="856.1" width="39" height="8" fill="#a3a3ff"/>
<rect x="681" y="848.7" width="39" height="8" fill="#aaaaff"/>
<rect x="681" y="841.2" width="39" height="8" fill="#b1b1ff"/>
<rect x="681" y="833.8" width="39" height="8" fill="#b7b7ff"/>
<rect x="681" y="826.3" width="39" height="8" fill="#bebeff"/>
<rect x="681" y="818.9" width="39" height="8" fill="#c4c4ff"/>
<rect x="681" y="811.5" width="39" height="8" fill="#cbcbff"/>
<rect x="681" y="804" width="39" height="8" fill="#d1d1ff"/>
<rect x="681" y="796.6" width="39" height="8" fill="#d8d8ff"/>
<rect x="681" y="789.1" width="39" height="8" fill="#dedeff"/>
<rect x="681" y="781.7" width="39" height="8" fill="#e5e5ff"/>
<rect x="681" y="774.2" width="39" height="8" fill="#ebebff"/>
<rect x="681" y="766.8" width="39" height="8" fill="#f2f2ff"/>
<rect x="681" y="759.3" width="39" height="8" fill="#f8f8ff"/>
<rect x="681" y="751.9" width="39" height="8" fill="#ffffff"/>
<rect x="681" y="744.4" width="39" height="8" fill="#ffffff"/>
<rect x="681" y="737" width="39" height="8" fill="#ffffff"/>
<rect x="681" y="729.6" width="39" height="8" fill="#ffffff"/>
<rect x="681" y="722.1" width="39" height="8" fill="#ffffff"/>
<rect x="681" y="714.7" width="39" height="8" fill="#ffffff"/>
<rect x="681" y="707.2" width="39" height="8" fill="#ffffff"/>
<rect x="681" y="699.8" width="39" height="8" fill="#ffffff"/>
<rect x="681" y="692.3" width="39" height="8" fill="#ffffff"/>
<rect x="681" y="684.9" width="39" height="8" fill="#ffffff"/>
<rect x="681" y="677.4" width="39" height="8" fill="#ffffff"/>
<rect x="681" y="670" width="39" height="8" fill="#fffcfc"/>
<rect x="681" y="662.5" width="39" height="8" fill="#ffe9e9"/>
<rect x="681" y="655.1" width="39" height="8" fill="#ffd5d5"/>
<rect x="681" y="647.7" width="39" height="8" fill="#ffc2c2"/>
<rect x="681" y="640.2" width="39" height="8" fill="#ffaeae"/>
<rect x="681" y="632.8" width="39" height="8" fill="#ff9b9b"/>
<rect x="681" y="625.3" width="39" height="8" fill="#ff8888"/>
<rect x="681" y="617.9" width="39" height="8" fill="#ff7474"/>
<rect x="681" y="610.4" width="39" height="8" fill="#ff6161"/>
<rect x="681" y="603" width="39" height="8" fill="#ff4e4e"/>
<rect x="681" y="595.5" width="39" height="8" fill="#ff3a3a"/>
<rect x="681" y="588.1" width="39" height="8" fill="#ff2727"/>
<rect x="681" y="580.6" width="39" height="8" fill="#ff1313"/>
<rect x="681" y="573.2" width="39" height="8" fill="#ff0000"/>
</g>
<rect x="681" y="573.5" width="39" height="476.5" fill="none" stroke="#4d4d4d" stroke-width="1.2"/>
<line x1="715.5" y1="971.4" x2="720" y2="971.4" stroke="#404040" stroke-width="1.6"/>
<text x="728.8" y="982.4" font-size="28.5">0.2</text>
<line x1="715.5" y1="871.9" x2="720" y2="871.9" stroke="#404040" stroke-width="1.6"/>
<text x="728.8" y="882.9" font-size="28.5">0.4</text>
<line x1="715.5" y1="772.5" x2="720" y2="772.5" stroke="#404040" stroke-width="1.6"/>
<text x="728.8" y="783.5" font-size="28.5">0.6</text>
<line x1="715.5" y1="673" x2="720" y2="673" stroke="#404040" stroke-width="1.6"/>
<text x="728.8" y="684" font-size="28.5">0.8</text>
<line x1="715.5" y1="573.5" x2="720" y2="573.5" stroke="#404040" stroke-width="1.6"/>
<text x="728.8" y="584.5" font-size="28.5">1</text>
<text transform="translate(808,811) rotate(-90)" font-size="30" text-anchor="middle" textLength="311.5" lengthAdjust="spacingAndGlyphs">Normalized PL  Counts</text>
<text x="20.5" y="599" font-size="61" style="font-family:'Liberation Serif',serif">c</text>
<g shape-rendering="crispEdges">
<rect x="958.3" y="1016.9" width="55.8" height="34.6" fill="#ffffff"/>
<rect x="1013.6" y="1016.9" width="5.5" height="34.6" fill="#ff0000"/>
<rect x="1018.7" y="1016.9" width="5.5" height="34.6" fill="#ff6f6f"/>
<rect x="1023.7" y="1016.9" width="10.6" height="34.6" fill="#ff0000"/>
<rect x="1033.8" y="1016.9" width="5.5" height="34.6" fill="#ff4a4a"/>
<rect x="1038.8" y="1016.9" width="5.5" height="34.6" fill="#ffb8b8"/>
<rect x="1043.8" y="1016.9" width="5.5" height="34.6" fill="#ff0000"/>
<rect x="1048.8" y="1016.9" width="5.5" height="34.6" fill="#ffb8b8"/>
<rect x="1053.9" y="1016.9" width="5.5" height="34.6" fill="#ff0000"/>
<rect x="1058.9" y="1016.9" width="5.5" height="34.6" fill="#ff9494"/>
<rect x="1063.9" y="1016.9" width="5.5" height="34.6" fill="#ff4a4a"/>
<rect x="1069" y="1016.9" width="5.5" height="34.6" fill="#ffffff"/>
<rect x="1074" y="1016.9" width="5.5" height="34.6" fill="#ff0000"/>
<rect x="1079" y="1016.9" width="5.5" height="34.6" fill="#ff6f6f"/>
<rect x="1084" y="1016.9" width="5.5" height="34.6" fill="#ff9494"/>
<rect x="1089.1" y="1016.9" width="5.5" height="34.6" fill="#ff0000"/>
<rect x="1094.1" y="1016.9" width="5.5" height="34.6" fill="#ffdddd"/>
<rect x="1099.1" y="1016.9" width="5.5" height="34.6" fill="#ff2525"/>
<rect x="1104.2" y="1016.9" width="5.5" height="34.6" fill="#ffffff"/>
<rect x="1109.2" y="1016.9" width="5.5" height="34.6" fill="#ff2525"/>
<rect x="1114.2" y="1016.9" width="5.5" height="34.6" fill="#ffdddd"/>
<rect x="1119.3" y="1016.9" width="5.5" height="34.6" fill="#ffffff"/>
<rect x="1124.3" y="1016.9" width="5.5" height="34.6" fill="#ffb8b8"/>
<rect x="1129.3" y="1016.9" width="5.5" height="34.6" fill="#ffffff"/>
<rect x="1134.3" y="1016.9" width="5.5" height="34.6" fill="#ff2525"/>
<rect x="1139.4" y="1016.9" width="5.5" height="34.6" fill="#ff6f6f"/>
<rect x="1144.4" y="1016.9" width="5.5" height="34.6" fill="#ff2525"/>
<rect x="1149.4" y="1016.9" width="5.5" height="34.6" fill="#ff6f6f"/>
<rect x="1154.5" y="1016.9" width="5.5" height="34.6" fill="#ff9494"/>
<rect x="1159.5" y="1016.9" width="5.5" height="34.6" fill="#ff6f6f"/>
<rect x="1164.5" y="1016.9" width="5.5" height="34.6" fill="#ff0000"/>
<rect x="1169.6" y="1016.9" width="5.5" height="34.6" fill="#ff9494"/>
<rect x="1174.6" y="1016.9" width="10.6" height="34.6" fill="#ffdddd"/>
<rect x="1184.7" y="1016.9" width="5.5" height="34.6" fill="#ff9494"/>
<rect x="1189.7" y="1016.9" width="5.5" height="34.6" fill="#ffdddd"/>
<rect x="1194.7" y="1016.9" width="5.5" height="34.6" fill="#ff0000"/>
<rect x="1199.7" y="1016.9" width="10.6" height="34.6" fill="#ffffff"/>
<rect x="1209.8" y="1016.9" width="5.5" height="34.6" fill="#ffb8b8"/>
<rect x="1214.8" y="1016.9" width="5.5" height="34.6" fill="#ff4a4a"/>
<rect x="1219.9" y="1016.9" width="5.5" height="34.6" fill="#ffb8b8"/>
<rect x="1224.9" y="1016.9" width="10.6" height="34.6" fill="#ffffff"/>
<rect x="1235" y="1016.9" width="5.5" height="34.6" fill="#ffb8b8"/>
<rect x="1240" y="1016.9" width="5.5" height="34.6" fill="#ff2525"/>
<rect x="1245" y="1016.9" width="5.5" height="34.6" fill="#ffffff"/>
<rect x="1250" y="1016.9" width="5.5" height="34.6" fill="#ffb8b8"/>
<rect x="1255.1" y="1016.9" width="5.5" height="34.6" fill="#ffffff"/>
<rect x="1260.1" y="1016.9" width="10.6" height="34.6" fill="#ff9494"/>
<rect x="1270.2" y="1016.9" width="5.5" height="34.6" fill="#ffffff"/>
<rect x="1275.2" y="1016.9" width="5.5" height="34.6" fill="#ff0000"/>
<rect x="1280.2" y="1016.9" width="5.5" height="34.6" fill="#ffb8b8"/>
<rect x="1285.2" y="1016.9" width="10.6" height="34.6" fill="#ffffff"/>
<rect x="1295.3" y="1016.9" width="5.5" height="34.6" fill="#ffdddd"/>
<rect x="1300.3" y="1016.9" width="5.5" height="34.6" fill="#ffb8b8"/>
<rect x="1305.4" y="1016.9" width="5.5" height="34.6" fill="#ff9494"/>
<rect x="1310.4" y="1016.9" width="5.5" height="34.6" fill="#ffdddd"/>
<rect x="1315.4" y="1016.9" width="5.5" height="34.6" fill="#ff9494"/>
<rect x="1320.5" y="1016.9" width="15.6" height="34.6" fill="#ffffff"/>
<rect x="1335.5" y="1016.9" width="5.5" height="34.6" fill="#ffdddd"/>
<rect x="1340.6" y="1016.9" width="5.5" height="34.6" fill="#ffb8b8"/>
<rect x="1345.6" y="1016.9" width="10.6" height="34.6" fill="#ffffff"/>
<rect x="1355.7" y="1016.9" width="10.6" height="34.6" fill="#ff9494"/>
<rect x="1365.7" y="1016.9" width="5.5" height="34.6" fill="#ffffff"/>
<rect x="1370.8" y="1016.9" width="5.5" height="34.6" fill="#ffb8b8"/>
<rect x="1375.8" y="1016.9" width="5.5" height="34.6" fill="#ffdddd"/>
<rect x="1380.8" y="1016.9" width="5.5" height="34.6" fill="#ffffff"/>
<rect x="1385.8" y="1016.9" width="5.5" height="34.6" fill="#ff2525"/>
<rect x="1390.9" y="1016.9" width="10.6" height="34.6" fill="#ffffff"/>
<rect x="1400.9" y="1016.9" width="5.5" height="34.6" fill="#ffdddd"/>
<rect x="1406" y="1016.9" width="10.6" height="34.6" fill="#ffffff"/>
<rect x="1416" y="1016.9" width="10.6" height="34.6" fill="#ff9494"/>
<rect x="1426.1" y="1016.9" width="5.5" height="34.6" fill="#ffdddd"/>
<rect x="1431.1" y="1016.9" width="5.5" height="34.6" fill="#ffb8b8"/>
<rect x="1436.2" y="1016.9" width="10.6" height="34.6" fill="#ffffff"/>
<rect x="1446.2" y="1016.9" width="5.5" height="34.6" fill="#ff4a4a"/>
<rect x="1451.2" y="1016.9" width="5.5" height="34.6" fill="#ffffff"/>
<rect x="1456.3" y="1016.9" width="5.5" height="34.6" fill="#ff4a4a"/>
<rect x="1461.3" y="1016.9" width="13.2" height="34.6" fill="#ffffff"/>
<rect x="958.3" y="982.9" width="5.5" height="34.6" fill="#cdcdff"/>
<rect x="963.3" y="982.9" width="5.5" height="34.6" fill="#c7c7ff"/>
<rect x="968.4" y="982.9" width="20.6" height="34.6" fill="#ffffff"/>
<rect x="988.5" y="982.9" width="5.5" height="34.6" fill="#ffb8b8"/>
<rect x="993.5" y="982.9" width="5.5" height="34.6" fill="#ffdddd"/>
<rect x="998.5" y="982.9" width="5.5" height="34.6" fill="#ff0000"/>
<rect x="1003.6" y="982.9" width="5.5" height="34.6" fill="#ff4a4a"/>
<rect x="1008.6" y="982.9" width="5.5" height="34.6" fill="#ffffff"/>
<rect x="1013.6" y="982.9" width="5.5" height="34.6" fill="#ff0000"/>
<rect x="1018.7" y="982.9" width="5.5" height="34.6" fill="#ffffff"/>
<rect x="1023.7" y="982.9" width="5.5" height="34.6" fill="#ff0000"/>
<rect x="1028.7" y="982.9" width="5.5" height="34.6" fill="#ffffff"/>
<rect x="1033.8" y="982.9" width="5.5" height="34.6" fill="#ffdddd"/>
<rect x="1038.8" y="982.9" width="5.5" height="34.6" fill="#ff6f6f"/>
<rect x="1043.8" y="982.9" width="5.5" height="34.6" fill="#ffdddd"/>
<rect x="1048.8" y="982.9" width="5.5" height="34.6" fill="#ffffff"/>
<rect x="1053.9" y="982.9" width="5.5" height="34.6" fill="#ff2525"/>
<rect x="1058.9" y="982.9" width="10.6" height="34.6" fill="#ffffff"/>
<rect x="1069" y="982.9" width="5.5" height="34.6" fill="#ff2525"/>
<rect x="1074" y="982.9" width="5.5" height="34.6" fill="#ffffff"/>
<rect x="1079" y="982.9" width="5.5" height="34.6" fill="#ffb8b8"/>
<rect x="1084" y="982.9" width="5.5" height="34.6" fill="#ff6f6f"/>
<rect x="1089.1" y="982.9" width="5.5" height="34.6" fill="#ffdddd"/>
<rect x="1094.1" y="982.9" width="15.6" height="34.6" fill="#ffb8b8"/>
<rect x="1109.2" y="982.9" width="10.6" height="34.6" fill="#ff4a4a"/>
<rect x="1119.3" y="982.9" width="5.5" height="34.6" fill="#ffb8b8"/>
<rect x="1124.3" y="982.9" width="5.5" height="34.6" fill="#ff6f6f"/>
<rect x="1129.3" y="982.9" width="15.6" height="34.6" fill="#ffffff"/>
<rect x="1144.4" y="982.9" width="5.5" height="34.6" fill="#ff6f6f"/>
<rect x="1149.4" y="982.9" width="5.5" height="34.6" fill="#ff0000"/>
<rect x="1154.5" y="982.9" width="5.5" height="34.6" fill="#ffb8b8"/>
<rect x="1159.5" y="982.9" width="10.6" height="34.6" fill="#ffffff"/>
<rect x="1169.6" y="982.9" width="5.5" height="34.6" fill="#ff9494"/>
<rect x="1174.6" y="982.9" width="20.6" height="34.6" fill="#ffffff"/>
<rect x="1194.7" y="982.9" width="5.5" height="34.6" fill="#fbfbff"/>
<rect x="1199.7" y="982.9" width="45.8" height="34.6" fill="#ffffff"/>
<rect x="1245" y="982.9" width="5.5" height="34.6" fill="#fbfbff"/>
<rect x="1250" y="982.9" width="35.7" height="34.6" fill="#ffffff"/>
<rect x="1285.2" y="982.9" width="5.5" height="34.6" fill="#f0f0ff"/>
<rect x="1290.3" y="982.9" width="20.6" height="34.6" fill="#ffffff"/>
<rect x="1310.4" y="982.9" width="5.5" height="34.6" fill="#f5f5ff"/>
<rect x="1315.4" y="982.9" width="25.7" height="34.6" fill="#ffffff"/>
<rect x="1340.6" y="982.9" width="5.5" height="34.6" fill="#fbfbff"/>
<rect x="1345.6" y="982.9" width="5.5" height="34.6" fill="#e4e4ff"/>
<rect x="1350.6" y="982.9" width="5.5" height="34.6" fill="#dedeff"/>
<rect x="1355.7" y="982.9" width="5.5" height="34.6" fill="#ffffff"/>
<rect x="1360.7" y="982.9" width="5.5" height="34.6" fill="#fbfbff"/>
<rect x="1365.7" y="982.9" width="20.6" height="34.6" fill="#ffffff"/>
<rect x="1385.8" y="982.9" width="5.5" height="34.6" fill="#fbfbff"/>
<rect x="1390.9" y="982.9" width="5.5" height="34.6" fill="#ffffff"/>
<rect x="1395.9" y="982.9" width="5.5" height="34.6" fill="#eaeaff"/>
<rect x="1400.9" y="982.9" width="35.7" height="34.6" fill="#ffffff"/>
<rect x="1436.2" y="982.9" width="5.5" height="34.6" fill="#f5f5ff"/>
<rect x="1441.2" y="982.9" width="5.5" height="34.6" fill="#ffffff"/>
<rect x="1446.2" y="982.9" width="5.5" height="34.6" fill="#f0f0ff"/>
<rect x="1451.2" y="982.9" width="5.5" height="34.6" fill="#ffffff"/>
<rect x="1456.3" y="982.9" width="5.5" height="34.6" fill="#fbfbff"/>
<rect x="1461.3" y="982.9" width="5.5" height="34.6" fill="#ffffff"/>
<rect x="1466.3" y="982.9" width="5.5" height="34.6" fill="#f5f5ff"/>
<rect x="1471.4" y="982.9" width="3.1" height="34.6" fill="#ffffff"/>
<rect x="958.3" y="948.8" width="5.5" height="34.6" fill="#eaeaff"/>
<rect x="963.3" y="948.8" width="30.7" height="34.6" fill="#ffffff"/>
<rect x="993.5" y="948.8" width="5.5" height="34.6" fill="#ff0000"/>
<rect x="998.5" y="948.8" width="5.5" height="34.6" fill="#ffb8b8"/>
<rect x="1003.6" y="948.8" width="5.5" height="34.6" fill="#ff2525"/>
<rect x="1008.6" y="948.8" width="5.5" height="34.6" fill="#ff6f6f"/>
<rect x="1013.6" y="948.8" width="5.5" height="34.6" fill="#ff2525"/>
<rect x="1018.7" y="948.8" width="5.5" height="34.6" fill="#ff0000"/>
<rect x="1023.7" y="948.8" width="5.5" height="34.6" fill="#ff4a4a"/>
<rect x="1028.7" y="948.8" width="5.5" height="34.6" fill="#ffb8b8"/>
<rect x="1033.8" y="948.8" width="20.6" height="34.6" fill="#ff0000"/>
<rect x="1053.9" y="948.8" width="5.5" height="34.6" fill="#ffffff"/>
<rect x="1058.9" y="948.8" width="5.5" height="34.6" fill="#ff4a4a"/>
<rect x="1063.9" y="948.8" width="5.5" height="34.6" fill="#ff6f6f"/>
<rect x="1069" y="948.8" width="5.5" height="34.6" fill="#ffffff"/>
<rect x="1074" y="948.8" width="10.6" height="34.6" fill="#ff4a4a"/>
<rect x="1084" y="948.8" width="10.6" height="34.6" fill="#ffffff"/>
<rect x="1094.1" y="948.8" width="5.5" height="34.6" fill="#ffdddd"/>
<rect x="1099.1" y="948.8" width="10.6" height="34.6" fill="#ffb8b8"/>
<rect x="1109.2" y="948.8" width="81" height="34.6" fill="#ffffff"/>
<rect x="1189.7" y="948.8" width="5.5" height="34.6" fill="#e4e4ff"/>
<rect x="1194.7" y="948.8" width="5.5" height="34.6" fill="#d8d8ff"/>
<rect x="1199.7" y="948.8" width="5.5" height="34.6" fill="#e4e4ff"/>
<rect x="1204.8" y="948.8" width="5.5" height="34.6" fill="#dedeff"/>
<rect x="1209.8" y="948.8" width="5.5" height="34.6" fill="#f5f5ff"/>
<rect x="1214.8" y="948.8" width="5.5" height="34.6" fill="#f0f0ff"/>
<rect x="1219.9" y="948.8" width="10.6" height="34.6" fill="#eaeaff"/>
<rect x="1229.9" y="948.8" width="5.5" height="34.6" fill="#f0f0ff"/>
<rect x="1235" y="948.8" width="5.5" height="34.6" fill="#f5f5ff"/>
<rect x="1240" y="948.8" width="5.5" height="34.6" fill="#f0f0ff"/>
<rect x="1245" y="948.8" width="5.5" height="34.6" fill="#f5f5ff"/>
<rect x="1250" y="948.8" width="5.5" height="34.6" fill="#f0f0ff"/>
<rect x="1255.1" y="948.8" width="5.5" height="34.6" fill="#f5f5ff"/>
<rect x="1260.1" y="948.8" width="5.5" height="34.6" fill="#e4e4ff"/>
<rect x="1265.1" y="948.8" width="5.5" height="34.6" fill="#dedeff"/>
<rect x="1270.2" y="948.8" width="5.5" height="34.6" fill="#d8d8ff"/>
<rect x="1275.2" y="948.8" width="5.5" height="34.6" fill="#dedeff"/>
<rect x="1280.2" y="948.8" width="5.5" height="34.6" fill="#d3d3ff"/>
<rect x="1285.2" y="948.8" width="5.5" height="34.6" fill="#e4e4ff"/>
<rect x="1290.3" y="948.8" width="5.5" height="34.6" fill="#d8d8ff"/>
<rect x="1295.3" y="948.8" width="5.5" height="34.6" fill="#d3d3ff"/>
<rect x="1300.3" y="948.8" width="5.5" height="34.6" fill="#e4e4ff"/>
<rect x="1305.4" y="948.8" width="5.5" height="34.6" fill="#d3d3ff"/>
<rect x="1310.4" y="948.8" width="5.5" height="34.6" fill="#d8d8ff"/>
<rect x="1315.4" y="948.8" width="20.6" height="34.6" fill="#d3d3ff"/>
<rect x="1335.5" y="948.8" width="5.5" height="34.6" fill="#dedeff"/>
<rect x="1340.6" y="948.8" width="10.6" height="34.6" fill="#c1c1ff"/>
<rect x="1350.6" y="948.8" width="5.5" height="34.6" fill="#d3d3ff"/>
<rect x="1355.7" y="948.8" width="5.5" height="34.6" fill="#cdcdff"/>
<rect x="1360.7" y="948.8" width="5.5" height="34.6" fill="#b5b5ff"/>
<rect x="1365.7" y="948.8" width="5.5" height="34.6" fill="#c7c7ff"/>
<rect x="1370.8" y="948.8" width="5.5" height="34.6" fill="#d3d3ff"/>
<rect x="1375.8" y="948.8" width="5.5" height="34.6" fill="#c1c1ff"/>
<rect x="1380.8" y="948.8" width="10.6" height="34.6" fill="#c7c7ff"/>
<rect x="1390.9" y="948.8" width="5.5" height="34.6" fill="#b5b5ff"/>
<rect x="1395.9" y="948.8" width="5.5" height="34.6" fill="#c1c1ff"/>
<rect x="1400.9" y="948.8" width="5.5" height="34.6" fill="#cdcdff"/>
<rect x="1406" y="948.8" width="5.5" height="34.6" fill="#d3d3ff"/>
<rect x="1411" y="948.8" width="10.6" height="34.6" fill="#c7c7ff"/>
<rect x="1421.1" y="948.8" width="15.6" height="34.6" fill="#cdcdff"/>
<rect x="1436.2" y="948.8" width="5.5" height="34.6" fill="#c1c1ff"/>
<rect x="1441.2" y="948.8" width="5.5" height="34.6" fill="#c7c7ff"/>
<rect x="1446.2" y="948.8" width="10.6" height="34.6" fill="#cdcdff"/>
<rect x="1456.3" y="948.8" width="5.5" height="34.6" fill="#bbbbff"/>
<rect x="1461.3" y="948.8" width="5.5" height="34.6" fill="#d3d3ff"/>
<rect x="1466.3" y="948.8" width="8.2" height="34.6" fill="#cdcdff"/>
<rect x="958.3" y="914.8" width="5.5" height="34.6" fill="#eaeaff"/>
<rect x="963.3" y="914.8" width="10.6" height="34.6" fill="#ffffff"/>
<rect x="973.4" y="914.8" width="5.5" height="34.6" fill="#f5f5ff"/>
<rect x="978.4" y="914.8" width="5.5" height="34.6" fill="#ffdddd"/>
<rect x="983.4" y="914.8" width="5.5" height="34.6" fill="#ff6f6f"/>
<rect x="988.5" y="914.8" width="10.6" height="34.6" fill="#ff4a4a"/>
<rect x="998.5" y="914.8" width="5.5" height="34.6" fill="#ff6f6f"/>
<rect x="1003.6" y="914.8" width="35.7" height="34.6" fill="#ff0000"/>
<rect x="1038.8" y="914.8" width="5.5" height="34.6" fill="#ffb8b8"/>
<rect x="1043.8" y="914.8" width="5.5" height="34.6" fill="#ff6f6f"/>
<rect x="1048.8" y="914.8" width="5.5" height="34.6" fill="#ff4a4a"/>
<rect x="1053.9" y="914.8" width="5.5" height="34.6" fill="#ffffff"/>
<rect x="1058.9" y="914.8" width="10.6" height="34.6" fill="#ff0000"/>
<rect x="1069" y="914.8" width="5.5" height="34.6" fill="#ffdddd"/>
<rect x="1074" y="914.8" width="5.5" height="34.6" fill="#ffb8b8"/>
<rect x="1079" y="914.8" width="10.6" height="34.6" fill="#ff0000"/>
<rect x="1089.1" y="914.8" width="60.9" height="34.6" fill="#ffffff"/>
<rect x="1149.4" y="914.8" width="10.6" height="34.6" fill="#f0f0ff"/>
<rect x="1159.5" y="914.8" width="15.6" height="34.6" fill="#eaeaff"/>
<rect x="1174.6" y="914.8" width="5.5" height="34.6" fill="#f5f5ff"/>
<rect x="1179.6" y="914.8" width="5.5" height="34.6" fill="#d8d8ff"/>
<rect x="1184.7" y="914.8" width="15.6" height="34.6" fill="#d3d3ff"/>
<rect x="1199.7" y="914.8" width="5.5" height="34.6" fill="#d8d8ff"/>
<rect x="1204.8" y="914.8" width="5.5" height="34.6" fill="#d3d3ff"/>
<rect x="1209.8" y="914.8" width="5.5" height="34.6" fill="#d8d8ff"/>
<rect x="1214.8" y="914.8" width="5.5" height="34.6" fill="#dedeff"/>
<rect x="1219.9" y="914.8" width="5.5" height="34.6" fill="#d8d8ff"/>
<rect x="1224.9" y="914.8" width="5.5" height="34.6" fill="#dedeff"/>
<rect x="1229.9" y="914.8" width="5.5" height="34.6" fill="#cdcdff"/>
<rect x="1235" y="914.8" width="5.5" height="34.6" fill="#d8d8ff"/>
<rect x="1240" y="914.8" width="5.5" height="34.6" fill="#c1c1ff"/>
<rect x="1245" y="914.8" width="5.5" height="34.6" fill="#bbbbff"/>
<rect x="1250" y="914.8" width="5.5" height="34.6" fill="#c7c7ff"/>
<rect x="1255.1" y="914.8" width="5.5" height="34.6" fill="#c1c1ff"/>
<rect x="1260.1" y="914.8" width="10.6" height="34.6" fill="#bbbbff"/>
<rect x="1270.2" y="914.8" width="5.5" height="34.6" fill="#c1c1ff"/>
<rect x="1275.2" y="914.8" width="5.5" height="34.6" fill="#b5b5ff"/>
<rect x="1280.2" y="914.8" width="5.5" height="34.6" fill="#c1c1ff"/>
<rect x="1285.2" y="914.8" width="5.5" height="34.6" fill="#bbbbff"/>
<rect x="1290.3" y="914.8" width="5.5" height="34.6" fill="#c1c1ff"/>
<rect x="1295.3" y="914.8" width="10.6" height="34.6" fill="#bbbbff"/>
<rect x="1305.4" y="914.8" width="5.5" height="34.6" fill="#c1c1ff"/>
<rect x="1310.4" y="914.8" width="20.6" height="34.6" fill="#bbbbff"/>
<rect x="1330.5" y="914.8" width="20.6" height="34.6" fill="#b5b5ff"/>
<rect x="1350.6" y="914.8" width="5.5" height="34.6" fill="#bbbbff"/>
<rect x="1355.7" y="914.8" width="5.5" height="34.6" fill="#b5b5ff"/>
<rect x="1360.7" y="914.8" width="5.5" height="34.6" fill="#a4a4ff"/>
<rect x="1365.7" y="914.8" width="10.6" height="34.6" fill="#aaaaff"/>
<rect x="1375.8" y="914.8" width="5.5" height="34.6" fill="#b0b0ff"/>
<rect x="1380.8" y="914.8" width="5.5" height="34.6" fill="#aaaaff"/>
<rect x="1385.8" y="914.8" width="5.5" height="34.6" fill="#9898ff"/>
<rect x="1390.9" y="914.8" width="5.5" height="34.6" fill="#a4a4ff"/>
<rect x="1395.9" y="914.8" width="5.5" height="34.6" fill="#9292ff"/>
<rect x="1400.9" y="914.8" width="5.5" height="34.6" fill="#9e9eff"/>
<rect x="1406" y="914.8" width="10.6" height="34.6" fill="#9898ff"/>
<rect x="1416" y="914.8" width="5.5" height="34.6" fill="#a4a4ff"/>
<rect x="1421.1" y="914.8" width="15.6" height="34.6" fill="#9292ff"/>
<rect x="1436.2" y="914.8" width="5.5" height="34.6" fill="#9898ff"/>
<rect x="1441.2" y="914.8" width="5.5" height="34.6" fill="#8181ff"/>
<rect x="1446.2" y="914.8" width="5.5" height="34.6" fill="#9292ff"/>
<rect x="1451.2" y="914.8" width="5.5" height="34.6" fill="#8181ff"/>
<rect x="1456.3" y="914.8" width="5.5" height="34.6" fill="#7b7bff"/>
<rect x="1461.3" y="914.8" width="10.6" height="34.6" fill="#8181ff"/>
<rect x="1471.4" y="914.8" width="3.1" height="34.6" fill="#8d8dff"/>
<rect x="958.3" y="880.7" width="15.6" height="34.6" fill="#ffffff"/>
<rect x="973.4" y="880.7" width="5.5" height="34.6" fill="#ffb8b8"/>
<rect x="978.4" y="880.7" width="10.6" height="34.6" fill="#ff0000"/>
<rect x="988.5" y="880.7" width="5.5" height="34.6" fill="#ff2525"/>
<rect x="993.5" y="880.7" width="5.5" height="34.6" fill="#ff0000"/>
<rect x="998.5" y="880.7" width="5.5" height="34.6" fill="#ff6f6f"/>
<rect x="1003.6" y="880.7" width="5.5" height="34.6" fill="#ff2525"/>
<rect x="1008.6" y="880.7" width="10.6" height="34.6" fill="#ff4a4a"/>
<rect x="1018.7" y="880.7" width="5.5" height="34.6" fill="#ff6f6f"/>
<rect x="1023.7" y="880.7" width="5.5" height="34.6" fill="#ff0000"/>
<rect x="1028.7" y="880.7" width="5.5" height="34.6" fill="#ff4a4a"/>
<rect x="1033.8" y="880.7" width="5.5" height="34.6" fill="#ff2525"/>
<rect x="1038.8" y="880.7" width="15.6" height="34.6" fill="#ff4a4a"/>
<rect x="1053.9" y="880.7" width="5.5" height="34.6" fill="#ffffff"/>
<rect x="1058.9" y="880.7" width="5.5" height="34.6" fill="#ffb8b8"/>
<rect x="1063.9" y="880.7" width="45.8" height="34.6" fill="#ffffff"/>
<rect x="1109.2" y="880.7" width="5.5" height="34.6" fill="#f5f5ff"/>
<rect x="1114.2" y="880.7" width="5.5" height="34.6" fill="#f0f0ff"/>
<rect x="1119.3" y="880.7" width="10.6" height="34.6" fill="#e4e4ff"/>
<rect x="1129.3" y="880.7" width="10.6" height="34.6" fill="#dedeff"/>
<rect x="1139.4" y="880.7" width="5.5" height="34.6" fill="#d8d8ff"/>
<rect x="1144.4" y="880.7" width="5.5" height="34.6" fill="#d3d3ff"/>
<rect x="1149.4" y="880.7" width="5.5" height="34.6" fill="#cdcdff"/>
<rect x="1154.5" y="880.7" width="5.5" height="34.6" fill="#d3d3ff"/>
<rect x="1159.5" y="880.7" width="5.5" height="34.6" fill="#c7c7ff"/>
<rect x="1164.5" y="880.7" width="10.6" height="34.6" fill="#c1c1ff"/>
<rect x="1174.6" y="880.7" width="5.5" height="34.6" fill="#b5b5ff"/>
<rect x="1179.6" y="880.7" width="5.5" height="34.6" fill="#bbbbff"/>
<rect x="1184.7" y="880.7" width="5.5" height="34.6" fill="#b5b5ff"/>
<rect x="1189.7" y="880.7" width="10.6" height="34.6" fill="#b0b0ff"/>
<rect x="1199.7" y="880.7" width="10.6" height="34.6" fill="#aaaaff"/>
<rect x="1209.8" y="880.7" width="10.6" height="34.6" fill="#a4a4ff"/>
<rect x="1219.9" y="880.7" width="10.6" height="34.6" fill="#9e9eff"/>
<rect x="1229.9" y="880.7" width="10.6" height="34.6" fill="#9898ff"/>
<rect x="1240" y="880.7" width="10.6" height="34.6" fill="#9292ff"/>
<rect x="1250" y="880.7" width="10.6" height="34.6" fill="#8d8dff"/>
<rect x="1260.1" y="880.7" width="10.6" height="34.6" fill="#8787ff"/>
<rect x="1270.2" y="880.7" width="15.6" height="34.6" fill="#8181ff"/>
<rect x="1285.2" y="880.7" width="5.5" height="34.6" fill="#7b7bff"/>
<rect x="1290.3" y="880.7" width="15.6" height="34.6" fill="#7575ff"/>
<rect x="1305.4" y="880.7" width="5.5" height="34.6" fill="#7070ff"/>
<rect x="1310.4" y="880.7" width="15.6" height="34.6" fill="#6a6aff"/>
<rect x="1325.5" y="880.7" width="20.6" height="34.6" fill="#6464ff"/>
<rect x="1345.6" y="880.7" width="15.6" height="34.6" fill="#5e5eff"/>
<rect x="1360.7" y="880.7" width="10.6" height="34.6" fill="#5858ff"/>
<rect x="1370.8" y="880.7" width="5.5" height="34.6" fill="#5252ff"/>
<rect x="1375.8" y="880.7" width="5.5" height="34.6" fill="#5858ff"/>
<rect x="1380.8" y="880.7" width="20.6" height="34.6" fill="#5252ff"/>
<rect x="1400.9" y="880.7" width="5.5" height="34.6" fill="#4d4dff"/>
<rect x="1406" y="880.7" width="5.5" height="34.6" fill="#5252ff"/>
<rect x="1411" y="880.7" width="5.5" height="34.6" fill="#4d4dff"/>
<rect x="1416" y="880.7" width="10.6" height="34.6" fill="#4747ff"/>
<rect x="1426.1" y="880.7" width="5.5" height="34.6" fill="#4141ff"/>
<rect x="1431.1" y="880.7" width="5.5" height="34.6" fill="#4747ff"/>
<rect x="1436.2" y="880.7" width="10.6" height="34.6" fill="#4141ff"/>
<rect x="1446.2" y="880.7" width="5.5" height="34.6" fill="#4747ff"/>
<rect x="1451.2" y="880.7" width="15.6" height="34.6" fill="#4141ff"/>
<rect x="1466.3" y="880.7" width="5.5" height="34.6" fill="#3535ff"/>
<rect x="1471.4" y="880.7" width="3.1" height="34.6" fill="#3b3bff"/>
<rect x="958.3" y="846.7" width="15.6" height="34.6" fill="#ffffff"/>
<rect x="973.4" y="846.7" width="5.5" height="34.6" fill="#ff4a4a"/>
<rect x="978.4" y="846.7" width="10.6" height="34.6" fill="#ff2525"/>
<rect x="988.5" y="846.7" width="10.6" height="34.6" fill="#ff0000"/>
<rect x="998.5" y="846.7" width="5.5" height="34.6" fill="#ff2525"/>
<rect x="1003.6" y="846.7" width="5.5" height="34.6" fill="#ff6f6f"/>
<rect x="1008.6" y="846.7" width="20.6" height="34.6" fill="#ff0000"/>
<rect x="1028.7" y="846.7" width="5.5" height="34.6" fill="#ff6f6f"/>
<rect x="1033.8" y="846.7" width="5.5" height="34.6" fill="#ff4a4a"/>
<rect x="1038.8" y="846.7" width="5.5" height="34.6" fill="#ffb8b8"/>
<rect x="1043.8" y="846.7" width="5.5" height="34.6" fill="#ff9494"/>
<rect x="1048.8" y="846.7" width="5.5" height="34.6" fill="#ff6f6f"/>
<rect x="1053.9" y="846.7" width="10.6" height="34.6" fill="#ffb8b8"/>
<rect x="1063.9" y="846.7" width="35.7" height="34.6" fill="#ffffff"/>
<rect x="1099.1" y="846.7" width="5.5" height="34.6" fill="#fbfbff"/>
<rect x="1104.2" y="846.7" width="5.5" height="34.6" fill="#eaeaff"/>
<rect x="1109.2" y="846.7" width="10.6" height="34.6" fill="#dedeff"/>
<rect x="1119.3" y="846.7" width="5.5" height="34.6" fill="#d8d8ff"/>
<rect x="1124.3" y="846.7" width="5.5" height="34.6" fill="#d3d3ff"/>
<rect x="1129.3" y="846.7" width="15.6" height="34.6" fill="#cdcdff"/>
<rect x="1144.4" y="846.7" width="10.6" height="34.6" fill="#c7c7ff"/>
<rect x="1154.5" y="846.7" width="10.6" height="34.6" fill="#c1c1ff"/>
<rect x="1164.5" y="846.7" width="10.6" height="34.6" fill="#bbbbff"/>
<rect x="1174.6" y="846.7" width="5.5" height="34.6" fill="#b5b5ff"/>
<rect x="1179.6" y="846.7" width="10.6" height="34.6" fill="#b0b0ff"/>
<rect x="1189.7" y="846.7" width="10.6" height="34.6" fill="#aaaaff"/>
<rect x="1199.7" y="846.7" width="15.6" height="34.6" fill="#a4a4ff"/>
<rect x="1214.8" y="846.7" width="5.5" height="34.6" fill="#9e9eff"/>
<rect x="1219.9" y="846.7" width="10.6" height="34.6" fill="#9898ff"/>
<rect x="1229.9" y="846.7" width="10.6" height="34.6" fill="#9292ff"/>
<rect x="1240" y="846.7" width="5.5" height="34.6" fill="#8d8dff"/>
<rect x="1245" y="846.7" width="10.6" height="34.6" fill="#8787ff"/>
<rect x="1255.1" y="846.7" width="10.6" height="34.6" fill="#8181ff"/>
<rect x="1265.1" y="846.7" width="15.6" height="34.6" fill="#7b7bff"/>
<rect x="1280.2" y="846.7" width="5.5" height="34.6" fill="#7575ff"/>
<rect x="1285.2" y="846.7" width="10.6" height="34.6" fill="#7070ff"/>
<rect x="1295.3" y="846.7" width="25.7" height="34.6" fill="#6a6aff"/>
<rect x="1320.5" y="846.7" width="5.5" height="34.6" fill="#6464ff"/>
<rect x="1325.5" y="846.7" width="15.6" height="34.6" fill="#5e5eff"/>
<rect x="1340.6" y="846.7" width="10.6" height="34.6" fill="#5858ff"/>
<rect x="1350.6" y="846.7" width="20.6" height="34.6" fill="#5252ff"/>
<rect x="1370.8" y="846.7" width="10.6" height="34.6" fill="#4d4dff"/>
<rect x="1380.8" y="846.7" width="5.5" height="34.6" fill="#4747ff"/>
<rect x="1385.8" y="846.7" width="5.5" height="34.6" fill="#4d4dff"/>
<rect x="1390.9" y="846.7" width="5.5" height="34.6" fill="#4747ff"/>
<rect x="1395.9" y="846.7" width="25.7" height="34.6" fill="#4141ff"/>
<rect x="1421.1" y="846.7" width="5.5" height="34.6" fill="#3b3bff"/>
<rect x="1426.1" y="846.7" width="5.5" height="34.6" fill="#4141ff"/>
<rect x="1431.1" y="846.7" width="10.6" height="34.6" fill="#3b3bff"/>
<rect x="1441.2" y="846.7" width="10.6" height="34.6" fill="#4141ff"/>
<rect x="1451.2" y="846.7" width="10.6" height="34.6" fill="#3b3bff"/>
<rect x="1461.3" y="846.7" width="10.6" height="34.6" fill="#3535ff"/>
<rect x="1471.4" y="846.7" width="3.1" height="34.6" fill="#3030ff"/>
<rect x="958.3" y="812.6" width="10.6" height="34.6" fill="#ffffff"/>
<rect x="968.4" y="812.6" width="10.6" height="34.6" fill="#ff4a4a"/>
<rect x="978.4" y="812.6" width="5.5" height="34.6" fill="#ff0000"/>
<rect x="983.4" y="812.6" width="5.5" height="34.6" fill="#ff4a4a"/>
<rect x="988.5" y="812.6" width="15.6" height="34.6" fill="#ff2525"/>
<rect x="1003.6" y="812.6" width="5.5" height="34.6" fill="#ff4a4a"/>
<rect x="1008.6" y="812.6" width="5.5" height="34.6" fill="#ff0000"/>
<rect x="1013.6" y="812.6" width="5.5" height="34.6" fill="#ff9494"/>
<rect x="1018.7" y="812.6" width="5.5" height="34.6" fill="#ff4a4a"/>
<rect x="1023.7" y="812.6" width="5.5" height="34.6" fill="#ffb8b8"/>
<rect x="1028.7" y="812.6" width="5.5" height="34.6" fill="#ff9494"/>
<rect x="1033.8" y="812.6" width="5.5" height="34.6" fill="#ffdddd"/>
<rect x="1038.8" y="812.6" width="40.7" height="34.6" fill="#ffffff"/>
<rect x="1079" y="812.6" width="5.5" height="34.6" fill="#fbfbff"/>
<rect x="1084" y="812.6" width="5.5" height="34.6" fill="#f0f0ff"/>
<rect x="1089.1" y="812.6" width="5.5" height="34.6" fill="#eaeaff"/>
<rect x="1094.1" y="812.6" width="5.5" height="34.6" fill="#e4e4ff"/>
<rect x="1099.1" y="812.6" width="10.6" height="34.6" fill="#dedeff"/>
<rect x="1109.2" y="812.6" width="10.6" height="34.6" fill="#d8d8ff"/>
<rect x="1119.3" y="812.6" width="5.5" height="34.6" fill="#cdcdff"/>
<rect x="1124.3" y="812.6" width="5.5" height="34.6" fill="#d3d3ff"/>
<rect x="1129.3" y="812.6" width="5.5" height="34.6" fill="#c7c7ff"/>
<rect x="1134.3" y="812.6" width="10.6" height="34.6" fill="#c1c1ff"/>
<rect x="1144.4" y="812.6" width="10.6" height="34.6" fill="#b5b5ff"/>
<rect x="1154.5" y="812.6" width="5.5" height="34.6" fill="#b0b0ff"/>
<rect x="1159.5" y="812.6" width="5.5" height="34.6" fill="#aaaaff"/>
<rect x="1164.5" y="812.6" width="5.5" height="34.6" fill="#a4a4ff"/>
<rect x="1169.6" y="812.6" width="10.6" height="34.6" fill="#9e9eff"/>
<rect x="1179.6" y="812.6" width="5.5" height="34.6" fill="#9898ff"/>
<rect x="1184.7" y="812.6" width="5.5" height="34.6" fill="#9292ff"/>
<rect x="1189.7" y="812.6" width="5.5" height="34.6" fill="#8d8dff"/>
<rect x="1194.7" y="812.6" width="15.6" height="34.6" fill="#8787ff"/>
<rect x="1209.8" y="812.6" width="15.6" height="34.6" fill="#8181ff"/>
<rect x="1224.9" y="812.6" width="5.5" height="34.6" fill="#7b7bff"/>
<rect x="1229.9" y="812.6" width="15.6" height="34.6" fill="#7575ff"/>
<rect x="1245" y="812.6" width="10.6" height="34.6" fill="#7070ff"/>
<rect x="1255.1" y="812.6" width="15.6" height="34.6" fill="#6464ff"/>
<rect x="1270.2" y="812.6" width="5.5" height="34.6" fill="#5e5eff"/>
<rect x="1275.2" y="812.6" width="5.5" height="34.6" fill="#5858ff"/>
<rect x="1280.2" y="812.6" width="10.6" height="34.6" fill="#5252ff"/>
<rect x="1290.3" y="812.6" width="15.6" height="34.6" fill="#4d4dff"/>
<rect x="1305.4" y="812.6" width="5.5" height="34.6" fill="#4747ff"/>
<rect x="1310.4" y="812.6" width="5.5" height="34.6" fill="#4d4dff"/>
<rect x="1315.4" y="812.6" width="5.5" height="34.6" fill="#4141ff"/>
<rect x="1320.5" y="812.6" width="5.5" height="34.6" fill="#4747ff"/>
<rect x="1325.5" y="812.6" width="15.6" height="34.6" fill="#4141ff"/>
<rect x="1340.6" y="812.6" width="10.6" height="34.6" fill="#3b3bff"/>
<rect x="1350.6" y="812.6" width="15.6" height="34.6" fill="#3535ff"/>
<rect x="1365.7" y="812.6" width="5.5" height="34.6" fill="#3030ff"/>
<rect x="1370.8" y="812.6" width="5.5" height="34.6" fill="#3535ff"/>
<rect x="1375.8" y="812.6" width="10.6" height="34.6" fill="#3030ff"/>
<rect x="1385.8" y="812.6" width="5.5" height="34.6" fill="#3535ff"/>
<rect x="1390.9" y="812.6" width="5.5" height="34.6" fill="#3030ff"/>
<rect x="1395.9" y="812.6" width="5.5" height="34.6" fill="#3535ff"/>
<rect x="1400.9" y="812.6" width="30.7" height="34.6" fill="#3030ff"/>
<rect x="1431.1" y="812.6" width="15.6" height="34.6" fill="#2a2aff"/>
<rect x="1446.2" y="812.6" width="5.5" height="34.6" fill="#3030ff"/>
<rect x="1451.2" y="812.6" width="5.5" height="34.6" fill="#2424ff"/>
<rect x="1456.3" y="812.6" width="15.6" height="34.6" fill="#2a2aff"/>
<rect x="1471.4" y="812.6" width="3.1" height="34.6" fill="#2424ff"/>
<rect x="958.3" y="778.5" width="10.6" height="34.6" fill="#ffffff"/>
<rect x="968.4" y="778.5" width="5.5" height="34.6" fill="#ff4a4a"/>
<rect x="973.4" y="778.5" width="5.5" height="34.6" fill="#ffdddd"/>
<rect x="978.4" y="778.5" width="5.5" height="34.6" fill="#ff2525"/>
<rect x="983.4" y="778.5" width="30.7" height="34.6" fill="#ff0000"/>
<rect x="1013.6" y="778.5" width="15.6" height="34.6" fill="#ff9494"/>
<rect x="1028.7" y="778.5" width="5.5" height="34.6" fill="#ff4a4a"/>
<rect x="1033.8" y="778.5" width="40.7" height="34.6" fill="#ffffff"/>
<rect x="1074" y="778.5" width="5.5" height="34.6" fill="#fbfbff"/>
<rect x="1079" y="778.5" width="5.5" height="34.6" fill="#f0f0ff"/>
<rect x="1084" y="778.5" width="5.5" height="34.6" fill="#eaeaff"/>
<rect x="1089.1" y="778.5" width="5.5" height="34.6" fill="#e4e4ff"/>
<rect x="1094.1" y="778.5" width="5.5" height="34.6" fill="#dedeff"/>
<rect x="1099.1" y="778.5" width="5.5" height="34.6" fill="#d8d8ff"/>
<rect x="1104.2" y="778.5" width="10.6" height="34.6" fill="#d3d3ff"/>
<rect x="1114.2" y="778.5" width="5.5" height="34.6" fill="#cdcdff"/>
<rect x="1119.3" y="778.5" width="5.5" height="34.6" fill="#c7c7ff"/>
<rect x="1124.3" y="778.5" width="5.5" height="34.6" fill="#c1c1ff"/>
<rect x="1129.3" y="778.5" width="10.6" height="34.6" fill="#bbbbff"/>
<rect x="1139.4" y="778.5" width="5.5" height="34.6" fill="#b5b5ff"/>
<rect x="1144.4" y="778.5" width="5.5" height="34.6" fill="#b0b0ff"/>
<rect x="1149.4" y="778.5" width="10.6" height="34.6" fill="#aaaaff"/>
<rect x="1159.5" y="778.5" width="5.5" height="34.6" fill="#a4a4ff"/>
<rect x="1164.5" y="778.5" width="5.5" height="34.6" fill="#9e9eff"/>
<rect x="1169.6" y="778.5" width="10.6" height="34.6" fill="#9898ff"/>
<rect x="1179.6" y="778.5" width="15.6" height="34.6" fill="#8d8dff"/>
<rect x="1194.7" y="778.5" width="10.6" height="34.6" fill="#8181ff"/>
<rect x="1204.8" y="778.5" width="5.5" height="34.6" fill="#7b7bff"/>
<rect x="1209.8" y="778.5" width="10.6" height="34.6" fill="#7575ff"/>
<rect x="1219.9" y="778.5" width="10.6" height="34.6" fill="#7070ff"/>
<rect x="1229.9" y="778.5" width="5.5" height="34.6" fill="#6a6aff"/>
<rect x="1235" y="778.5" width="5.5" height="34.6" fill="#6464ff"/>
<rect x="1240" y="778.5" width="10.6" height="34.6" fill="#5e5eff"/>
<rect x="1250" y="778.5" width="10.6" height="34.6" fill="#5858ff"/>
<rect x="1260.1" y="778.5" width="15.6" height="34.6" fill="#5252ff"/>
<rect x="1275.2" y="778.5" width="25.6" height="34.6" fill="#4747ff"/>
<rect x="1300.3" y="778.5" width="10.6" height="34.6" fill="#4141ff"/>
<rect x="1310.4" y="778.5" width="25.6" height="34.6" fill="#3b3bff"/>
<rect x="1335.5" y="778.5" width="15.6" height="34.6" fill="#3535ff"/>
<rect x="1350.6" y="778.5" width="10.6" height="34.6" fill="#3030ff"/>
<rect x="1360.7" y="778.5" width="5.5" height="34.6" fill="#2a2aff"/>
<rect x="1365.7" y="778.5" width="20.6" height="34.6" fill="#3030ff"/>
<rect x="1385.8" y="778.5" width="40.7" height="34.6" fill="#2a2aff"/>
<rect x="1426.1" y="778.5" width="30.7" height="34.6" fill="#2424ff"/>
<rect x="1456.3" y="778.5" width="10.6" height="34.6" fill="#1e1eff"/>
<rect x="1466.3" y="778.5" width="5.5" height="34.6" fill="#2424ff"/>
<rect x="1471.4" y="778.5" width="3.1" height="34.6" fill="#1e1eff"/>
<rect x="958.3" y="744.5" width="5.5" height="34.6" fill="#ffffff"/>
<rect x="963.3" y="744.5" width="5.5" height="34.6" fill="#ff9494"/>
<rect x="968.4" y="744.5" width="5.5" height="34.6" fill="#ff0000"/>
<rect x="973.4" y="744.5" width="5.5" height="34.6" fill="#ff4a4a"/>
<rect x="978.4" y="744.5" width="10.6" height="34.6" fill="#ff0000"/>
<rect x="988.5" y="744.5" width="10.6" height="34.6" fill="#ff6f6f"/>
<rect x="998.5" y="744.5" width="5.5" height="34.6" fill="#ff9494"/>
<rect x="1003.6" y="744.5" width="10.6" height="34.6" fill="#ff6f6f"/>
<rect x="1013.6" y="744.5" width="5.5" height="34.6" fill="#ff9494"/>
<rect x="1018.7" y="744.5" width="5.5" height="34.6" fill="#ffb8b8"/>
<rect x="1023.7" y="744.5" width="40.7" height="34.6" fill="#ffffff"/>
<rect x="1063.9" y="744.5" width="5.5" height="34.6" fill="#f5f5ff"/>
<rect x="1069" y="744.5" width="5.5" height="34.6" fill="#f0f0ff"/>
<rect x="1074" y="744.5" width="5.5" height="34.6" fill="#e4e4ff"/>
<rect x="1079" y="744.5" width="10.6" height="34.6" fill="#d8d8ff"/>
<rect x="1089.1" y="744.5" width="5.5" height="34.6" fill="#cdcdff"/>
<rect x="1094.1" y="744.5" width="5.5" height="34.6" fill="#c7c7ff"/>
<rect x="1099.1" y="744.5" width="5.5" height="34.6" fill="#cdcdff"/>
<rect x="1104.2" y="744.5" width="5.5" height="34.6" fill="#c1c1ff"/>
<rect x="1109.2" y="744.5" width="5.5" height="34.6" fill="#bbbbff"/>
<rect x="1114.2" y="744.5" width="10.6" height="34.6" fill="#b5b5ff"/>
<rect x="1124.3" y="744.5" width="5.5" height="34.6" fill="#aaaaff"/>
<rect x="1129.3" y="744.5" width="10.6" height="34.6" fill="#a4a4ff"/>
<rect x="1139.4" y="744.5" width="5.5" height="34.6" fill="#9e9eff"/>
<rect x="1144.4" y="744.5" width="5.5" height="34.6" fill="#9898ff"/>
<rect x="1149.4" y="744.5" width="15.6" height="34.6" fill="#8d8dff"/>
<rect x="1164.5" y="744.5" width="10.6" height="34.6" fill="#8181ff"/>
<rect x="1174.6" y="744.5" width="5.5" height="34.6" fill="#7b7bff"/>
<rect x="1179.6" y="744.5" width="15.6" height="34.6" fill="#7575ff"/>
<rect x="1194.7" y="744.5" width="5.5" height="34.6" fill="#6a6aff"/>
<rect x="1199.7" y="744.5" width="5.5" height="34.6" fill="#7070ff"/>
<rect x="1204.8" y="744.5" width="10.6" height="34.6" fill="#6464ff"/>
<rect x="1214.8" y="744.5" width="5.5" height="34.6" fill="#5e5eff"/>
<rect x="1219.9" y="744.5" width="15.6" height="34.6" fill="#5858ff"/>
<rect x="1235" y="744.5" width="5.5" height="34.6" fill="#5252ff"/>
<rect x="1240" y="744.5" width="10.6" height="34.6" fill="#4d4dff"/>
<rect x="1250" y="744.5" width="10.6" height="34.6" fill="#4747ff"/>
<rect x="1260.1" y="744.5" width="10.6" height="34.6" fill="#4141ff"/>
<rect x="1270.2" y="744.5" width="5.5" height="34.6" fill="#3b3bff"/>
<rect x="1275.2" y="744.5" width="15.6" height="34.6" fill="#3535ff"/>
<rect x="1290.3" y="744.5" width="5.5" height="34.6" fill="#3030ff"/>
<rect x="1295.3" y="744.5" width="5.5" height="34.6" fill="#3535ff"/>
<rect x="1300.3" y="744.5" width="10.6" height="34.6" fill="#3030ff"/>
<rect x="1310.4" y="744.5" width="15.6" height="34.6" fill="#2a2aff"/>
<rect x="1325.5" y="744.5" width="15.6" height="34.6" fill="#2424ff"/>
<rect x="1340.6" y="744.5" width="15.6" height="34.6" fill="#1e1eff"/>
<rect x="1355.7" y="744.5" width="5.5" height="34.6" fill="#1818ff"/>
<rect x="1360.7" y="744.5" width="10.6" height="34.6" fill="#1e1eff"/>
<rect x="1370.8" y="744.5" width="5.5" height="34.6" fill="#1818ff"/>
<rect x="1375.8" y="744.5" width="5.5" height="34.6" fill="#1212ff"/>
<rect x="1380.8" y="744.5" width="10.6" height="34.6" fill="#1818ff"/>
<rect x="1390.9" y="744.5" width="55.8" height="34.6" fill="#1212ff"/>
<rect x="1446.2" y="744.5" width="5.5" height="34.6" fill="#0707ff"/>
<rect x="1451.2" y="744.5" width="23.3" height="34.6" fill="#0d0dff"/>
<rect x="958.3" y="710.4" width="5.5" height="34.6" fill="#ffdddd"/>
<rect x="963.3" y="710.4" width="10.6" height="34.6" fill="#ff2525"/>
<rect x="973.4" y="710.4" width="5.5" height="34.6" fill="#ff0000"/>
<rect x="978.4" y="710.4" width="5.5" height="34.6" fill="#ff2525"/>
<rect x="983.4" y="710.4" width="5.5" height="34.6" fill="#ff9494"/>
<rect x="988.5" y="710.4" width="5.5" height="34.6" fill="#ff4a4a"/>
<rect x="993.5" y="710.4" width="5.5" height="34.6" fill="#ff2525"/>
<rect x="998.5" y="710.4" width="5.5" height="34.6" fill="#ff9494"/>
<rect x="1003.6" y="710.4" width="10.6" height="34.6" fill="#ff6f6f"/>
<rect x="1013.6" y="710.4" width="5.5" height="34.6" fill="#ff9494"/>
<rect x="1018.7" y="710.4" width="5.5" height="34.6" fill="#ffb8b8"/>
<rect x="1023.7" y="710.4" width="35.7" height="34.6" fill="#ffffff"/>
<rect x="1058.9" y="710.4" width="5.5" height="34.6" fill="#f5f5ff"/>
<rect x="1063.9" y="710.4" width="5.5" height="34.6" fill="#eaeaff"/>
<rect x="1069" y="710.4" width="5.5" height="34.6" fill="#d8d8ff"/>
<rect x="1074" y="710.4" width="5.5" height="34.6" fill="#dedeff"/>
<rect x="1079" y="710.4" width="5.5" height="34.6" fill="#d3d3ff"/>
<rect x="1084" y="710.4" width="10.6" height="34.6" fill="#cdcdff"/>
<rect x="1094.1" y="710.4" width="10.6" height="34.6" fill="#c1c1ff"/>
<rect x="1104.2" y="710.4" width="10.6" height="34.6" fill="#b5b5ff"/>
<rect x="1114.2" y="710.4" width="5.5" height="34.6" fill="#b0b0ff"/>
<rect x="1119.3" y="710.4" width="5.5" height="34.6" fill="#aaaaff"/>
<rect x="1124.3" y="710.4" width="5.5" height="34.6" fill="#a4a4ff"/>
<rect x="1129.3" y="710.4" width="5.5" height="34.6" fill="#9e9eff"/>
<rect x="1134.3" y="710.4" width="10.6" height="34.6" fill="#9898ff"/>
<rect x="1144.4" y="710.4" width="5.5" height="34.6" fill="#9292ff"/>
<rect x="1149.4" y="710.4" width="10.6" height="34.6" fill="#8787ff"/>
<rect x="1159.5" y="710.4" width="5.5" height="34.6" fill="#8181ff"/>
<rect x="1164.5" y="710.4" width="10.6" height="34.6" fill="#7b7bff"/>
<rect x="1174.6" y="710.4" width="10.6" height="34.6" fill="#7070ff"/>
<rect x="1184.7" y="710.4" width="10.6" height="34.6" fill="#6a6aff"/>
<rect x="1194.7" y="710.4" width="10.6" height="34.6" fill="#6464ff"/>
<rect x="1204.8" y="710.4" width="10.6" height="34.6" fill="#5e5eff"/>
<rect x="1214.8" y="710.4" width="5.5" height="34.6" fill="#5858ff"/>
<rect x="1219.9" y="710.4" width="10.6" height="34.6" fill="#5252ff"/>
<rect x="1229.9" y="710.4" width="20.6" height="34.6" fill="#4d4dff"/>
<rect x="1250" y="710.4" width="10.6" height="34.6" fill="#4747ff"/>
<rect x="1260.1" y="710.4" width="5.5" height="34.6" fill="#3b3bff"/>
<rect x="1265.1" y="710.4" width="10.6" height="34.6" fill="#4141ff"/>
<rect x="1275.2" y="710.4" width="5.5" height="34.6" fill="#3b3bff"/>
<rect x="1280.2" y="710.4" width="10.6" height="34.6" fill="#3535ff"/>
<rect x="1290.3" y="710.4" width="5.5" height="34.6" fill="#3030ff"/>
<rect x="1295.3" y="710.4" width="5.5" height="34.6" fill="#3535ff"/>
<rect x="1300.3" y="710.4" width="5.5" height="34.6" fill="#2a2aff"/>
<rect x="1305.4" y="710.4" width="5.5" height="34.6" fill="#3535ff"/>
<rect x="1310.4" y="710.4" width="5.5" height="34.6" fill="#3030ff"/>
<rect x="1315.4" y="710.4" width="5.5" height="34.6" fill="#2a2aff"/>
<rect x="1320.5" y="710.4" width="5.5" height="34.6" fill="#2424ff"/>
<rect x="1325.5" y="710.4" width="10.6" height="34.6" fill="#2a2aff"/>
<rect x="1335.5" y="710.4" width="10.6" height="34.6" fill="#2424ff"/>
<rect x="1345.6" y="710.4" width="5.5" height="34.6" fill="#1e1eff"/>
<rect x="1350.6" y="710.4" width="10.6" height="34.6" fill="#2424ff"/>
<rect x="1360.7" y="710.4" width="15.6" height="34.6" fill="#1e1eff"/>
<rect x="1375.8" y="710.4" width="5.5" height="34.6" fill="#1818ff"/>
<rect x="1380.8" y="710.4" width="5.5" height="34.6" fill="#1212ff"/>
<rect x="1385.8" y="710.4" width="5.5" height="34.6" fill="#1818ff"/>
<rect x="1390.9" y="710.4" width="10.6" height="34.6" fill="#1212ff"/>
<rect x="1400.9" y="710.4" width="10.6" height="34.6" fill="#0d0dff"/>
<rect x="1411" y="710.4" width="5.5" height="34.6" fill="#1212ff"/>
<rect x="1416" y="710.4" width="15.6" height="34.6" fill="#0d0dff"/>
<rect x="1431.1" y="710.4" width="5.5" height="34.6" fill="#0707ff"/>
<rect x="1436.2" y="710.4" width="5.5" height="34.6" fill="#1212ff"/>
<rect x="1441.2" y="710.4" width="5.5" height="34.6" fill="#0707ff"/>
<rect x="1446.2" y="710.4" width="15.6" height="34.6" fill="#0d0dff"/>
<rect x="1461.3" y="710.4" width="10.6" height="34.6" fill="#0707ff"/>
<rect x="1471.4" y="710.4" width="3.1" height="34.6" fill="#0d0dff"/>
<rect x="958.3" y="676.4" width="5.5" height="34.6" fill="#ff6f6f"/>
<rect x="963.3" y="676.4" width="25.6" height="34.6" fill="#ff0000"/>
<rect x="988.5" y="676.4" width="5.5" height="34.6" fill="#ff2525"/>
<rect x="993.5" y="676.4" width="5.5" height="34.6" fill="#ff4a4a"/>
<rect x="998.5" y="676.4" width="5.5" height="34.6" fill="#ff2525"/>
<rect x="1003.6" y="676.4" width="5.5" height="34.6" fill="#ff4a4a"/>
<rect x="1008.6" y="676.4" width="5.5" height="34.6" fill="#ffb8b8"/>
<rect x="1013.6" y="676.4" width="35.7" height="34.6" fill="#ffffff"/>
<rect x="1048.8" y="676.4" width="20.6" height="34.6" fill="#eaeaff"/>
<rect x="1069" y="676.4" width="5.5" height="34.6" fill="#dedeff"/>
<rect x="1074" y="676.4" width="5.5" height="34.6" fill="#d8d8ff"/>
<rect x="1079" y="676.4" width="5.5" height="34.6" fill="#cdcdff"/>
<rect x="1084" y="676.4" width="5.5" height="34.6" fill="#c7c7ff"/>
<rect x="1089.1" y="676.4" width="5.5" height="34.6" fill="#c1c1ff"/>
<rect x="1094.1" y="676.4" width="10.6" height="34.6" fill="#bbbbff"/>
<rect x="1104.2" y="676.4" width="5.5" height="34.6" fill="#b0b0ff"/>
<rect x="1109.2" y="676.4" width="5.5" height="34.6" fill="#aaaaff"/>
<rect x="1114.2" y="676.4" width="5.5" height="34.6" fill="#a4a4ff"/>
<rect x="1119.3" y="676.4" width="10.6" height="34.6" fill="#9e9eff"/>
<rect x="1129.3" y="676.4" width="5.5" height="34.6" fill="#9292ff"/>
<rect x="1134.3" y="676.4" width="5.5" height="34.6" fill="#8d8dff"/>
<rect x="1139.4" y="676.4" width="5.5" height="34.6" fill="#8787ff"/>
<rect x="1144.4" y="676.4" width="10.6" height="34.6" fill="#8181ff"/>
<rect x="1154.5" y="676.4" width="10.6" height="34.6" fill="#7575ff"/>
<rect x="1164.5" y="676.4" width="5.5" height="34.6" fill="#7070ff"/>
<rect x="1169.6" y="676.4" width="10.6" height="34.6" fill="#6464ff"/>
<rect x="1179.6" y="676.4" width="15.6" height="34.6" fill="#5e5eff"/>
<rect x="1194.7" y="676.4" width="5.5" height="34.6" fill="#5858ff"/>
<rect x="1199.7" y="676.4" width="10.6" height="34.6" fill="#5252ff"/>
<rect x="1209.8" y="676.4" width="5.5" height="34.6" fill="#4d4dff"/>
<rect x="1214.8" y="676.4" width="15.6" height="34.6" fill="#4747ff"/>
<rect x="1229.9" y="676.4" width="5.5" height="34.6" fill="#4141ff"/>
<rect x="1235" y="676.4" width="10.6" height="34.6" fill="#3b3bff"/>
<rect x="1245" y="676.4" width="10.6" height="34.6" fill="#3535ff"/>
<rect x="1255.1" y="676.4" width="10.6" height="34.6" fill="#3030ff"/>
<rect x="1265.1" y="676.4" width="5.5" height="34.6" fill="#2a2aff"/>
<rect x="1270.2" y="676.4" width="5.5" height="34.6" fill="#2424ff"/>
<rect x="1275.2" y="676.4" width="5.5" height="34.6" fill="#2a2aff"/>
<rect x="1280.2" y="676.4" width="10.6" height="34.6" fill="#2424ff"/>
<rect x="1290.3" y="676.4" width="15.6" height="34.6" fill="#1e1eff"/>
<rect x="1305.4" y="676.4" width="20.6" height="34.6" fill="#1818ff"/>
<rect x="1325.5" y="676.4" width="10.6" height="34.6" fill="#1212ff"/>
<rect x="1335.5" y="676.4" width="5.5" height="34.6" fill="#0d0dff"/>
<rect x="1340.6" y="676.4" width="10.6" height="34.6" fill="#1212ff"/>
<rect x="1350.6" y="676.4" width="15.6" height="34.6" fill="#0d0dff"/>
<rect x="1365.7" y="676.4" width="5.5" height="34.6" fill="#0707ff"/>
<rect x="1370.8" y="676.4" width="5.5" height="34.6" fill="#0d0dff"/>
<rect x="1375.8" y="676.4" width="15.6" height="34.6" fill="#0707ff"/>
<rect x="1390.9" y="676.4" width="40.7" height="34.6" fill="#0101ff"/>
<rect x="1431.1" y="676.4" width="5.5" height="34.6" fill="#0000ff"/>
<rect x="1436.2" y="676.4" width="5.5" height="34.6" fill="#0101ff"/>
<rect x="1441.2" y="676.4" width="10.6" height="34.6" fill="#0000ff"/>
<rect x="1451.2" y="676.4" width="5.5" height="34.6" fill="#0101ff"/>
<rect x="1456.3" y="676.4" width="18.2" height="34.6" fill="#0000ff"/>
<rect x="958.3" y="642.3" width="5.5" height="34.6" fill="#ff6f6f"/>
<rect x="963.3" y="642.3" width="30.7" height="34.6" fill="#ff0000"/>
<rect x="993.5" y="642.3" width="5.5" height="34.6" fill="#ff9494"/>
<rect x="998.5" y="642.3" width="5.5" height="34.6" fill="#ffb8b8"/>
<rect x="1003.6" y="642.3" width="15.6" height="34.6" fill="#ff9494"/>
<rect x="1018.7" y="642.3" width="35.7" height="34.6" fill="#ffffff"/>
<rect x="1053.9" y="642.3" width="5.5" height="34.6" fill="#f5f5ff"/>
<rect x="1058.9" y="642.3" width="5.5" height="34.6" fill="#eaeaff"/>
<rect x="1063.9" y="642.3" width="5.5" height="34.6" fill="#e4e4ff"/>
<rect x="1069" y="642.3" width="5.5" height="34.6" fill="#dedeff"/>
<rect x="1074" y="642.3" width="5.5" height="34.6" fill="#d8d8ff"/>
<rect x="1079" y="642.3" width="5.5" height="34.6" fill="#d3d3ff"/>
<rect x="1084" y="642.3" width="5.5" height="34.6" fill="#cdcdff"/>
<rect x="1089.1" y="642.3" width="10.6" height="34.6" fill="#c7c7ff"/>
<rect x="1099.1" y="642.3" width="10.6" height="34.6" fill="#bbbbff"/>
<rect x="1109.2" y="642.3" width="5.5" height="34.6" fill="#b5b5ff"/>
<rect x="1114.2" y="642.3" width="5.5" height="34.6" fill="#b0b0ff"/>
<rect x="1119.3" y="642.3" width="10.6" height="34.6" fill="#aaaaff"/>
<rect x="1129.3" y="642.3" width="5.5" height="34.6" fill="#9e9eff"/>
<rect x="1134.3" y="642.3" width="5.5" height="34.6" fill="#9898ff"/>
<rect x="1139.4" y="642.3" width="10.6" height="34.6" fill="#9292ff"/>
<rect x="1149.4" y="642.3" width="5.5" height="34.6" fill="#8d8dff"/>
<rect x="1154.5" y="642.3" width="5.5" height="34.6" fill="#8787ff"/>
<rect x="1159.5" y="642.3" width="10.6" height="34.6" fill="#8181ff"/>
<rect x="1169.6" y="642.3" width="5.5" height="34.6" fill="#7575ff"/>
<rect x="1174.6" y="642.3" width="5.5" height="34.6" fill="#7b7bff"/>
<rect x="1179.6" y="642.3" width="5.5" height="34.6" fill="#7070ff"/>
<rect x="1184.7" y="642.3" width="5.5" height="34.6" fill="#6a6aff"/>
<rect x="1189.7" y="642.3" width="10.6" height="34.6" fill="#6464ff"/>
<rect x="1199.7" y="642.3" width="5.5" height="34.6" fill="#5e5eff"/>
<rect x="1204.8" y="642.3" width="10.6" height="34.6" fill="#5858ff"/>
<rect x="1214.8" y="642.3" width="10.6" height="34.6" fill="#5252ff"/>
<rect x="1224.9" y="642.3" width="5.5" height="34.6" fill="#4d4dff"/>
<rect x="1229.9" y="642.3" width="10.6" height="34.6" fill="#4747ff"/>
<rect x="1240" y="642.3" width="15.6" height="34.6" fill="#4141ff"/>
<rect x="1255.1" y="642.3" width="5.5" height="34.6" fill="#3b3bff"/>
<rect x="1260.1" y="642.3" width="15.6" height="34.6" fill="#3535ff"/>
<rect x="1275.2" y="642.3" width="15.6" height="34.6" fill="#3030ff"/>
<rect x="1290.3" y="642.3" width="10.6" height="34.6" fill="#2a2aff"/>
<rect x="1300.3" y="642.3" width="15.6" height="34.6" fill="#2424ff"/>
<rect x="1315.4" y="642.3" width="15.6" height="34.6" fill="#1e1eff"/>
<rect x="1330.5" y="642.3" width="15.6" height="34.6" fill="#1818ff"/>
<rect x="1345.6" y="642.3" width="15.6" height="34.6" fill="#1212ff"/>
<rect x="1360.7" y="642.3" width="25.6" height="34.6" fill="#0d0dff"/>
<rect x="1385.8" y="642.3" width="25.7" height="34.6" fill="#0707ff"/>
<rect x="1411" y="642.3" width="5.5" height="34.6" fill="#0101ff"/>
<rect x="1416" y="642.3" width="5.5" height="34.6" fill="#0707ff"/>
<rect x="1421.1" y="642.3" width="5.5" height="34.6" fill="#0101ff"/>
<rect x="1426.1" y="642.3" width="5.5" height="34.6" fill="#0707ff"/>
<rect x="1431.1" y="642.3" width="30.7" height="34.6" fill="#0101ff"/>
<rect x="1461.3" y="642.3" width="5.5" height="34.6" fill="#0000ff"/>
<rect x="1466.3" y="642.3" width="8.2" height="34.6" fill="#0101ff"/>
<rect x="958.3" y="608.3" width="5.5" height="34.6" fill="#ff6f6f"/>
<rect x="963.3" y="608.3" width="25.6" height="34.6" fill="#ff0000"/>
<rect x="988.5" y="608.3" width="5.5" height="34.6" fill="#ff2525"/>
<rect x="993.5" y="608.3" width="10.6" height="34.6" fill="#ff4a4a"/>
<rect x="1003.6" y="608.3" width="5.5" height="34.6" fill="#ffb8b8"/>
<rect x="1008.6" y="608.3" width="5.5" height="34.6" fill="#ff9494"/>
<rect x="1013.6" y="608.3" width="35.7" height="34.6" fill="#ffffff"/>
<rect x="1048.8" y="608.3" width="5.5" height="34.6" fill="#fbfbff"/>
<rect x="1053.9" y="608.3" width="5.5" height="34.6" fill="#f5f5ff"/>
<rect x="1058.9" y="608.3" width="5.5" height="34.6" fill="#eaeaff"/>
<rect x="1063.9" y="608.3" width="5.5" height="34.6" fill="#dedeff"/>
<rect x="1069" y="608.3" width="5.5" height="34.6" fill="#d8d8ff"/>
<rect x="1074" y="608.3" width="5.5" height="34.6" fill="#d3d3ff"/>
<rect x="1079" y="608.3" width="5.5" height="34.6" fill="#cdcdff"/>
<rect x="1084" y="608.3" width="5.5" height="34.6" fill="#c7c7ff"/>
<rect x="1089.1" y="608.3" width="5.5" height="34.6" fill="#c1c1ff"/>
<rect x="1094.1" y="608.3" width="5.5" height="34.6" fill="#bbbbff"/>
<rect x="1099.1" y="608.3" width="10.6" height="34.6" fill="#b5b5ff"/>
<rect x="1109.2" y="608.3" width="5.5" height="34.6" fill="#b0b0ff"/>
<rect x="1114.2" y="608.3" width="5.5" height="34.6" fill="#aaaaff"/>
<rect x="1119.3" y="608.3" width="5.5" height="34.6" fill="#a4a4ff"/>
<rect x="1124.3" y="608.3" width="5.5" height="34.6" fill="#9e9eff"/>
<rect x="1129.3" y="608.3" width="10.6" height="34.6" fill="#9898ff"/>
<rect x="1139.4" y="608.3" width="5.5" height="34.6" fill="#9292ff"/>
<rect x="1144.4" y="608.3" width="5.5" height="34.6" fill="#8d8dff"/>
<rect x="1149.4" y="608.3" width="10.6" height="34.6" fill="#8787ff"/>
<rect x="1159.5" y="608.3" width="10.6" height="34.6" fill="#7b7bff"/>
<rect x="1169.6" y="608.3" width="10.6" height="34.6" fill="#7070ff"/>
<rect x="1179.6" y="608.3" width="10.6" height="34.6" fill="#6a6aff"/>
<rect x="1189.7" y="608.3" width="10.6" height="34.6" fill="#5e5eff"/>
<rect x="1199.7" y="608.3" width="5.5" height="34.6" fill="#5858ff"/>
<rect x="1204.8" y="608.3" width="5.5" height="34.6" fill="#5252ff"/>
<rect x="1209.8" y="608.3" width="10.6" height="34.6" fill="#4d4dff"/>
<rect x="1219.9" y="608.3" width="10.6" height="34.6" fill="#4747ff"/>
<rect x="1229.9" y="608.3" width="10.6" height="34.6" fill="#4141ff"/>
<rect x="1240" y="608.3" width="5.5" height="34.6" fill="#3b3bff"/>
<rect x="1245" y="608.3" width="15.6" height="34.6" fill="#3535ff"/>
<rect x="1260.1" y="608.3" width="5.5" height="34.6" fill="#3030ff"/>
<rect x="1265.1" y="608.3" width="5.5" height="34.6" fill="#2a2aff"/>
<rect x="1270.2" y="608.3" width="5.5" height="34.6" fill="#3030ff"/>
<rect x="1275.2" y="608.3" width="10.6" height="34.6" fill="#2a2aff"/>
<rect x="1285.2" y="608.3" width="10.6" height="34.6" fill="#2424ff"/>
<rect x="1295.3" y="608.3" width="15.6" height="34.6" fill="#1e1eff"/>
<rect x="1310.4" y="608.3" width="20.6" height="34.6" fill="#1818ff"/>
<rect x="1330.5" y="608.3" width="15.6" height="34.6" fill="#1212ff"/>
<rect x="1345.6" y="608.3" width="25.7" height="34.6" fill="#0d0dff"/>
<rect x="1370.8" y="608.3" width="25.6" height="34.6" fill="#0707ff"/>
<rect x="1395.9" y="608.3" width="5.5" height="34.6" fill="#0101ff"/>
<rect x="1400.9" y="608.3" width="5.5" height="34.6" fill="#0707ff"/>
<rect x="1406" y="608.3" width="40.7" height="34.6" fill="#0101ff"/>
<rect x="1446.2" y="608.3" width="28.3" height="34.6" fill="#0000ff"/>
<rect x="958.3" y="574.2" width="5.5" height="34.6" fill="#ff9494"/>
<rect x="963.3" y="574.2" width="25.6" height="34.6" fill="#ff0000"/>
<rect x="988.5" y="574.2" width="5.5" height="34.6" fill="#ff4a4a"/>
<rect x="993.5" y="574.2" width="20.6" height="34.6" fill="#ff9494"/>
<rect x="1013.6" y="574.2" width="35.7" height="34.6" fill="#ffffff"/>
<rect x="1048.8" y="574.2" width="5.5" height="34.6" fill="#fbfbff"/>
<rect x="1053.9" y="574.2" width="5.5" height="34.6" fill="#eaeaff"/>
<rect x="1058.9" y="574.2" width="5.5" height="34.6" fill="#dedeff"/>
<rect x="1063.9" y="574.2" width="5.5" height="34.6" fill="#d8d8ff"/>
<rect x="1069" y="574.2" width="5.5" height="34.6" fill="#d3d3ff"/>
<rect x="1074" y="574.2" width="10.6" height="34.6" fill="#c7c7ff"/>
<rect x="1084" y="574.2" width="5.5" height="34.6" fill="#bbbbff"/>
<rect x="1089.1" y="574.2" width="10.6" height="34.6" fill="#b5b5ff"/>
<rect x="1099.1" y="574.2" width="5.5" height="34.6" fill="#b0b0ff"/>
<rect x="1104.2" y="574.2" width="5.5" height="34.6" fill="#aaaaff"/>
<rect x="1109.2" y="574.2" width="5.5" height="34.6" fill="#a4a4ff"/>
<rect x="1114.2" y="574.2" width="5.5" height="34.6" fill="#9e9eff"/>
<rect x="1119.3" y="574.2" width="10.6" height="34.6" fill="#9898ff"/>
<rect x="1129.3" y="574.2" width="5.5" height="34.6" fill="#9292ff"/>
<rect x="1134.3" y="574.2" width="5.5" height="34.6" fill="#8d8dff"/>
<rect x="1139.4" y="574.2" width="5.5" height="34.6" fill="#8787ff"/>
<rect x="1144.4" y="574.2" width="5.5" height="34.6" fill="#8181ff"/>
<rect x="1149.4" y="574.2" width="10.6" height="34.6" fill="#7b7bff"/>
<rect x="1159.5" y="574.2" width="5.5" height="34.6" fill="#7575ff"/>
<rect x="1164.5" y="574.2" width="5.5" height="34.6" fill="#7070ff"/>
<rect x="1169.6" y="574.2" width="10.6" height="34.6" fill="#6a6aff"/>
<rect x="1179.6" y="574.2" width="5.5" height="34.6" fill="#6464ff"/>
<rect x="1184.7" y="574.2" width="5.5" height="34.6" fill="#5e5eff"/>
<rect x="1189.7" y="574.2" width="10.6" height="34.6" fill="#5858ff"/>
<rect x="1199.7" y="574.2" width="5.5" height="34.6" fill="#5252ff"/>
<rect x="1204.8" y="574.2" width="5.5" height="34.6" fill="#4d4dff"/>
<rect x="1209.8" y="574.2" width="10.6" height="34.6" fill="#4747ff"/>
<rect x="1219.9" y="574.2" width="10.6" height="34.6" fill="#4141ff"/>
<rect x="1229.9" y="574.2" width="10.6" height="34.6" fill="#3b3bff"/>
<rect x="1240" y="574.2" width="5.5" height="34.6" fill="#3535ff"/>
<rect x="1245" y="574.2" width="15.6" height="34.6" fill="#3030ff"/>
<rect x="1260.1" y="574.2" width="15.6" height="34.6" fill="#2a2aff"/>
<rect x="1275.2" y="574.2" width="5.5" height="34.6" fill="#1e1eff"/>
<rect x="1280.2" y="574.2" width="10.6" height="34.6" fill="#2424ff"/>
<rect x="1290.3" y="574.2" width="10.6" height="34.6" fill="#1e1eff"/>
<rect x="1300.3" y="574.2" width="5.5" height="34.6" fill="#1212ff"/>
<rect x="1305.4" y="574.2" width="5.5" height="34.6" fill="#1818ff"/>
<rect x="1310.4" y="574.2" width="20.6" height="34.6" fill="#1212ff"/>
<rect x="1330.5" y="574.2" width="10.6" height="34.6" fill="#0d0dff"/>
<rect x="1340.6" y="574.2" width="35.7" height="34.6" fill="#0707ff"/>
<rect x="1375.8" y="574.2" width="30.7" height="34.6" fill="#0101ff"/>
<rect x="1406" y="574.2" width="10.6" height="34.6" fill="#0000ff"/>
<rect x="1416" y="574.2" width="5.5" height="34.6" fill="#0101ff"/>
<rect x="1421.1" y="574.2" width="10.6" height="34.6" fill="#0000ff"/>
<rect x="1431.1" y="574.2" width="10.6" height="34.6" fill="#0101ff"/>
<rect x="1441.2" y="574.2" width="10.6" height="34.6" fill="#0000ff"/>
<rect x="1451.2" y="574.2" width="5.5" height="34.6" fill="#0101ff"/>
<rect x="1456.3" y="574.2" width="18.2" height="34.6" fill="#0000ff"/>
</g>
<path d="M991,582 L991,584 L991,586 L991,588 L991,590 L991,592 L991,594 L991,596 L991,598 L991,600 L991,602 L991,604 L991,606 L991,608 L991,610 L991,612 L991,614 L991,616 L991,618 L991,620 L991.1,622 L991.1,624 L991.1,626 L991.1,628 L991.1,630 L991.1,632 L991.1,634 L991.1,636 L991.1,638 L991.1,640 L991.1,642 L991.1,644 L991.1,646 L991.1,648 L991.1,650 L991.2,652 L991.2,654 L991.2,656 L991.2,658 L991.2,660 L991.3,662 L991.3,664 L991.3,666 L991.3,668 L991.3,670 L991.4,672 L991.4,674 L991.4,676 L991.4,678 L991.5,680 L991.5,682 L991.5,684 L991.6,686 L991.6,688 L991.6,690 L991.7,692 L991.7,694 L991.7,696 L991.8,698 L991.8,700 L991.9,702 L991.9,704 L992,706 L992,708 L992.1,710 L992.1,712 L992.2,714 L992.3,716 L992.3,718 L992.4,720 L992.4,722 L992.5,724 L992.5,726 L992.6,728 L992.6,730 L992.7,732 L992.7,734 L992.8,736 L992.9,738 L992.9,740 L993,742 L993.1,744 L993.2,746 L993.3,748 L993.4,750 L993.5,752 L993.6,754 L993.7,756 L993.9,758 L994,760 L994.1,762 L994.3,764 L994.4,766 L994.6,768 L994.8,770 L995,772 L995.2,774 L995.4,776 L995.6,778 L995.9,780 L996.1,782 L996.3,784 L996.5,786 L996.7,788 L997,790 L997.2,792 L997.4,794 L997.6,796 L997.8,798 L998,800 L998.2,802 L998.5,804 L998.7,806 L998.9,808 L999.2,810 L999.5,812 L999.8,814 L1000.1,816 L1000.5,818 L1000.9,820 L1001.3,822 L1001.7,824 L1002.1,826 L1002.5,828 L1003,830 L1003.5,832 L1003.9,834 L1004.4,836 L1004.9,838 L1005.4,840 L1005.9,842 L1006.5,844 L1007,846 L1007.6,848 L1008.2,850 L1008.8,852 L1009.4,854 L1010,856 L1010.6,858 L1011.3,860 L1012,862 L1012.7,864 L1013.4,866 L1014.1,868 L1014.9,870 L1015.7,872 L1016.5,874 L1017.3,876 L1018.1,878 L1018.9,880 L1019.7,882 L1020.6,884 L1021.4,886 L1022.2,888 L1023.1,890 L1023.9,892 L1024.8,894 L1025.7,896 L1026.5,898 L1027.4,900 L1028.3,902 L1029.3,904 L1030.2,906 L1031.1,908 L1032.1,910 L1033.1,912 L1034.2,914 L1035.2,916 L1036.2,918 L1037.3,920 L1038.3,922 L1039.3,924 L1040.3,926 L1041.2,928 L1042.2,930 L1043.1,932 L1044,934 L1044.9,936 L1045.8,938 L1046.7,940 L1047.6,942 L1048.5,944 L1049.4,946 L1050.3,948 L1051.3,950 L1052.3,952 L1053.3,954 L1054.3,956 L1055.4,958 L1056.4,960 L1057.5,962 L1058.6,964 L1059.7,966 L1060.7,968 L1061.8,970 L1062.9,972 L1063.9,974 L1065,976 L1066,978 L1067.1,980 L1068.1,982 L1069.2,984 L1070.3,986 L1071.3,988 L1072.4,990 L1073.5,992 L1074.5,994 L1075.6,996 L1076.6,998 L1077.7,1000 L1078.8,1002 L1079.8,1004 L1080.9,1006 L1082,1008 L1083,1010 L1084.1,1012 L1085.2,1014 L1086.3,1016 L1087.3,1018 L1088.4,1020 L1089.4,1022 L1090.5,1024 L1091.6,1026 L1092.6,1028 L1093.7,1030 L1094.8,1032 L1095.9,1034 L1097.1,1036 L1098.2,1038 L1099.5,1040 L1100.7,1042 L1102,1044" fill="none" stroke="#000" stroke-width="5.8" stroke-dasharray="17.5 7.2"/>
<rect x="958.3" y="574.2" width="515.7" height="476.8" fill="none" stroke="#1f1f1f" stroke-width="2.4"/>
<line x1="959.2" y1="1051" x2="959.2" y2="1045.5" stroke="#1f1f1f" stroke-width="2.2"/>
<line x1="959.2" y1="574.2" x2="959.2" y2="579.7" stroke="#1f1f1f" stroke-width="2.2"/>
<text x="959.2" y="1093.2" font-size="32.5" text-anchor="middle">0</text>
<line x1="1062.3" y1="1051" x2="1062.3" y2="1045.5" stroke="#1f1f1f" stroke-width="2.2"/>
<line x1="1062.3" y1="574.2" x2="1062.3" y2="579.7" stroke="#1f1f1f" stroke-width="2.2"/>
<text x="1062.3" y="1093.2" font-size="32.5" text-anchor="middle">0.5</text>
<line x1="1165.4" y1="1051" x2="1165.4" y2="1045.5" stroke="#1f1f1f" stroke-width="2.2"/>
<line x1="1165.4" y1="574.2" x2="1165.4" y2="579.7" stroke="#1f1f1f" stroke-width="2.2"/>
<text x="1165.4" y="1093.2" font-size="32.5" text-anchor="middle">1</text>
<line x1="1268.5" y1="1051" x2="1268.5" y2="1045.5" stroke="#1f1f1f" stroke-width="2.2"/>
<line x1="1268.5" y1="574.2" x2="1268.5" y2="579.7" stroke="#1f1f1f" stroke-width="2.2"/>
<text x="1268.5" y="1093.2" font-size="32.5" text-anchor="middle">1.5</text>
<line x1="1371.6" y1="1051" x2="1371.6" y2="1045.5" stroke="#1f1f1f" stroke-width="2.2"/>
<line x1="1371.6" y1="574.2" x2="1371.6" y2="579.7" stroke="#1f1f1f" stroke-width="2.2"/>
<text x="1371.6" y="1093.2" font-size="32.5" text-anchor="middle">2</text>
<line x1="1474.7" y1="1051" x2="1474.7" y2="1045.5" stroke="#1f1f1f" stroke-width="2.2"/>
<line x1="1474.7" y1="574.2" x2="1474.7" y2="579.7" stroke="#1f1f1f" stroke-width="2.2"/>
<text x="1474.7" y="1093.2" font-size="32.5" text-anchor="middle">2.5</text>
<line x1="958.3" y1="1034" x2="963.8" y2="1034" stroke="#1f1f1f" stroke-width="2.2"/>
<line x1="1474" y1="1034" x2="1468.5" y2="1034" stroke="#1f1f1f" stroke-width="2.2"/>
<text x="948" y="1046.8" font-size="32.5" text-anchor="end">0</text>
<line x1="958.3" y1="945.3" x2="963.8" y2="945.3" stroke="#1f1f1f" stroke-width="2.2"/>
<line x1="1474" y1="945.3" x2="1468.5" y2="945.3" stroke="#1f1f1f" stroke-width="2.2"/>
<text x="948" y="958.1" font-size="32.5" text-anchor="end">20</text>
<line x1="958.3" y1="856.6" x2="963.8" y2="856.6" stroke="#1f1f1f" stroke-width="2.2"/>
<line x1="1474" y1="856.6" x2="1468.5" y2="856.6" stroke="#1f1f1f" stroke-width="2.2"/>
<text x="948" y="869.4" font-size="32.5" text-anchor="end">40</text>
<line x1="958.3" y1="767.9" x2="963.8" y2="767.9" stroke="#1f1f1f" stroke-width="2.2"/>
<line x1="1474" y1="767.9" x2="1468.5" y2="767.9" stroke="#1f1f1f" stroke-width="2.2"/>
<text x="948" y="780.7" font-size="32.5" text-anchor="end">60</text>
<line x1="958.3" y1="679.2" x2="963.8" y2="679.2" stroke="#1f1f1f" stroke-width="2.2"/>
<line x1="1474" y1="679.2" x2="1468.5" y2="679.2" stroke="#1f1f1f" stroke-width="2.2"/>
<text x="948" y="692" font-size="32.5" text-anchor="end">80</text>
<line x1="958.3" y1="590.5" x2="963.8" y2="590.5" stroke="#1f1f1f" stroke-width="2.2"/>
<line x1="1474" y1="590.5" x2="1468.5" y2="590.5" stroke="#1f1f1f" stroke-width="2.2"/>
<text x="948" y="603.3" font-size="32.5" text-anchor="end">100</text>
<text x="1216.3" y="1136.5" font-size="32.5" text-anchor="middle" textLength="143" lengthAdjust="spacingAndGlyphs">Time (ns)</text>
<text transform="translate(881.2,812.2) rotate(-90) scale(1.026,1)" font-size="34" text-anchor="middle">Excitation Fluence (<tspan style="font-family:'Liberation Serif',serif;font-style:italic">μ</tspan>J/cm<tspan font-size="25" dy="-15">2</tspan><tspan dy="15">)</tspan></text>
<g shape-rendering="crispEdges">
<rect x="1513.5" y="1042.3" width="39.5" height="8" fill="#0000ff"/>
<rect x="1513.5" y="1034.8" width="39.5" height="8" fill="#0000ff"/>
<rect x="1513.5" y="1027.4" width="39.5" height="8" fill="#0000ff"/>
<rect x="1513.5" y="1019.9" width="39.5" height="8" fill="#0000ff"/>
<rect x="1513.5" y="1012.5" width="39.5" height="8" fill="#0101ff"/>
<rect x="1513.5" y="1005" width="39.5" height="8" fill="#0707ff"/>
<rect x="1513.5" y="997.6" width="39.5" height="8" fill="#0d0dff"/>
<rect x="1513.5" y="990.1" width="39.5" height="8" fill="#1212ff"/>
<rect x="1513.5" y="982.7" width="39.5" height="8" fill="#1818ff"/>
<rect x="1513.5" y="975.2" width="39.5" height="8" fill="#1e1eff"/>
<rect x="1513.5" y="967.8" width="39.5" height="8" fill="#2424ff"/>
<rect x="1513.5" y="960.4" width="39.5" height="8" fill="#2a2aff"/>
<rect x="1513.5" y="952.9" width="39.5" height="8" fill="#3030ff"/>
<rect x="1513.5" y="945.5" width="39.5" height="8" fill="#3535ff"/>
<rect x="1513.5" y="938" width="39.5" height="8" fill="#3b3bff"/>
<rect x="1513.5" y="930.6" width="39.5" height="8" fill="#4141ff"/>
<rect x="1513.5" y="923.1" width="39.5" height="8" fill="#4747ff"/>
<rect x="1513.5" y="915.7" width="39.5" height="8" fill="#4d4dff"/>
<rect x="1513.5" y="908.2" width="39.5" height="8" fill="#5252ff"/>
<rect x="1513.5" y="900.8" width="39.5" height="8" fill="#5858ff"/>
<rect x="1513.5" y="893.3" width="39.5" height="8" fill="#5e5eff"/>
<rect x="1513.5" y="885.9" width="39.5" height="8" fill="#6464ff"/>
<rect x="1513.5" y="878.5" width="39.5" height="8" fill="#6a6aff"/>
<rect x="1513.5" y="871" width="39.5" height="8" fill="#7070ff"/>
<rect x="1513.5" y="863.6" width="39.5" height="8" fill="#7575ff"/>
<rect x="1513.5" y="856.1" width="39.5" height="8" fill="#7b7bff"/>
<rect x="1513.5" y="848.7" width="39.5" height="8" fill="#8181ff"/>
<rect x="1513.5" y="841.2" width="39.5" height="8" fill="#8787ff"/>
<rect x="1513.5" y="833.8" width="39.5" height="8" fill="#8d8dff"/>
<rect x="1513.5" y="826.3" width="39.5" height="8" fill="#9292ff"/>
<rect x="1513.5" y="818.9" width="39.5" height="8" fill="#9898ff"/>
<rect x="1513.5" y="811.5" width="39.5" height="8" fill="#9e9eff"/>
<rect x="1513.5" y="804" width="39.5" height="8" fill="#a4a4ff"/>
<rect x="1513.5" y="796.6" width="39.5" height="8" fill="#aaaaff"/>
<rect x="1513.5" y="789.1" width="39.5" height="8" fill="#b0b0ff"/>
<rect x="1513.5" y="781.7" width="39.5" height="8" fill="#b5b5ff"/>
<rect x="1513.5" y="774.2" width="39.5" height="8" fill="#bbbbff"/>
<rect x="1513.5" y="766.8" width="39.5" height="8" fill="#c1c1ff"/>
<rect x="1513.5" y="759.3" width="39.5" height="8" fill="#c7c7ff"/>
<rect x="1513.5" y="751.9" width="39.5" height="8" fill="#cdcdff"/>
<rect x="1513.5" y="744.4" width="39.5" height="8" fill="#d3d3ff"/>
<rect x="1513.5" y="737" width="39.5" height="8" fill="#d8d8ff"/>
<rect x="1513.5" y="729.6" width="39.5" height="8" fill="#dedeff"/>
<rect x="1513.5" y="722.1" width="39.5" height="8" fill="#e4e4ff"/>
<rect x="1513.5" y="714.7" width="39.5" height="8" fill="#eaeaff"/>
<rect x="1513.5" y="707.2" width="39.5" height="8" fill="#f0f0ff"/>
<rect x="1513.5" y="699.8" width="39.5" height="8" fill="#f5f5ff"/>
<rect x="1513.5" y="692.3" width="39.5" height="8" fill="#fbfbff"/>
<rect x="1513.5" y="684.9" width="39.5" height="8" fill="#ffffff"/>
<rect x="1513.5" y="677.4" width="39.5" height="8" fill="#ffffff"/>
<rect x="1513.5" y="670" width="39.5" height="8" fill="#ffffff"/>
<rect x="1513.5" y="662.5" width="39.5" height="8" fill="#ffffff"/>
<rect x="1513.5" y="655.1" width="39.5" height="8" fill="#ffffff"/>
<rect x="1513.5" y="647.7" width="39.5" height="8" fill="#ffffff"/>
<rect x="1513.5" y="640.2" width="39.5" height="8" fill="#ffffff"/>
<rect x="1513.5" y="632.8" width="39.5" height="8" fill="#ffffff"/>
<rect x="1513.5" y="625.3" width="39.5" height="8" fill="#ffffff"/>
<rect x="1513.5" y="617.9" width="39.5" height="8" fill="#ffdddd"/>
<rect x="1513.5" y="610.4" width="39.5" height="8" fill="#ffb8b8"/>
<rect x="1513.5" y="603" width="39.5" height="8" fill="#ff9494"/>
<rect x="1513.5" y="595.5" width="39.5" height="8" fill="#ff6f6f"/>
<rect x="1513.5" y="588.1" width="39.5" height="8" fill="#ff4a4a"/>
<rect x="1513.5" y="580.6" width="39.5" height="8" fill="#ff2525"/>
<rect x="1513.5" y="573.2" width="39.5" height="8" fill="#ff0000"/>
</g>
<rect x="1513.5" y="573.5" width="39.5" height="476.5" fill="none" stroke="#4d4d4d" stroke-width="1.2"/>
<line x1="1548.5" y1="1038.4" x2="1553" y2="1038.4" stroke="#404040" stroke-width="1.6"/>
<text x="1561.5" y="1049.4" font-size="28.5">0.2</text>
<line x1="1548.5" y1="922.2" x2="1553" y2="922.2" stroke="#404040" stroke-width="1.6"/>
<text x="1561.5" y="933.2" font-size="28.5">0.4</text>
<line x1="1548.5" y1="805.9" x2="1553" y2="805.9" stroke="#404040" stroke-width="1.6"/>
<text x="1561.5" y="816.9" font-size="28.5">0.6</text>
<line x1="1548.5" y1="689.7" x2="1553" y2="689.7" stroke="#404040" stroke-width="1.6"/>
<text x="1561.5" y="700.7" font-size="28.5">0.8</text>
<line x1="1548.5" y1="573.5" x2="1553" y2="573.5" stroke="#404040" stroke-width="1.6"/>
<text x="1561.5" y="584.5" font-size="28.5">1</text>
<text transform="translate(1640.2,810.5) rotate(-90)" font-size="30" text-anchor="middle" textLength="312.5" lengthAdjust="spacingAndGlyphs">Normalized PL  Counts</text>
<text x="832" y="599" font-size="61" style="font-family:'Liberation Serif',serif">d</text>
</svg></body></html>
